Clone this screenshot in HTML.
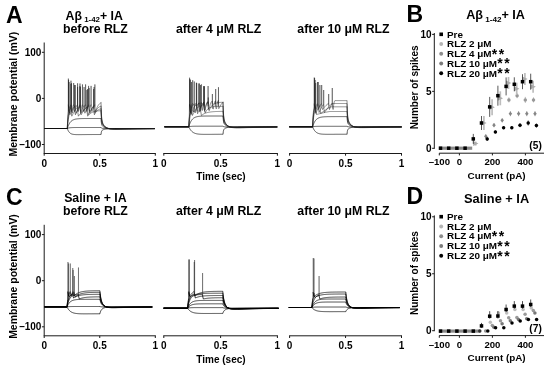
<!DOCTYPE html>
<html><head><meta charset="utf-8"><style>html,body{margin:0;padding:0;background:#fff;width:550px;height:370px;overflow:hidden}</style></head>
<body>
<svg width="550" height="370" viewBox="0 0 550 370" style="display:block;filter:blur(0.38px)">
<rect width="550" height="370" fill="#fff"/>
<g font-family='"Liberation Sans", sans-serif' fill="#000">
<text x="5.9" y="22.7" font-size="23" font-weight="bold" text-anchor="start" >A</text>
<line x1="44.2" y1="42.5" x2="44.2" y2="153.5" stroke="#1a1a1a" stroke-width="1.0"/>
<line x1="41.9" y1="52.3" x2="44.2" y2="52.3" stroke="#1a1a1a" stroke-width="1.0"/>
<line x1="41.9" y1="98.4" x2="44.2" y2="98.4" stroke="#1a1a1a" stroke-width="1.0"/>
<line x1="41.9" y1="144.5" x2="44.2" y2="144.5" stroke="#1a1a1a" stroke-width="1.0"/>
<text x="41.4" y="55.8" font-size="10" font-weight="bold" text-anchor="end" >100</text>
<text x="41.4" y="101.9" font-size="10" font-weight="bold" text-anchor="end" >0</text>
<text x="41.4" y="148" font-size="10" font-weight="bold" text-anchor="end" >–100</text>
<text transform="translate(16.6 94.2) rotate(-90)" font-size="10.45" font-weight="bold" text-anchor="middle">Membrane potential (mV)</text>
<line x1="43.7" y1="153.5" x2="155.8" y2="153.5" stroke="#1a1a1a" stroke-width="1.0"/>
<line x1="44.2" y1="153.5" x2="44.2" y2="155.7" stroke="#1a1a1a" stroke-width="1.0"/>
<text x="44.2" y="166.6" font-size="10" font-weight="bold" text-anchor="middle" >0</text>
<line x1="99.75" y1="153.5" x2="99.75" y2="155.7" stroke="#1a1a1a" stroke-width="1.0"/>
<text x="99.75" y="166.6" font-size="10" font-weight="bold" text-anchor="middle" >0.5</text>
<line x1="155.3" y1="153.5" x2="155.3" y2="155.7" stroke="#1a1a1a" stroke-width="1.0"/>
<text x="155.3" y="166.6" font-size="10" font-weight="bold" text-anchor="middle" >1</text>
<line x1="163.3" y1="153.5" x2="277.9" y2="153.5" stroke="#1a1a1a" stroke-width="1.0"/>
<line x1="163.8" y1="153.5" x2="163.8" y2="155.7" stroke="#1a1a1a" stroke-width="1.0"/>
<text x="163.8" y="166.6" font-size="10" font-weight="bold" text-anchor="middle" >0</text>
<line x1="220.6" y1="153.5" x2="220.6" y2="155.7" stroke="#1a1a1a" stroke-width="1.0"/>
<text x="220.6" y="166.6" font-size="10" font-weight="bold" text-anchor="middle" >0.5</text>
<line x1="277.4" y1="153.5" x2="277.4" y2="155.7" stroke="#1a1a1a" stroke-width="1.0"/>
<text x="277.4" y="166.6" font-size="10" font-weight="bold" text-anchor="middle" >1</text>
<line x1="289.1" y1="153.5" x2="402" y2="153.5" stroke="#1a1a1a" stroke-width="1.0"/>
<line x1="289.6" y1="153.5" x2="289.6" y2="155.7" stroke="#1a1a1a" stroke-width="1.0"/>
<text x="289.6" y="166.6" font-size="10" font-weight="bold" text-anchor="middle" >0</text>
<line x1="345.55" y1="153.5" x2="345.55" y2="155.7" stroke="#1a1a1a" stroke-width="1.0"/>
<text x="345.55" y="166.6" font-size="10" font-weight="bold" text-anchor="middle" >0.5</text>
<line x1="401.5" y1="153.5" x2="401.5" y2="155.7" stroke="#1a1a1a" stroke-width="1.0"/>
<text x="401.5" y="166.6" font-size="10" font-weight="bold" text-anchor="middle" >1</text>
<text x="221" y="180.4" font-size="10" font-weight="bold" text-anchor="middle" >Time (sec)</text>
<text x="65.6" y="20.2" font-size="12.3" font-weight="bold">Aβ<tspan font-size="7.9" dx="2.2" dy="2.1">1-42</tspan><tspan dy="-2.1">+ IA</tspan></text>
<text x="95.4" y="33" font-size="12.3" font-weight="bold" text-anchor="middle" >before RLZ</text>
<text x="218.6" y="33" font-size="12.3" font-weight="bold" text-anchor="middle" >after 4 μM RLZ</text>
<text x="343.5" y="33" font-size="12.3" font-weight="bold" text-anchor="middle" >after 10 μM RLZ</text>
<text x="5.9" y="205" font-size="23" font-weight="bold" text-anchor="start" >C</text>
<line x1="44.2" y1="224.8" x2="44.2" y2="335.8" stroke="#1a1a1a" stroke-width="1.0"/>
<line x1="41.9" y1="234.6" x2="44.2" y2="234.6" stroke="#1a1a1a" stroke-width="1.0"/>
<line x1="41.9" y1="280.7" x2="44.2" y2="280.7" stroke="#1a1a1a" stroke-width="1.0"/>
<line x1="41.9" y1="326.8" x2="44.2" y2="326.8" stroke="#1a1a1a" stroke-width="1.0"/>
<text x="41.4" y="238.1" font-size="10" font-weight="bold" text-anchor="end" >100</text>
<text x="41.4" y="284.2" font-size="10" font-weight="bold" text-anchor="end" >0</text>
<text x="41.4" y="330.3" font-size="10" font-weight="bold" text-anchor="end" >–100</text>
<text transform="translate(16.6 276.5) rotate(-90)" font-size="10.45" font-weight="bold" text-anchor="middle">Membrane potential (mV)</text>
<line x1="43.7" y1="335.8" x2="155.8" y2="335.8" stroke="#1a1a1a" stroke-width="1.0"/>
<line x1="44.2" y1="335.8" x2="44.2" y2="338" stroke="#1a1a1a" stroke-width="1.0"/>
<text x="44.2" y="348.9" font-size="10" font-weight="bold" text-anchor="middle" >0</text>
<line x1="99.75" y1="335.8" x2="99.75" y2="338" stroke="#1a1a1a" stroke-width="1.0"/>
<text x="99.75" y="348.9" font-size="10" font-weight="bold" text-anchor="middle" >0.5</text>
<line x1="155.3" y1="335.8" x2="155.3" y2="338" stroke="#1a1a1a" stroke-width="1.0"/>
<text x="155.3" y="348.9" font-size="10" font-weight="bold" text-anchor="middle" >1</text>
<line x1="163.3" y1="335.8" x2="277.9" y2="335.8" stroke="#1a1a1a" stroke-width="1.0"/>
<line x1="163.8" y1="335.8" x2="163.8" y2="338" stroke="#1a1a1a" stroke-width="1.0"/>
<text x="163.8" y="348.9" font-size="10" font-weight="bold" text-anchor="middle" >0</text>
<line x1="220.6" y1="335.8" x2="220.6" y2="338" stroke="#1a1a1a" stroke-width="1.0"/>
<text x="220.6" y="348.9" font-size="10" font-weight="bold" text-anchor="middle" >0.5</text>
<line x1="277.4" y1="335.8" x2="277.4" y2="338" stroke="#1a1a1a" stroke-width="1.0"/>
<text x="277.4" y="348.9" font-size="10" font-weight="bold" text-anchor="middle" >1</text>
<line x1="289.1" y1="335.8" x2="402" y2="335.8" stroke="#1a1a1a" stroke-width="1.0"/>
<line x1="289.6" y1="335.8" x2="289.6" y2="338" stroke="#1a1a1a" stroke-width="1.0"/>
<text x="289.6" y="348.9" font-size="10" font-weight="bold" text-anchor="middle" >0</text>
<line x1="345.55" y1="335.8" x2="345.55" y2="338" stroke="#1a1a1a" stroke-width="1.0"/>
<text x="345.55" y="348.9" font-size="10" font-weight="bold" text-anchor="middle" >0.5</text>
<line x1="401.5" y1="335.8" x2="401.5" y2="338" stroke="#1a1a1a" stroke-width="1.0"/>
<text x="401.5" y="348.9" font-size="10" font-weight="bold" text-anchor="middle" >1</text>
<text x="221" y="362.7" font-size="10" font-weight="bold" text-anchor="middle" >Time (sec)</text>
<text x="95.4" y="201.8" font-size="12.3" font-weight="bold" text-anchor="middle" >Saline + IA</text>
<text x="95.4" y="215.3" font-size="12.3" font-weight="bold" text-anchor="middle" >before RLZ</text>
<text x="218.6" y="215.3" font-size="12.3" font-weight="bold" text-anchor="middle" >after 4 μM RLZ</text>
<text x="343.5" y="215.3" font-size="12.3" font-weight="bold" text-anchor="middle" >after 10 μM RLZ</text>
<text x="406.6" y="22" font-size="23" font-weight="bold" text-anchor="start" >B</text>
<text x="466.2" y="19.4" font-size="12.6" font-weight="bold">Aβ<tspan font-size="8.1" dx="2.2" dy="2.1">1-42</tspan><tspan dy="-2.1">+ IA</tspan></text>
<line x1="434.3" y1="33" x2="434.3" y2="148.8" stroke="#1a1a1a" stroke-width="1.0"/>
<line x1="432.1" y1="34.4" x2="434.3" y2="34.4" stroke="#1a1a1a" stroke-width="1.0"/>
<text x="431.6" y="37.9" font-size="10" font-weight="bold" text-anchor="end" >10</text>
<line x1="432.1" y1="91.35" x2="434.3" y2="91.35" stroke="#1a1a1a" stroke-width="1.0"/>
<text x="431.6" y="94.85" font-size="10" font-weight="bold" text-anchor="end" >5</text>
<line x1="432.1" y1="148.3" x2="434.3" y2="148.3" stroke="#1a1a1a" stroke-width="1.0"/>
<text x="431.6" y="151.8" font-size="10" font-weight="bold" text-anchor="end" >0</text>
<text transform="translate(418.0 87.4) rotate(-90)" font-size="10.0" font-weight="bold" text-anchor="middle">Number of spikes</text>
<line x1="439.2" y1="153.2" x2="544" y2="153.2" stroke="#1a1a1a" stroke-width="1.0"/>
<line x1="439.3" y1="153.2" x2="439.3" y2="155.4" stroke="#1a1a1a" stroke-width="1.0"/>
<text x="439.3" y="165.3" font-size="9.6" font-weight="bold" text-anchor="middle" >–100</text>
<line x1="459.4" y1="153.2" x2="459.4" y2="155.4" stroke="#1a1a1a" stroke-width="1.0"/>
<text x="459.4" y="165.3" font-size="9.6" font-weight="bold" text-anchor="middle" >0</text>
<line x1="492.4" y1="153.2" x2="492.4" y2="155.4" stroke="#1a1a1a" stroke-width="1.0"/>
<text x="492.4" y="165.3" font-size="9.6" font-weight="bold" text-anchor="middle" >200</text>
<line x1="525.4" y1="153.2" x2="525.4" y2="155.4" stroke="#1a1a1a" stroke-width="1.0"/>
<text x="525.4" y="165.3" font-size="9.6" font-weight="bold" text-anchor="middle" >400</text>
<text x="496.6" y="178.8" font-size="9.9" font-weight="bold" text-anchor="middle" >Current (pA)</text>
<text x="541.8" y="149.4" font-size="10.2" font-weight="bold" text-anchor="end" >(5)</text>
<rect x="439.4" y="32.5" width="3.6" height="3.6" fill="#000"/>
<text x="447" y="37.5" font-size="9.9" font-weight="bold" text-anchor="start" >Pre</text>
<circle cx="441.2" cy="44.05" r="1.95" fill="#b4b4b4"/>
<text x="447" y="47.25" font-size="9.9" font-weight="bold" text-anchor="start" >RLZ 2 μM</text>
<circle cx="441.2" cy="53.8" r="1.95" fill="#8c8c8c"/>
<text x="447" y="57" font-size="9.9" font-weight="bold" text-anchor="start" >RLZ 4 μM<tspan font-size="14" dx="0.4" dy="1.6" letter-spacing="1.4">**</tspan></text>
<circle cx="441.2" cy="63.55" r="1.95" fill="#7a7a7a"/>
<text x="447" y="66.75" font-size="9.9" font-weight="bold" text-anchor="start" >RLZ 10 μM<tspan font-size="14" dx="0.4" dy="1.6" letter-spacing="1.4">**</tspan></text>
<circle cx="441.2" cy="73.3" r="1.95" fill="#000"/>
<text x="447" y="76.5" font-size="9.9" font-weight="bold" text-anchor="start" >RLZ 20 μM<tspan font-size="14" dx="0.4" dy="1.6" letter-spacing="1.4">**</tspan></text>
<text x="406.6" y="204.4" font-size="23" font-weight="bold" text-anchor="start" >D</text>
<text x="496.6" y="202.5" font-size="12.8" font-weight="bold" text-anchor="middle" >Saline + IA</text>
<line x1="434.3" y1="215.4" x2="434.3" y2="331.2" stroke="#1a1a1a" stroke-width="1.0"/>
<line x1="432.1" y1="216.8" x2="434.3" y2="216.8" stroke="#1a1a1a" stroke-width="1.0"/>
<text x="431.6" y="220.3" font-size="10" font-weight="bold" text-anchor="end" >10</text>
<line x1="432.1" y1="273.75" x2="434.3" y2="273.75" stroke="#1a1a1a" stroke-width="1.0"/>
<text x="431.6" y="277.25" font-size="10" font-weight="bold" text-anchor="end" >5</text>
<line x1="432.1" y1="330.7" x2="434.3" y2="330.7" stroke="#1a1a1a" stroke-width="1.0"/>
<text x="431.6" y="334.2" font-size="10" font-weight="bold" text-anchor="end" >0</text>
<text transform="translate(418.0 273.08) rotate(-90)" font-size="10.0" font-weight="bold" text-anchor="middle">Number of spikes</text>
<line x1="439.2" y1="335.6" x2="544" y2="335.6" stroke="#1a1a1a" stroke-width="1.0"/>
<line x1="439.3" y1="335.6" x2="439.3" y2="337.8" stroke="#1a1a1a" stroke-width="1.0"/>
<text x="439.3" y="347.7" font-size="9.6" font-weight="bold" text-anchor="middle" >–100</text>
<line x1="459.4" y1="335.6" x2="459.4" y2="337.8" stroke="#1a1a1a" stroke-width="1.0"/>
<text x="459.4" y="347.7" font-size="9.6" font-weight="bold" text-anchor="middle" >0</text>
<line x1="492.4" y1="335.6" x2="492.4" y2="337.8" stroke="#1a1a1a" stroke-width="1.0"/>
<text x="492.4" y="347.7" font-size="9.6" font-weight="bold" text-anchor="middle" >200</text>
<line x1="525.4" y1="335.6" x2="525.4" y2="337.8" stroke="#1a1a1a" stroke-width="1.0"/>
<text x="525.4" y="347.7" font-size="9.6" font-weight="bold" text-anchor="middle" >400</text>
<text x="496.6" y="361.2" font-size="9.9" font-weight="bold" text-anchor="middle" >Current (pA)</text>
<text x="541.8" y="331.8" font-size="10.2" font-weight="bold" text-anchor="end" >(7)</text>
<rect x="439.4" y="214.9" width="3.6" height="3.6" fill="#000"/>
<text x="447" y="219.9" font-size="9.9" font-weight="bold" text-anchor="start" >Pre</text>
<circle cx="441.2" cy="226.45" r="1.95" fill="#b4b4b4"/>
<text x="447" y="229.65" font-size="9.9" font-weight="bold" text-anchor="start" >RLZ 2 μM</text>
<circle cx="441.2" cy="236.2" r="1.95" fill="#8c8c8c"/>
<text x="447" y="239.4" font-size="9.9" font-weight="bold" text-anchor="start" >RLZ 4 μM<tspan font-size="14" dx="0.4" dy="1.6" letter-spacing="1.4">**</tspan></text>
<circle cx="441.2" cy="245.95" r="1.95" fill="#7a7a7a"/>
<text x="447" y="249.15" font-size="9.9" font-weight="bold" text-anchor="start" >RLZ 10 μM<tspan font-size="14" dx="0.4" dy="1.6" letter-spacing="1.4">**</tspan></text>
<circle cx="441.2" cy="255.7" r="1.95" fill="#000"/>
<text x="447" y="258.9" font-size="9.9" font-weight="bold" text-anchor="start" >RLZ 20 μM<tspan font-size="14" dx="0.4" dy="1.6" letter-spacing="1.4">**</tspan></text>
</g>
<g><path d="M44.5 128.5L67.3 128.5L67.55 129.19L67.8 129.81L68.05 130.36L68.3 130.85L68.55 131.28L68.8 131.67L69.05 132.01L69.3 132.32L69.55 132.59L69.8 132.83L70.05 133.05L70.3 133.24L70.55 133.41L70.8 133.56L71.05 133.69L71.3 133.81L71.55 133.91L71.8 134.01L72.05 134.09L72.3 134.16L72.55 134.22L72.8 134.28L73.05 134.33L73.3 134.37L73.55 134.41L73.8 134.44L74.05 134.47L74.3 134.5L74.55 134.52L74.8 134.54L75.05 134.55L75.3 134.57L75.55 134.58L75.8 134.59L76.05 134.6L76.3 134.61L76.55 134.61L76.8 134.62L77.05 134.62L77.3 134.62L77.55 134.62L77.8 134.63L78.05 134.63L78.3 134.63L78.55 134.63L78.8 134.63L79.05 134.63L79.3 134.63L79.55 134.62L79.8 134.62L80.05 134.62L80.3 134.62L80.55 134.62L80.8 134.62L81.05 134.61L81.3 134.61L81.55 134.61L81.8 134.61L82.05 134.6L82.3 134.6L82.55 134.6L82.8 134.6L83.05 134.6L83.3 134.59L83.55 134.59L83.8 134.59L84.05 134.59L84.3 134.58L84.55 134.58L84.8 134.58L85.05 134.58L85.3 134.58L85.55 134.57L85.8 134.57L86.05 134.57L86.3 134.57L86.55 134.57L86.8 134.56L87.05 134.56L87.3 134.56L87.55 134.56L87.8 134.56L88.05 134.56L88.3 134.55L88.55 134.55L88.8 134.55L89.05 134.55L89.3 134.55L89.55 134.55L89.8 134.55L90.05 134.55L90.3 134.54L90.55 134.54L90.8 134.54L91.05 134.54L91.3 134.54L91.55 134.54L91.8 134.54L92.05 134.54L92.3 134.53L92.55 134.53L92.8 134.53L93.05 134.53L93.3 134.53L93.55 134.53L93.8 134.53L94.05 134.53L94.3 134.53L94.55 134.53L94.8 134.53L95.05 134.53L95.3 134.52L95.55 134.52L95.8 134.52L96.05 134.52L96.3 134.52L96.55 134.52L96.8 134.52L97.05 134.52L97.3 134.52L97.55 134.52L97.8 134.52L98.05 134.52L98.3 134.52L98.55 134.52L98.8 134.52L99.05 134.52L99.3 134.52L99.55 134.52L99.8 134.51L100.05 134.51L100.3 134.51L100.55 134.51L100.8 134.51L101.05 134.51L101 134.51L101.3 132.39L101.6 131.3L101.9 130.7L102.2 130.33L102.5 130.09L102.8 129.91L103.1 129.77L103.4 129.65L103.7 129.54L104 129.44L104.3 129.36L104.6 129.28L104.9 129.21L105.2 129.15L105.5 129.09L105.8 129.04L106.1 128.99L106.4 128.94L106.7 128.91L107 128.87L107.3 128.84L107.6 128.81L107.9 128.78L108.2 128.75L108.5 128.73L108.8 128.71L109.1 128.69L109.4 128.67L109.7 128.66L110 128.64L110.3 128.63L110.6 128.62L110.9 128.61L111.2 128.6L111.5 128.59L111.8 128.58L112.1 128.57L112.4 128.57L112.7 128.56L113 128.56L113.3 128.55L113.6 128.55L113.9 128.54L114.2 128.54L114.5 128.54L114.8 128.53L115.1 128.53L115.4 128.53L115.7 128.52L116 128.52L116.3 128.52L117.3 128.51L118.3 128.51L119.3 128.51L120.3 128.51L121.3 128.5L122.3 128.5L123.3 128.5L124.3 128.5L125.3 128.5L126.3 128.5L127.3 128.5L128.3 128.5L129.3 128.5L130.3 128.5L131.3 128.5L132.3 128.5L133.3 128.5L134.3 128.5L135.3 128.5L136.3 128.5L137.3 128.5L138.3 128.5L139.3 128.5L140.3 128.5L141.3 128.5L142.3 128.5L143.3 128.5L144.3 128.5L145.3 128.5L146.3 128.5L147.3 128.5L148.3 128.5L149.3 128.5L150.3 128.5L151.3 128.5L152.3 128.5L153.3 128.5L154.3 128.5L154.8 128.5" fill="none" stroke="#0a0a0a" stroke-width="0.68" stroke-linejoin="round"/><path d="M44.5 128.5L67.3 128.5L67.55 128.38L67.8 128.28L68.05 128.19L68.3 128.11L68.55 128.04L68.8 127.97L69.05 127.92L69.3 127.87L69.55 127.82L69.8 127.79L70.05 127.75L70.3 127.72L70.55 127.7L70.8 127.67L71.05 127.65L71.3 127.64L71.55 127.62L71.8 127.61L72.05 127.59L72.3 127.58L72.55 127.57L72.8 127.56L73.05 127.56L73.3 127.55L73.55 127.54L73.8 127.54L74.05 127.53L74.3 127.53L74.55 127.53L74.8 127.52L75.05 127.52L75.3 127.52L75.55 127.52L75.8 127.51L76.05 127.51L76.3 127.51L76.55 127.51L76.8 127.51L77.05 127.51L77.3 127.51L77.55 127.51L77.8 127.51L78.05 127.5L78.3 127.5L78.55 127.5L78.8 127.5L79.05 127.5L79.3 127.5L79.55 127.5L79.8 127.5L80.05 127.5L80.3 127.5L80.55 127.5L80.8 127.5L81.05 127.5L81.3 127.5L81.55 127.5L81.8 127.5L82.05 127.5L82.3 127.5L82.55 127.5L82.8 127.5L83.05 127.5L83.3 127.5L83.55 127.5L83.8 127.5L84.05 127.5L84.3 127.5L84.55 127.5L84.8 127.5L85.05 127.5L85.3 127.5L85.55 127.5L85.8 127.5L86.05 127.5L86.3 127.5L86.55 127.5L86.8 127.5L87.05 127.5L87.3 127.5L87.55 127.5L87.8 127.5L88.05 127.5L88.3 127.5L88.55 127.5L88.8 127.5L89.05 127.5L89.3 127.5L89.55 127.5L89.8 127.5L90.05 127.5L90.3 127.5L90.55 127.5L90.8 127.5L91.05 127.5L91.3 127.5L91.55 127.5L91.8 127.5L92.05 127.5L92.3 127.5L92.55 127.5L92.8 127.5L93.05 127.5L93.3 127.5L93.55 127.5L93.8 127.5L94.05 127.5L94.3 127.5L94.55 127.5L94.8 127.5L95.05 127.5L95.3 127.5L95.55 127.5L95.8 127.5L96.05 127.5L96.3 127.5L96.55 127.5L96.8 127.5L97.05 127.5L97.3 127.5L97.55 127.5L97.8 127.5L98.05 127.5L98.3 127.5L98.55 127.5L98.8 127.5L99.05 127.5L99.3 127.5L99.55 127.5L99.8 127.5L100.05 127.5L100.3 127.5L100.55 127.5L100.8 127.5L101.05 127.5L101 127.5L101.3 127.88L101.6 128.09L101.9 128.21L102.2 128.29L102.5 128.35L102.8 128.39L103.1 128.43L103.4 128.46L103.7 128.49L104 128.51L104.3 128.54L104.6 128.56L104.9 128.57L105.2 128.59L105.5 128.6L105.8 128.61L106.1 128.63L106.4 128.64L106.7 128.64L107 128.65L107.3 128.66L107.6 128.66L107.9 128.67L108.2 128.67L108.5 128.68L108.8 128.68L109.1 128.68L109.4 128.68L109.7 128.69L110 128.69L110.3 128.69L110.6 128.69L110.9 128.69L111.2 128.69L111.5 128.69L111.8 128.69L112.1 128.69L112.4 128.69L112.7 128.69L113 128.69L113.3 128.69L113.6 128.69L113.9 128.69L114.2 128.68L114.5 128.68L114.8 128.68L115.1 128.68L115.4 128.68L115.7 128.68L116 128.68L116.3 128.68L117.3 128.67L118.3 128.67L119.3 128.66L120.3 128.66L121.3 128.65L122.3 128.65L123.3 128.64L124.3 128.64L125.3 128.63L126.3 128.63L127.3 128.62L128.3 128.62L129.3 128.62L130.3 128.61L131.3 128.61L132.3 128.61L133.3 128.6L134.3 128.6L135.3 128.6L136.3 128.59L137.3 128.59L138.3 128.59L139.3 128.58L140.3 128.58L141.3 128.58L142.3 128.58L143.3 128.57L144.3 128.57L145.3 128.57L146.3 128.57L147.3 128.56L148.3 128.56L149.3 128.56L150.3 128.56L151.3 128.56L152.3 128.55L153.3 128.55L154.3 128.55L154.8 128.55" fill="none" stroke="#0a0a0a" stroke-width="0.68" stroke-linejoin="round"/><path d="M44.5 128.5L67.3 128.5L67.55 127.7L67.8 126.96L68.05 126.29L68.3 125.67L68.55 125.09L68.8 124.57L69.05 124.08L69.3 123.63L69.55 123.22L69.8 122.85L70.05 122.5L70.3 122.18L70.55 121.88L70.8 121.61L71.05 121.37L71.3 121.14L71.55 120.93L71.8 120.73L72.05 120.55L72.3 120.39L72.55 120.24L72.8 120.1L73.05 119.97L73.3 119.85L73.55 119.75L73.8 119.65L74.05 119.55L74.3 119.47L74.55 119.39L74.8 119.32L75.05 119.26L75.3 119.19L75.55 119.14L75.8 119.09L76.05 119.04L76.3 119L76.55 118.96L76.8 118.92L77.05 118.89L77.3 118.86L77.55 118.83L77.8 118.8L78.05 118.78L78.3 118.76L78.55 118.74L78.8 118.72L79.05 118.7L79.3 118.68L79.55 118.67L79.8 118.66L80.05 118.64L80.3 118.63L80.55 118.62L80.8 118.61L81.05 118.6L81.3 118.59L81.55 118.59L81.8 118.58L82.05 118.57L82.3 118.57L82.55 118.56L82.8 118.56L83.05 118.55L83.3 118.55L83.55 118.54L83.8 118.54L84.05 118.54L84.3 118.53L84.55 118.53L84.8 118.53L85.05 118.53L85.3 118.52L85.55 118.52L85.8 118.52L86.05 118.52L86.3 118.52L86.55 118.52L86.8 118.52L87.05 118.51L87.3 118.51L87.55 118.51L87.8 118.51L88.05 118.51L88.3 118.51L88.55 118.51L88.8 118.51L89.05 118.51L89.3 118.51L89.55 118.51L89.8 118.51L90.05 118.51L90.3 118.5L90.55 118.5L90.8 118.5L91.05 118.5L91.3 118.5L91.55 118.5L91.8 118.5L92.05 118.5L92.3 118.5L92.55 118.5L92.8 118.5L93.05 118.5L93.3 118.5L93.55 118.5L93.8 118.5L94.05 118.5L94.3 118.5L94.55 118.5L94.8 118.5L95.05 118.5L95.3 118.5L95.55 118.5L95.8 118.5L96.05 118.5L96.3 118.5L96.55 118.5L96.8 118.5L97.05 118.5L97.3 118.5L97.55 118.5L97.8 118.5L98.05 118.5L98.3 118.5L98.55 118.5L98.8 118.5L99.05 118.5L99.3 118.5L99.55 118.5L99.8 118.5L100.05 118.5L100.3 118.5L100.55 118.5L100.8 118.5L101.05 118.5L101 118.5L101.3 122.07L101.6 123.93L101.9 124.97L102.2 125.61L102.5 126.04L102.8 126.37L103.1 126.63L103.4 126.85L103.7 127.04L104 127.22L104.3 127.37L104.6 127.51L104.9 127.64L105.2 127.75L105.5 127.85L105.8 127.95L106.1 128.03L106.4 128.11L106.7 128.18L107 128.24L107.3 128.3L107.6 128.35L107.9 128.39L108.2 128.44L108.5 128.47L108.8 128.51L109.1 128.54L109.4 128.57L109.7 128.59L110 128.61L110.3 128.63L110.6 128.65L110.9 128.66L111.2 128.68L111.5 128.69L111.8 128.7L112.1 128.71L112.4 128.72L112.7 128.73L113 128.73L113.3 128.74L113.6 128.75L113.9 128.75L114.2 128.75L114.5 128.76L114.8 128.76L115.1 128.76L115.4 128.76L115.7 128.76L116 128.76L116.3 128.76L117.3 128.76L118.3 128.76L119.3 128.76L120.3 128.75L121.3 128.75L122.3 128.74L123.3 128.73L124.3 128.73L125.3 128.72L126.3 128.71L127.3 128.71L128.3 128.7L129.3 128.69L130.3 128.69L131.3 128.68L132.3 128.68L133.3 128.67L134.3 128.66L135.3 128.66L136.3 128.65L137.3 128.65L138.3 128.64L139.3 128.64L140.3 128.63L141.3 128.63L142.3 128.63L143.3 128.62L144.3 128.62L145.3 128.61L146.3 128.61L147.3 128.61L148.3 128.6L149.3 128.6L150.3 128.6L151.3 128.59L152.3 128.59L153.3 128.59L154.3 128.58L154.8 128.58" fill="none" stroke="#0a0a0a" stroke-width="0.68" stroke-linejoin="round"/><path d="M44.5 128.5L67.3 128.5L67.55 125.78L67.8 123.41L68.05 121.34L68.3 119.55L68.55 117.99L68.8 116.63L69.05 115.44L69.3 114.41L69.55 113.52L69.8 112.74L70.05 112.06L70.3 111.47L70.55 110.95L70.8 110.5L70.9 107.5L71.22 112.28L71.8 116.2L72.06 115.69L72.32 115.19L72.58 114.69L72.84 114.2L73.1 113.72L73.35 113.25L73.61 112.79L73.87 112.33L74.13 111.89L74.39 111.46L74.65 111.03L74.91 110.62L75.17 110.22L75.43 109.84L75.69 109.46L75.95 109.11L76.2 108.77L76.46 108.45L76.72 108.15L76.98 107.89L77.24 107.66L77.5 107.5L77.5 107.5L77.81 112.28L78.4 116.2L78.65 115.86L78.91 115.52L79.16 115.19L79.42 114.85L79.67 114.53L79.93 114.2L80.18 113.88L80.44 113.56L80.69 113.25L80.95 112.94L81.2 112.64L81.45 112.33L81.71 112.04L81.96 111.74L82.22 111.46L82.47 111.17L82.73 110.89L82.98 110.62L83.24 110.35L83.49 110.09L83.75 109.84L84 109.59L84.25 109.34L84.51 109.11L84.76 108.88L85.02 108.66L85.27 108.45L85.53 108.25L85.78 108.06L86.04 107.89L86.29 107.73L86.55 107.59L86.8 107.5L86.8 107.5L87.11 112.28L87.7 116.2L87.95 115.85L88.2 115.53L88.45 115.23L88.7 114.94L88.95 114.67L89.2 114.42L89.45 114.18L89.7 113.96L89.95 113.75L90.2 113.55L90.45 113.37L90.7 113.19L90.95 113.03L91.2 112.88L91.45 112.73L91.7 112.6L91.95 112.47L92.2 112.35L92.45 112.24L92.7 112.13L92.95 112.03L93.2 111.94L93.45 111.85L93.7 111.77L93.95 111.69L94.2 111.62L94.45 111.55L94.7 111.49L94.95 111.43L95.2 111.37L95.45 111.32L95.7 111.27L95.95 111.22L96.2 111.18L96.45 111.14L96.7 111.1L96.95 111.06L97.2 111.03L97.45 111L97.7 110.97L97.95 110.94L98.2 110.91L98.45 110.89L98.7 110.86L98.95 110.84L99.2 110.82L99.45 110.8L99.7 110.78L99.95 110.77L100.2 110.75L100.45 110.74L100.7 110.72L100.95 110.71L101.2 110.7L101 110.7L101.3 117.04L101.6 120.35L101.9 122.2L102.2 123.33L102.5 124.09L102.8 124.66L103.1 125.12L103.4 125.52L103.7 125.86L104 126.16L104.3 126.44L104.6 126.68L104.9 126.91L105.2 127.11L105.5 127.29L105.8 127.45L106.1 127.6L106.4 127.74L106.7 127.86L107 127.97L107.3 128.07L107.6 128.17L107.9 128.25L108.2 128.32L108.5 128.39L108.8 128.45L109.1 128.5L109.4 128.55L109.7 128.6L110 128.64L110.3 128.67L110.6 128.7L110.9 128.73L111.2 128.76L111.5 128.78L111.8 128.8L112.1 128.82L112.4 128.83L112.7 128.85L113 128.86L113.3 128.87L113.6 128.88L113.9 128.89L114.2 128.89L114.5 128.9L114.8 128.9L115.1 128.91L115.4 128.91L115.7 128.91L116 128.92L116.3 128.92L117.3 128.92L118.3 128.92L119.3 128.91L120.3 128.9L121.3 128.89L122.3 128.88L123.3 128.87L124.3 128.86L125.3 128.85L126.3 128.84L127.3 128.83L128.3 128.82L129.3 128.81L130.3 128.8L131.3 128.79L132.3 128.78L133.3 128.77L134.3 128.76L135.3 128.75L136.3 128.75L137.3 128.74L138.3 128.73L139.3 128.72L140.3 128.72L141.3 128.71L142.3 128.7L143.3 128.7L144.3 128.69L145.3 128.68L146.3 128.68L147.3 128.67L148.3 128.67L149.3 128.66L150.3 128.65L151.3 128.65L152.3 128.64L153.3 128.64L154.3 128.64L154.8 128.63" fill="none" stroke="#1a1a1a" stroke-width="0.5" stroke-linejoin="round"/><path d="M44.5 128.5L67.3 128.5L67.55 124.36L67.8 121L68.05 118.28L68.3 116.06L68.55 114.26L68.8 112.8L69 106.5L69.31 111.06L69.9 114.8L70.16 114.21L70.41 113.62L70.67 113.05L70.92 112.49L71.18 111.94L71.43 111.4L71.69 110.88L71.94 110.37L72.2 109.87L72.46 109.39L72.71 108.93L72.97 108.49L73.22 108.07L73.48 107.67L73.73 107.31L73.99 106.98L74.24 106.69L74.5 106.5L74.5 106.5L74.81 111.06L75.4 114.8L75.65 114.24L75.91 113.68L76.16 113.14L76.41 112.6L76.66 112.08L76.92 111.57L77.17 111.07L77.42 110.58L77.67 110.1L77.93 109.64L78.18 109.2L78.43 108.77L78.68 108.35L78.94 107.96L79.19 107.59L79.44 107.25L79.69 106.94L79.95 106.68L80.2 106.5L80.2 106.5L80.52 111.06L81.1 114.8L81.35 114.37L81.6 113.95L81.86 113.53L82.11 113.12L82.36 112.71L82.61 112.31L82.86 111.92L83.12 111.53L83.37 111.15L83.62 110.77L83.87 110.41L84.12 110.05L84.38 109.7L84.63 109.35L84.88 109.02L85.13 108.7L85.38 108.39L85.64 108.09L85.89 107.8L86.14 107.52L86.39 107.27L86.64 107.03L86.9 106.81L87.15 106.63L87.4 106.5L87.4 106.5L87.72 111.06L88.3 114.8L88.56 114.26L88.82 113.74L89.08 113.22L89.34 112.71L89.6 112.21L89.86 111.72L90.12 111.24L90.38 110.77L90.64 110.32L90.9 109.87L91.16 109.44L91.42 109.02L91.68 108.62L91.94 108.24L92.2 107.87L92.46 107.52L92.72 107.2L92.98 106.92L93.24 106.67L93.5 106.5L93.5 106.5L93.81 111.06L94.4 114.8L94.65 114.26L94.9 113.76L95.15 113.3L95.4 112.87L95.65 112.48L95.9 112.12L96.15 111.79L96.4 111.49L96.65 111.21L96.9 110.96L97.15 110.72L97.4 110.5L97.65 110.3L97.9 110.12L98.15 109.95L98.4 109.79L98.65 109.65L98.9 109.52L99.15 109.4L99.4 109.28L99.65 109.18L99.9 109.09L100.15 109L100.4 108.92L100.65 108.85L100.9 108.78L101.15 108.72L101 108.72L101.3 115.78L101.6 119.47L101.9 121.53L102.2 122.79L102.5 123.64L102.8 124.28L103.1 124.8L103.4 125.24L103.7 125.62L104 125.97L104.3 126.27L104.6 126.55L104.9 126.8L105.2 127.02L105.5 127.23L105.8 127.41L106.1 127.58L106.4 127.73L106.7 127.87L107 127.99L107.3 128.11L107.6 128.21L107.9 128.3L108.2 128.38L108.5 128.46L108.8 128.52L109.1 128.58L109.4 128.64L109.7 128.69L110 128.73L110.3 128.77L110.6 128.8L110.9 128.83L111.2 128.86L111.5 128.89L111.8 128.91L112.1 128.93L112.4 128.94L112.7 128.96L113 128.97L113.3 128.98L113.6 128.99L113.9 129L114.2 129.01L114.5 129.01L114.8 129.02L115.1 129.02L115.4 129.03L115.7 129.03L116 129.03L116.3 129.03L117.3 129.03L118.3 129.02L119.3 129.02L120.3 129.01L121.3 128.99L122.3 128.98L123.3 128.97L124.3 128.95L125.3 128.94L126.3 128.93L127.3 128.91L128.3 128.9L129.3 128.89L130.3 128.88L131.3 128.86L132.3 128.85L133.3 128.84L134.3 128.83L135.3 128.82L136.3 128.81L137.3 128.8L138.3 128.79L139.3 128.78L140.3 128.77L141.3 128.76L142.3 128.75L143.3 128.74L144.3 128.74L145.3 128.73L146.3 128.72L147.3 128.71L148.3 128.71L149.3 128.7L150.3 128.69L151.3 128.69L152.3 128.68L153.3 128.67L154.3 128.67L154.8 128.66" fill="none" stroke="#1a1a1a" stroke-width="0.5" stroke-linejoin="round"/><path d="M44.5 128.5L67.3 128.5L67.55 123.41L67.8 119.45L68.05 116.36L68.3 113.96L68.5 105.5L68.81 109.73L69.4 113.2L69.67 111.8L69.94 110.47L70.21 109.22L70.49 108.06L70.76 107.01L71.03 106.11L71.3 105.5L71.3 105.5L71.61 109.73L72.2 113.2L72.47 112.3L72.75 111.43L73.02 110.59L73.29 109.78L73.56 109L73.84 108.26L74.11 107.57L74.38 106.92L74.65 106.34L74.93 105.84L75.2 105.5L75.2 105.5L75.52 109.73L76.1 113.2L76.35 112.54L76.61 111.89L76.86 111.26L77.11 110.64L77.37 110.05L77.62 109.46L77.87 108.9L78.13 108.36L78.38 107.84L78.63 107.35L78.89 106.88L79.14 106.45L79.39 106.06L79.65 105.73L79.9 105.5L79.9 105.5L80.22 109.73L80.8 113.2L81.07 112.38L81.33 111.58L81.6 110.8L81.87 110.05L82.13 109.32L82.4 108.63L82.67 107.97L82.93 107.35L83.2 106.77L83.47 106.25L83.73 105.8L84 105.5L84 105.5L84.31 109.73L84.9 113.2L85.16 112.58L85.41 111.97L85.67 111.38L85.93 110.8L86.18 110.23L86.44 109.68L86.69 109.14L86.95 108.63L87.21 108.13L87.46 107.65L87.72 107.2L87.97 106.77L88.23 106.37L88.49 106.02L88.74 105.71L89 105.5L89 105.5L89.31 109.73L89.9 113.2L90.16 112.58L90.41 111.97L90.67 111.38L90.93 110.8L91.18 110.23L91.44 109.68L91.69 109.14L91.95 108.63L92.21 108.13L92.46 107.65L92.72 107.2L92.97 106.77L93.23 106.37L93.49 106.02L93.74 105.71L94 105.5L94 105.5L94.31 109.73L94.9 113.2L95.15 112.54L95.4 111.94L95.65 111.39L95.9 110.88L96.15 110.41L96.4 109.97L96.65 109.58L96.9 109.21L97.15 108.87L97.4 108.56L97.65 108.28L97.9 108.02L98.15 107.78L98.4 107.55L98.65 107.35L98.9 107.16L99.15 106.99L99.4 106.83L99.65 106.68L99.9 106.55L100.15 106.42L100.4 106.31L100.65 106.21L100.9 106.11L101.15 106.02L101 106.02L101.3 114.06L101.6 118.27L101.9 120.62L102.2 122.06L102.5 123.04L102.8 123.78L103.1 124.37L103.4 124.88L103.7 125.32L104 125.71L104.3 126.07L104.6 126.38L104.9 126.67L105.2 126.93L105.5 127.17L105.8 127.38L106.1 127.57L106.4 127.74L106.7 127.9L107 128.04L107.3 128.17L107.6 128.28L107.9 128.39L108.2 128.48L108.5 128.57L108.8 128.64L109.1 128.71L109.4 128.77L109.7 128.83L110 128.88L110.3 128.92L110.6 128.96L110.9 128.99L111.2 129.02L111.5 129.05L111.8 129.07L112.1 129.1L112.4 129.11L112.7 129.13L113 129.14L113.3 129.16L113.6 129.17L113.9 129.17L114.2 129.18L114.5 129.19L114.8 129.19L115.1 129.2L115.4 129.2L115.7 129.2L116 129.2L116.3 129.2L117.3 129.2L118.3 129.19L119.3 129.18L120.3 129.16L121.3 129.14L122.3 129.13L123.3 129.11L124.3 129.09L125.3 129.07L126.3 129.06L127.3 129.04L128.3 129.02L129.3 129L130.3 128.99L131.3 128.97L132.3 128.96L133.3 128.94L134.3 128.93L135.3 128.91L136.3 128.9L137.3 128.89L138.3 128.87L139.3 128.86L140.3 128.85L141.3 128.84L142.3 128.83L143.3 128.82L144.3 128.81L145.3 128.8L146.3 128.79L147.3 128.78L148.3 128.77L149.3 128.76L150.3 128.75L151.3 128.74L152.3 128.74L153.3 128.73L154.3 128.72L154.8 128.71" fill="none" stroke="#1a1a1a" stroke-width="0.5" stroke-linejoin="round"/><path d="M44.5 128.5L67.3 128.5L67.55 122.06L67.8 117.35L68.05 113.9L68.3 111.38L68.3 104.5L68.61 108.35L69.2 111.5L69.48 110.02L69.77 108.63L70.05 107.34L70.33 106.18L70.62 105.18L70.9 104.5L70.9 104.5L71.22 108.35L71.8 111.5L72.1 110.02L72.4 108.63L72.7 107.34L73 106.18L73.3 105.18L73.6 104.5L73.6 104.5L73.91 108.35L74.5 111.5L74.77 110.68L75.05 109.89L75.32 109.13L75.59 108.39L75.86 107.68L76.14 107.01L76.41 106.38L76.68 105.79L76.95 105.26L77.23 104.81L77.5 104.5L77.5 104.5L77.81 108.35L78.4 111.5L78.7 109.74L79 108.1L79.3 106.63L79.6 105.36L79.9 104.5L79.9 104.5L80.22 108.35L80.8 111.5L81.07 110.02L81.33 108.63L81.6 107.34L81.87 106.18L82.13 105.18L82.4 104.5L82.4 104.5L82.72 108.35L83.3 111.5L83.58 110.38L83.85 109.32L84.12 108.3L84.4 107.34L84.68 106.46L84.95 105.65L85.22 104.97L85.5 104.5L85.5 104.5L85.81 108.35L86.4 111.5L86.66 110.38L86.93 109.32L87.19 108.3L87.45 107.34L87.71 106.46L87.97 105.65L88.24 104.97L88.5 104.5L88.5 104.5L88.81 108.35L89.4 111.5L89.67 110.02L89.93 108.63L90.2 107.34L90.47 106.18L90.73 105.18L91 104.5L91 104.5L91.31 108.35L91.9 111.5L92.16 110.68L92.43 109.89L92.69 109.13L92.95 108.39L93.22 107.68L93.48 107.01L93.75 106.38L94.01 105.79L94.27 105.26L94.54 104.81L94.8 104.5L94.8 104.5L95.11 108.35L95.7 111.5L95.95 110.64L96.2 109.86L96.45 109.13L96.7 108.47L96.95 107.85L97.2 107.29L97.45 106.77L97.7 106.29L97.95 105.85L98.2 105.45L98.45 105.08L98.7 104.74L98.95 104.42L99.2 104.13L99.45 103.87L99.7 103.62L99.95 103.39L100.2 103.19L100.45 103L100.7 102.82L100.95 102.66L101.2 102.51L101 102.51L101.3 111.82L101.6 116.69L101.9 119.41L102.2 121.09L102.5 122.23L102.8 123.08L103.1 123.78L103.4 124.36L103.7 124.88L104 125.34L104.3 125.75L104.6 126.11L104.9 126.45L105.2 126.75L105.5 127.02L105.8 127.27L106.1 127.49L106.4 127.69L106.7 127.87L107 128.04L107.3 128.19L107.6 128.32L107.9 128.44L108.2 128.55L108.5 128.65L108.8 128.73L109.1 128.81L109.4 128.88L109.7 128.95L110 129L110.3 129.05L110.6 129.1L110.9 129.14L111.2 129.17L111.5 129.2L111.8 129.23L112.1 129.25L112.4 129.27L112.7 129.29L113 129.31L113.3 129.32L113.6 129.33L113.9 129.34L114.2 129.35L114.5 129.36L114.8 129.36L115.1 129.36L115.4 129.37L115.7 129.37L116 129.37L116.3 129.37L117.3 129.36L118.3 129.35L119.3 129.33L120.3 129.31L121.3 129.29L122.3 129.27L123.3 129.25L124.3 129.23L125.3 129.21L126.3 129.18L127.3 129.16L128.3 129.14L129.3 129.12L130.3 129.1L131.3 129.08L132.3 129.06L133.3 129.04L134.3 129.03L135.3 129.01L136.3 128.99L137.3 128.98L138.3 128.96L139.3 128.95L140.3 128.93L141.3 128.92L142.3 128.9L143.3 128.89L144.3 128.88L145.3 128.87L146.3 128.85L147.3 128.84L148.3 128.83L149.3 128.82L150.3 128.81L151.3 128.8L152.3 128.79L153.3 128.78L154.3 128.77L154.8 128.76" fill="none" stroke="#1a1a1a" stroke-width="0.5" stroke-linejoin="round"/><path d="M70.9 107.5L70.98 84L71.08 109.5M77.5 107.5L77.58 87L77.68 109.5M86.8 107.5L86.88 90L86.98 109.5M69 106.5L69.08 82L69.18 108.5M74.5 106.5L74.58 85L74.68 108.5M80.2 106.5L80.28 87L80.38 108.5M87.4 106.5L87.48 89L87.58 108.5M93.5 106.5L93.58 89L93.68 108.5M68.5 105.5L68.58 80L68.68 107.5M71.3 105.5L71.38 83L71.48 107.5M75.2 105.5L75.28 85L75.38 107.5M79.9 105.5L79.98 86L80.08 107.5M84 105.5L84.08 87L84.18 107.5M89 105.5L89.08 88L89.18 107.5M94 105.5L94.08 87L94.18 107.5M68.3 104.5L68.38 78.6L68.48 106.5M70.9 104.5L70.98 80.7L71.08 106.5M73.6 104.5L73.68 83L73.78 106.5M77.5 104.5L77.58 83.3L77.68 106.5M79.9 104.5L79.98 83.5L80.08 106.5M82.4 104.5L82.48 84.4L82.58 106.5M85.5 104.5L85.58 84.4L85.68 106.5M88.5 104.5L88.58 85.9L88.68 106.5M91 104.5L91.08 85.9L91.18 106.5M94.8 104.5L94.88 84.4L94.98 106.5" fill="none" stroke="#1e1e1e" stroke-width="0.45" stroke-linejoin="round"/><line x1="44.5" y1="128.5" x2="67.3" y2="128.5" stroke="#000" stroke-width="0.5"/><path d="M164.4 126.8L188.8 126.8L189.05 127.35L189.3 127.86L189.55 128.34L189.8 128.78L190.05 129.19L190.3 129.58L190.55 129.93L190.8 130.26L191.05 130.57L191.3 130.85L191.55 131.12L191.8 131.37L192.05 131.59L192.3 131.81L192.55 132L192.8 132.19L193.05 132.36L193.3 132.51L193.55 132.66L193.8 132.79L194.05 132.92L194.3 133.04L194.55 133.14L194.8 133.24L195.05 133.34L195.3 133.42L195.55 133.5L195.8 133.58L196.05 133.64L196.3 133.71L196.55 133.76L196.8 133.82L197.05 133.87L197.3 133.91L197.55 133.96L197.8 133.99L198.05 134.03L198.3 134.06L198.55 134.09L198.8 134.12L199.05 134.15L199.3 134.17L199.55 134.19L199.8 134.21L200.05 134.23L200.3 134.25L200.55 134.26L200.8 134.27L201.05 134.29L201.3 134.3L201.55 134.31L201.8 134.32L202.05 134.32L202.3 134.33L202.55 134.34L202.8 134.34L203.05 134.35L203.3 134.35L203.55 134.36L203.8 134.36L204.05 134.36L204.3 134.37L204.55 134.37L204.8 134.37L205.05 134.37L205.3 134.37L205.55 134.37L205.8 134.37L206.05 134.37L206.3 134.37L206.55 134.37L206.8 134.37L207.05 134.37L207.3 134.37L207.55 134.37L207.8 134.37L208.05 134.37L208.3 134.37L208.55 134.37L208.8 134.36L209.05 134.36L209.3 134.36L209.55 134.36L209.8 134.36L210.05 134.36L210.3 134.35L210.55 134.35L210.8 134.35L211.05 134.35L211.3 134.35L211.55 134.35L211.8 134.34L212.05 134.34L212.3 134.34L212.55 134.34L212.8 134.34L213.05 134.33L213.3 134.33L213.55 134.33L213.8 134.33L214.05 134.33L214.3 134.32L214.55 134.32L214.8 134.32L215.05 134.32L215.3 134.32L215.55 134.31L215.8 134.31L216.05 134.31L216.3 134.31L216.55 134.31L216.8 134.31L217.05 134.3L217.3 134.3L217.55 134.3L217.8 134.3L218.05 134.3L218.3 134.3L218.55 134.29L218.8 134.29L219.05 134.29L219.3 134.29L219.55 134.29L219.8 134.29L220.05 134.28L220.3 134.28L220.55 134.28L220.8 134.28L221.05 134.28L221.3 134.28L221.55 134.28L221.8 134.28L222.05 134.27L222.3 134.27L222.55 134.27L222.8 134.27L223.05 134.27L223 134.27L223.3 131.64L223.6 130.28L223.9 129.53L224.2 129.08L224.5 128.77L224.8 128.55L225.1 128.37L225.4 128.22L225.7 128.09L226 127.97L226.3 127.87L226.6 127.77L226.9 127.68L227.2 127.6L227.5 127.53L227.8 127.47L228.1 127.41L228.4 127.35L228.7 127.3L229 127.26L229.3 127.22L229.6 127.18L229.9 127.15L230.2 127.11L230.5 127.09L230.8 127.06L231.1 127.04L231.4 127.02L231.7 127L232 126.98L232.3 126.96L232.6 126.95L232.9 126.94L233.2 126.92L233.5 126.91L233.8 126.9L234.1 126.89L234.4 126.88L234.7 126.88L235 126.87L235.3 126.86L235.6 126.86L235.9 126.85L236.2 126.85L236.5 126.84L236.8 126.84L237.1 126.84L237.4 126.83L237.7 126.83L238 126.83L239 126.82L240 126.81L241 126.81L242 126.81L243 126.81L244 126.8L245 126.8L246 126.8L247 126.8L248 126.8L249 126.8L250 126.8L251 126.8L252 126.8L253 126.8L254 126.8L255 126.8L256 126.8L257 126.8L258 126.8L259 126.8L260 126.8L261 126.8L262 126.8L263 126.8L264 126.8L265 126.8L266 126.8L267 126.8L268 126.8L269 126.8L270 126.8L271 126.8L272 126.8L273 126.8L274 126.8L275 126.8L276 126.8L277 126.8L277.3 126.8" fill="none" stroke="#0a0a0a" stroke-width="0.68" stroke-linejoin="round"/><path d="M164.4 126.8L188.8 126.8L189.05 126.73L189.3 126.67L189.55 126.61L189.8 126.56L190.05 126.52L190.3 126.48L190.55 126.45L190.8 126.42L191.05 126.39L191.3 126.37L191.55 126.35L191.8 126.33L192.05 126.32L192.3 126.3L192.55 126.29L192.8 126.28L193.05 126.27L193.3 126.26L193.55 126.26L193.8 126.25L194.05 126.24L194.3 126.24L194.55 126.23L194.8 126.23L195.05 126.23L195.3 126.22L195.55 126.22L195.8 126.22L196.05 126.22L196.3 126.21L196.55 126.21L196.8 126.21L197.05 126.21L197.3 126.21L197.55 126.21L197.8 126.21L198.05 126.21L198.3 126.21L198.55 126.2L198.8 126.2L199.05 126.2L199.3 126.2L199.55 126.2L199.8 126.2L200.05 126.2L200.3 126.2L200.55 126.2L200.8 126.2L201.05 126.2L201.3 126.2L201.55 126.2L201.8 126.2L202.05 126.2L202.3 126.2L202.55 126.2L202.8 126.2L203.05 126.2L203.3 126.2L203.55 126.2L203.8 126.2L204.05 126.2L204.3 126.2L204.55 126.2L204.8 126.2L205.05 126.2L205.3 126.2L205.55 126.2L205.8 126.2L206.05 126.2L206.3 126.2L206.55 126.2L206.8 126.2L207.05 126.2L207.3 126.2L207.55 126.2L207.8 126.2L208.05 126.2L208.3 126.2L208.55 126.2L208.8 126.2L209.05 126.2L209.3 126.2L209.55 126.2L209.8 126.2L210.05 126.2L210.3 126.2L210.55 126.2L210.8 126.2L211.05 126.2L211.3 126.2L211.55 126.2L211.8 126.2L212.05 126.2L212.3 126.2L212.55 126.2L212.8 126.2L213.05 126.2L213.3 126.2L213.55 126.2L213.8 126.2L214.05 126.2L214.3 126.2L214.55 126.2L214.8 126.2L215.05 126.2L215.3 126.2L215.55 126.2L215.8 126.2L216.05 126.2L216.3 126.2L216.55 126.2L216.8 126.2L217.05 126.2L217.3 126.2L217.55 126.2L217.8 126.2L218.05 126.2L218.3 126.2L218.55 126.2L218.8 126.2L219.05 126.2L219.3 126.2L219.55 126.2L219.8 126.2L220.05 126.2L220.3 126.2L220.55 126.2L220.8 126.2L221.05 126.2L221.3 126.2L221.55 126.2L221.8 126.2L222.05 126.2L222.3 126.2L222.55 126.2L222.8 126.2L223.05 126.2L223 126.2L223.3 126.45L223.6 126.59L223.9 126.68L224.2 126.74L224.5 126.79L224.8 126.83L225.1 126.86L225.4 126.89L225.7 126.91L226 126.93L226.3 126.95L226.6 126.97L226.9 126.98L227.2 127L227.5 127.01L227.8 127.02L228.1 127.03L228.4 127.03L228.7 127.04L229 127.05L229.3 127.05L229.6 127.05L229.9 127.06L230.2 127.06L230.5 127.06L230.8 127.06L231.1 127.07L231.4 127.07L231.7 127.07L232 127.07L232.3 127.07L232.6 127.07L232.9 127.07L233.2 127.07L233.5 127.06L233.8 127.06L234.1 127.06L234.4 127.06L234.7 127.06L235 127.06L235.3 127.06L235.6 127.05L235.9 127.05L236.2 127.05L236.5 127.05L236.8 127.05L237.1 127.04L237.4 127.04L237.7 127.04L238 127.04L239 127.03L240 127.02L241 127.02L242 127.01L243 127L244 127L245 126.99L246 126.99L247 126.98L248 126.97L249 126.97L250 126.96L251 126.96L252 126.95L253 126.95L254 126.94L255 126.94L256 126.93L257 126.93L258 126.92L259 126.92L260 126.92L261 126.91L262 126.91L263 126.91L264 126.9L265 126.9L266 126.9L267 126.89L268 126.89L269 126.89L270 126.88L271 126.88L272 126.88L273 126.88L274 126.87L275 126.87L276 126.87L277 126.87L277.3 126.86" fill="none" stroke="#0a0a0a" stroke-width="0.68" stroke-linejoin="round"/><path d="M164.4 126.8L188.8 126.8L189.05 125.94L189.3 125.14L189.55 124.41L189.8 123.74L190.05 123.12L190.3 122.55L190.55 122.03L190.8 121.54L191.05 121.1L191.3 120.69L191.55 120.32L191.8 119.97L192.05 119.66L192.3 119.36L192.55 119.09L192.8 118.85L193.05 118.62L193.3 118.41L193.55 118.22L193.8 118.04L194.05 117.88L194.3 117.73L194.55 117.59L194.8 117.46L195.05 117.34L195.3 117.24L195.55 117.14L195.8 117.05L196.05 116.96L196.3 116.89L196.55 116.82L196.8 116.75L197.05 116.69L197.3 116.64L197.55 116.58L197.8 116.54L198.05 116.49L198.3 116.46L198.55 116.42L198.8 116.39L199.05 116.35L199.3 116.33L199.55 116.3L199.8 116.28L200.05 116.25L200.3 116.23L200.55 116.21L200.8 116.2L201.05 116.18L201.3 116.17L201.55 116.15L201.8 116.14L202.05 116.13L202.3 116.12L202.55 116.11L202.8 116.1L203.05 116.09L203.3 116.09L203.55 116.08L203.8 116.07L204.05 116.07L204.3 116.06L204.55 116.06L204.8 116.05L205.05 116.05L205.3 116.04L205.55 116.04L205.8 116.04L206.05 116.03L206.3 116.03L206.55 116.03L206.8 116.03L207.05 116.02L207.3 116.02L207.55 116.02L207.8 116.02L208.05 116.02L208.3 116.02L208.55 116.01L208.8 116.01L209.05 116.01L209.3 116.01L209.55 116.01L209.8 116.01L210.05 116.01L210.3 116.01L210.55 116.01L210.8 116.01L211.05 116.01L211.3 116.01L211.55 116.01L211.8 116.01L212.05 116L212.3 116L212.55 116L212.8 116L213.05 116L213.3 116L213.55 116L213.8 116L214.05 116L214.3 116L214.55 116L214.8 116L215.05 116L215.3 116L215.55 116L215.8 116L216.05 116L216.3 116L216.55 116L216.8 116L217.05 116L217.3 116L217.55 116L217.8 116L218.05 116L218.3 116L218.55 116L218.8 116L219.05 116L219.3 116L219.55 116L219.8 116L220.05 116L220.3 116L220.55 116L220.8 116L221.05 116L221.3 116L221.55 116L221.8 116L222.05 116L222.3 116L222.55 116L222.8 116L223.05 116L223 116L223.3 119.87L223.6 121.9L223.9 123.03L224.2 123.73L224.5 124.21L224.8 124.56L225.1 124.85L225.4 125.1L225.7 125.31L226 125.51L226.3 125.68L226.6 125.83L226.9 125.97L227.2 126.1L227.5 126.21L227.8 126.31L228.1 126.41L228.4 126.49L228.7 126.56L229 126.63L229.3 126.69L229.6 126.75L229.9 126.8L230.2 126.85L230.5 126.89L230.8 126.92L231.1 126.95L231.4 126.98L231.7 127.01L232 127.03L232.3 127.05L232.6 127.07L232.9 127.09L233.2 127.1L233.5 127.12L233.8 127.13L234.1 127.14L234.4 127.15L234.7 127.15L235 127.16L235.3 127.16L235.6 127.17L235.9 127.17L236.2 127.18L236.5 127.18L236.8 127.18L237.1 127.18L237.4 127.18L237.7 127.18L238 127.18L239 127.18L240 127.17L241 127.17L242 127.16L243 127.15L244 127.14L245 127.13L246 127.12L247 127.11L248 127.1L249 127.09L250 127.08L251 127.07L252 127.07L253 127.06L254 127.05L255 127.04L256 127.03L257 127.03L258 127.02L259 127.01L260 127L261 127L262 126.99L263 126.98L264 126.98L265 126.97L266 126.97L267 126.96L268 126.96L269 126.95L270 126.95L271 126.94L272 126.94L273 126.93L274 126.93L275 126.92L276 126.92L277 126.92L277.3 126.91" fill="none" stroke="#0a0a0a" stroke-width="0.68" stroke-linejoin="round"/><path d="M164.4 126.8L188.8 126.8L189.05 124.17L189.3 121.88L189.55 119.88L189.8 118.15L190.05 116.64L190.3 115.32L190.55 114.18L190.8 113.18L191.05 112.32L191.3 111.56L191.4 106.5L191.75 111.45L192.4 115.5L192.66 114.93L192.92 114.38L193.17 113.84L193.43 113.33L193.69 112.83L193.95 112.35L194.21 111.89L194.46 111.45L194.72 111.03L194.98 110.63L195.24 110.25L195.5 109.88L195.75 109.53L196.01 109.21L196.27 108.9L196.53 108.61L196.79 108.34L197.05 108.08L197.3 107.85L197.56 107.63L197.82 107.44L198.08 107.26L198.34 107.1L198.59 106.96L198.85 106.84L199.11 106.73L199.37 106.65L199.63 106.58L199.88 106.54L200.14 106.51L200.4 106.5L200.4 106.5L200.75 111.45L201.4 115.5L201.65 115.3L201.9 115.1L202.15 114.91L202.4 114.74L202.65 114.57L202.9 114.41L203.15 114.26L203.4 114.12L203.65 113.98L203.9 113.85L204.15 113.72L204.4 113.61L204.65 113.49L204.9 113.39L205.15 113.28L205.4 113.19L205.65 113.1L205.9 113.01L206.15 112.92L206.4 112.85L206.65 112.77L206.9 112.7L207.15 112.63L207.4 112.57L207.65 112.5L207.9 112.44L208.15 112.39L208.4 112.34L208.65 112.29L208.9 112.24L209.15 112.19L209.4 112.15L209.65 112.11L209.9 112.07L210.15 112.03L210.4 111.99L210.65 111.96L210.9 111.93L211.15 111.9L211.4 111.87L211.65 111.84L211.9 111.81L212.15 111.79L212.4 111.77L212.65 111.74L212.9 111.72L213.15 111.7L213.4 111.68L213.65 111.66L213.9 111.64L214.15 111.63L214.4 111.61L214.65 111.6L214.9 111.58L215.15 111.57L215.4 111.56L215.65 111.54L215.9 111.53L216.15 111.52L216.4 111.51L216.65 111.5L216.9 111.49L217.15 111.48L217.4 111.47L217.65 111.46L217.9 111.45L218.15 111.45L218.4 111.44L218.65 111.43L218.9 111.43L219.15 111.42L219.4 111.41L219.65 111.41L219.9 111.4L220.15 111.4L220.4 111.39L220.65 111.39L220.9 111.39L221.15 111.38L221.4 111.38L221.65 111.37L221.9 111.37L222.15 111.37L222.4 111.36L222.65 111.36L222.9 111.36L223.15 111.35L223 111.35L223.3 116.89L223.6 119.79L223.9 121.41L224.2 122.41L224.5 123.09L224.8 123.6L225.1 124.02L225.4 124.37L225.7 124.67L226 124.95L226.3 125.19L226.6 125.41L226.9 125.61L227.2 125.79L227.5 125.95L227.8 126.1L228.1 126.23L228.4 126.35L228.7 126.46L229 126.56L229.3 126.65L229.6 126.73L229.9 126.8L230.2 126.86L230.5 126.92L230.8 126.97L231.1 127.02L231.4 127.06L231.7 127.1L232 127.13L232.3 127.16L232.6 127.19L232.9 127.21L233.2 127.23L233.5 127.25L233.8 127.27L234.1 127.28L234.4 127.29L234.7 127.3L235 127.31L235.3 127.32L235.6 127.33L235.9 127.33L236.2 127.34L236.5 127.34L236.8 127.34L237.1 127.34L237.4 127.35L237.7 127.35L238 127.35L239 127.34L240 127.33L241 127.33L242 127.31L243 127.3L244 127.29L245 127.27L246 127.26L247 127.25L248 127.23L249 127.22L250 127.21L251 127.19L252 127.18L253 127.17L254 127.16L255 127.14L256 127.13L257 127.12L258 127.11L259 127.1L260 127.09L261 127.08L262 127.07L263 127.06L264 127.05L265 127.05L266 127.04L267 127.03L268 127.02L269 127.02L270 127.01L271 127L272 127L273 126.99L274 126.98L275 126.98L276 126.97L277 126.97L277.3 126.96" fill="none" stroke="#1a1a1a" stroke-width="0.5" stroke-linejoin="round"/><path d="M164.4 126.8L188.8 126.8L189.05 122.79L189.3 119.54L189.55 116.9L189.8 114.76L190.05 113.02L190.2 105.5L190.55 110.45L191.2 114.5L191.46 113.61L191.71 112.76L191.97 111.95L192.23 111.19L192.49 110.47L192.74 109.8L193 109.17L193.26 108.58L193.51 108.03L193.77 107.53L194.03 107.08L194.29 106.66L194.54 106.29L194.8 105.97L195.06 105.68L195.31 105.44L195.57 105.25L195.83 105.1L196.09 104.99L196.34 104.92L196.6 104.9L196.6 105.5L196.95 110.45L197.6 113.7L197.85 112.99L198.11 112.31L198.36 111.66L198.62 111.03L198.87 110.43L199.12 109.86L199.38 109.32L199.63 108.81L199.88 108.32L200.14 107.86L200.39 107.43L200.65 107.03L200.9 106.65L201.15 106.3L201.41 105.98L201.66 105.69L201.92 105.43L202.17 105.19L202.42 104.98L202.68 104.8L202.93 104.65L203.18 104.52L203.44 104.43L203.69 104.36L203.95 104.31L204.2 104.3L204.2 105.5L204.55 110.45L205.2 112.9L205.45 112.37L205.7 111.89L205.95 111.44L206.2 111.03L206.45 110.65L206.7 110.3L206.95 109.98L207.2 109.69L207.45 109.42L207.7 109.17L207.95 108.94L208.2 108.73L208.45 108.53L208.7 108.36L208.95 108.19L209.2 108.04L209.45 107.9L209.7 107.77L209.95 107.65L210.2 107.55L210.45 107.45L210.7 107.36L210.95 107.27L211.2 107.19L211.45 107.12L211.7 107.06L211.95 107L212.2 106.94L212.45 106.89L212.7 106.84L212.95 106.8L213.2 106.76L213.45 106.72L213.7 106.69L213.95 106.66L214.2 106.63L214.45 106.6L214.7 106.58L214.95 106.56L215.2 106.54L215.45 106.52L215.7 106.5L215.95 106.48L216.2 106.47L216.45 106.46L216.7 106.44L216.95 106.43L217.2 106.42L217.45 106.41L217.7 106.4L217.95 106.39L218.2 106.39L218.45 106.38L218.7 106.37L218.95 106.37L219.2 106.36L219.45 106.36L219.7 106.35L219.95 106.35L220.2 106.34L220.45 106.34L220.7 106.34L220.95 106.33L221.2 106.33L221.45 106.33L221.7 106.33L221.95 106.32L222.2 106.32L222.45 106.32L222.7 106.32L222.95 106.32L223.2 106.32L223 106.32L223.3 113.66L223.6 117.5L223.9 119.65L224.2 120.97L224.5 121.87L224.8 122.55L225.1 123.09L225.4 123.56L225.7 123.97L226 124.33L226.3 124.65L226.6 124.94L226.9 125.21L227.2 125.45L227.5 125.66L227.8 125.86L228.1 126.03L228.4 126.19L228.7 126.33L229 126.46L229.3 126.58L229.6 126.69L229.9 126.78L230.2 126.87L230.5 126.94L230.8 127.01L231.1 127.07L231.4 127.13L231.7 127.18L232 127.22L232.3 127.26L232.6 127.3L232.9 127.33L233.2 127.36L233.5 127.38L233.8 127.4L234.1 127.42L234.4 127.44L234.7 127.45L235 127.46L235.3 127.47L235.6 127.48L235.9 127.49L236.2 127.49L236.5 127.5L236.8 127.5L237.1 127.51L237.4 127.51L237.7 127.51L238 127.51L239 127.5L240 127.49L241 127.48L242 127.47L243 127.45L244 127.43L245 127.42L246 127.4L247 127.38L248 127.36L249 127.34L250 127.33L251 127.31L252 127.29L253 127.28L254 127.26L255 127.25L256 127.23L257 127.22L258 127.2L259 127.19L260 127.18L261 127.17L262 127.15L263 127.14L264 127.13L265 127.12L266 127.11L267 127.1L268 127.09L269 127.08L270 127.07L271 127.06L272 127.05L273 127.05L274 127.04L275 127.03L276 127.02L277 127.01L277.3 127.01" fill="none" stroke="#1a1a1a" stroke-width="0.5" stroke-linejoin="round"/><path d="M164.4 126.8L188.8 126.8L189.05 121.87L189.3 118.03L189.55 115.03L189.8 112.7L189.8 104.5L190.15 109.45L190.8 113.5L191.06 112.08L191.32 110.77L191.58 109.58L191.85 108.5L192.11 107.54L192.37 106.68L192.63 105.94L192.89 105.32L193.15 104.81L193.42 104.41L193.68 104.13L193.94 103.96L194.2 103.9L194.2 104.5L194.55 109.45L195.2 112.8L195.46 111.49L195.71 110.28L195.97 109.16L196.23 108.15L196.49 107.23L196.74 106.4L197 105.67L197.26 105.04L197.51 104.51L197.77 104.08L198.03 103.74L198.29 103.49L198.54 103.35L198.8 103.3L198.8 104.5L199.15 109.45L199.8 112.1L200.07 110.89L200.33 109.76L200.6 108.72L200.87 107.76L201.13 106.88L201.4 106.08L201.67 105.37L201.93 104.75L202.2 104.2L202.47 103.74L202.73 103.37L203 103.08L203.27 102.87L203.53 102.74L203.8 102.7L203.8 104.5L204.15 109.45L204.8 111.4L205.06 110.02L205.32 108.76L205.58 107.6L205.85 106.56L206.11 105.62L206.37 104.8L206.63 104.08L206.89 103.48L207.15 102.98L207.42 102.6L207.68 102.32L207.94 102.16L208.2 102.1L208.2 104.5L208.55 109.45L209.2 110.7L209.45 110.02L209.7 109.4L209.95 108.82L210.2 108.29L210.45 107.8L210.7 107.36L210.95 106.94L211.2 106.56L211.45 106.22L211.7 105.89L211.95 105.6L212.2 105.33L212.45 105.08L212.7 104.85L212.95 104.64L213.2 104.44L213.45 104.26L213.7 104.1L213.95 103.94L214.2 103.81L214.45 103.68L214.7 103.56L214.95 103.45L215.2 103.35L215.45 103.26L215.7 103.17L215.95 103.1L216.2 103.02L216.45 102.96L216.7 102.9L216.95 102.84L217.2 102.79L217.45 102.74L217.7 102.7L217.95 102.66L218.2 102.62L218.45 102.59L218.7 102.56L218.95 102.53L219.2 102.5L219.45 102.48L219.7 102.46L219.95 102.44L220.2 102.42L220.45 102.4L220.7 102.38L220.95 102.37L221.2 102.36L221.45 102.34L221.7 102.33L221.95 102.32L222.2 102.31L222.45 102.3L222.7 102.29L222.95 102.29L223.2 102.28L223 102.28L223.3 111.07L223.6 115.67L223.9 118.25L224.2 119.83L224.5 120.92L224.8 121.73L225.1 122.39L225.4 122.94L225.7 123.43L226 123.87L226.3 124.26L226.6 124.61L226.9 124.92L227.2 125.21L227.5 125.47L227.8 125.7L228.1 125.91L228.4 126.1L228.7 126.27L229 126.43L229.3 126.57L229.6 126.69L229.9 126.81L230.2 126.91L230.5 127L230.8 127.09L231.1 127.16L231.4 127.23L231.7 127.28L232 127.34L232.3 127.38L232.6 127.43L232.9 127.46L233.2 127.5L233.5 127.52L233.8 127.55L234.1 127.57L234.4 127.59L234.7 127.61L235 127.62L235.3 127.63L235.6 127.64L235.9 127.65L236.2 127.66L236.5 127.66L236.8 127.67L237.1 127.67L237.4 127.67L237.7 127.67L238 127.67L239 127.67L240 127.66L241 127.64L242 127.62L243 127.6L244 127.58L245 127.56L246 127.54L247 127.51L248 127.49L249 127.47L250 127.45L251 127.43L252 127.41L253 127.39L254 127.37L255 127.35L256 127.33L257 127.31L258 127.3L259 127.28L260 127.27L261 127.25L262 127.24L263 127.22L264 127.21L265 127.19L266 127.18L267 127.17L268 127.16L269 127.15L270 127.13L271 127.12L272 127.11L273 127.1L274 127.09L275 127.08L276 127.07L277 127.06L277.3 127.06" fill="none" stroke="#1a1a1a" stroke-width="0.5" stroke-linejoin="round"/><path d="M164.4 126.8L188.8 126.8L189.05 120.68L189.3 116.2L189.5 104L189.85 108.67L190.5 112.5L190.76 110.41L191.03 108.61L191.29 107.08L191.55 105.82L191.81 104.85L192.07 104.16L192.34 103.74L192.6 103.6L192.6 104L192.95 108.67L193.6 112L193.87 110.33L194.14 108.83L194.41 107.51L194.68 106.37L194.95 105.4L195.22 104.61L195.49 103.99L195.76 103.55L196.03 103.29L196.3 103.2L196.3 104L196.65 108.67L197.3 111.5L197.57 109.19L197.84 107.24L198.11 105.64L198.39 104.4L198.66 103.51L198.93 102.98L199.2 102.8L199.2 104L199.55 108.67L200.2 111L200.47 107.24L200.75 104.55L201.03 102.94L201.3 102.4L201.3 104L201.65 108.67L202.3 110.5L202.57 107.9L202.83 105.78L203.1 104.12L203.37 102.94L203.63 102.24L203.9 102L203.9 104L204.25 108.67L204.9 110L205.16 108.66L205.42 107.43L205.68 106.33L205.93 105.33L206.19 104.46L206.45 103.7L206.71 103.06L206.97 102.53L207.22 102.12L207.48 101.83L207.74 101.66L208 101.6L208 104L208.35 108.67L209 109.5L209.25 108.27L209.51 107.14L209.76 106.11L210.02 105.18L210.27 104.34L210.52 103.61L210.78 102.97L211.03 102.43L211.28 101.99L211.54 101.64L211.79 101.4L212.05 101.25L212.3 101.2L212.3 104L212.65 108.67L213.3 109L213.59 107.08L213.88 105.41L214.16 104L214.45 102.85L214.74 101.95L215.03 101.31L215.31 100.93L215.6 100.8L215.6 104L215.95 108.67L216.6 108.5L216.86 106.35L217.11 104.53L217.37 103.04L217.63 101.89L217.89 101.06L218.14 100.57L218.4 100.4L218.4 104L218.75 108.67L219.4 108L219.65 107.34L219.9 106.74L220.15 106.19L220.4 105.68L220.65 105.21L220.9 104.77L221.15 104.38L221.4 104.01L221.65 103.67L221.9 103.36L222.15 103.08L222.4 102.82L222.65 102.58L222.9 102.35L223.15 102.15L223 102.15L223.3 111.01L223.6 115.66L223.9 118.28L224.2 119.89L224.5 120.99L224.8 121.82L225.1 122.5L225.4 123.07L225.7 123.57L226 124.02L226.3 124.42L226.6 124.77L226.9 125.1L227.2 125.39L227.5 125.65L227.8 125.89L228.1 126.11L228.4 126.3L228.7 126.48L229 126.63L229.3 126.77L229.6 126.9L229.9 127.02L230.2 127.12L230.5 127.21L230.8 127.29L231.1 127.37L231.4 127.43L231.7 127.49L232 127.55L232.3 127.59L232.6 127.63L232.9 127.67L233.2 127.7L233.5 127.73L233.8 127.75L234.1 127.77L234.4 127.79L234.7 127.81L235 127.82L235.3 127.83L235.6 127.84L235.9 127.84L236.2 127.85L236.5 127.85L236.8 127.86L237.1 127.86L237.4 127.86L237.7 127.86L238 127.85L239 127.84L240 127.83L241 127.8L242 127.78L243 127.76L244 127.73L245 127.7L246 127.67L247 127.65L248 127.62L249 127.6L250 127.57L251 127.55L252 127.52L253 127.5L254 127.48L255 127.45L256 127.43L257 127.41L258 127.39L259 127.37L260 127.35L261 127.34L262 127.32L263 127.3L264 127.28L265 127.27L266 127.25L267 127.24L268 127.22L269 127.21L270 127.2L271 127.18L272 127.17L273 127.16L274 127.15L275 127.14L276 127.12L277 127.11L277.3 127.1" fill="none" stroke="#1a1a1a" stroke-width="0.5" stroke-linejoin="round"/><path d="M191.4 106.5L191.48 82L191.58 108.5M200.4 106.5L200.48 85L200.58 108.5M190.2 105.5L190.28 80L190.38 107.5M196.6 105.5L196.68 83L196.78 107.5M204.2 105.5L204.28 86.3L204.38 107.5M189.8 104.5L189.88 79L189.98 106.5M194.2 104.5L194.28 81.5L194.38 106.5M198.8 104.5L198.88 83.5L198.98 106.5M203.8 104.5L203.88 86L203.98 106.5M208.2 104.5L208.28 97.5L208.38 106.5M189.5 104L189.58 77.7L189.68 106M192.6 104L192.68 80.2L192.78 106M196.3 104L196.38 82.7L196.48 106M199.2 104L199.28 83.5L199.38 106M201.3 104L201.38 84.3L201.48 106M203.9 104L203.98 86.3L204.08 106M208 104L208.08 86L208.18 106M212.3 104L212.38 94L212.48 106M215.6 104L215.68 89L215.78 106M218.4 104L218.48 87.2L218.58 106" fill="none" stroke="#1e1e1e" stroke-width="0.45" stroke-linejoin="round"/><line x1="164.4" y1="126.8" x2="188.8" y2="126.8" stroke="#000" stroke-width="0.5"/><path d="M289.2 126.8L312.6 126.8L312.85 127.43L313.1 128L313.35 128.53L313.6 129.02L313.85 129.47L314.1 129.88L314.35 130.25L314.6 130.6L314.85 130.92L315.1 131.21L315.35 131.48L315.6 131.72L315.85 131.95L316.1 132.16L316.35 132.35L316.6 132.52L316.85 132.68L317.1 132.83L317.35 132.96L317.6 133.08L317.85 133.2L318.1 133.3L318.35 133.39L318.6 133.48L318.85 133.56L319.1 133.63L319.35 133.7L319.6 133.76L319.85 133.81L320.1 133.86L320.35 133.91L320.6 133.95L320.85 133.99L321.1 134.02L321.35 134.06L321.6 134.09L321.85 134.11L322.1 134.13L322.35 134.16L322.6 134.18L322.85 134.19L323.1 134.21L323.35 134.22L323.6 134.24L323.85 134.25L324.1 134.26L324.35 134.27L324.6 134.27L324.85 134.28L325.1 134.29L325.35 134.29L325.6 134.3L325.85 134.3L326.1 134.31L326.35 134.31L326.6 134.31L326.85 134.31L327.1 134.32L327.35 134.32L327.6 134.32L327.85 134.32L328.1 134.32L328.35 134.32L328.6 134.32L328.85 134.32L329.1 134.32L329.35 134.32L329.6 134.32L329.85 134.32L330.1 134.32L330.35 134.32L330.6 134.31L330.85 134.31L331.1 134.31L331.35 134.31L331.6 134.31L331.85 134.31L332.1 134.31L332.35 134.3L332.6 134.3L332.85 134.3L333.1 134.3L333.35 134.3L333.6 134.3L333.85 134.3L334.1 134.29L334.35 134.29L334.6 134.29L334.85 134.29L335.1 134.29L335.35 134.29L335.6 134.28L335.85 134.28L336.1 134.28L336.35 134.28L336.6 134.28L336.85 134.28L337.1 134.28L337.35 134.27L337.6 134.27L337.85 134.27L338.1 134.27L338.35 134.27L338.6 134.27L338.85 134.27L339.1 134.26L339.35 134.26L339.6 134.26L339.85 134.26L340.1 134.26L340.35 134.26L340.6 134.26L340.85 134.26L341.1 134.26L341.35 134.25L341.6 134.25L341.85 134.25L342.1 134.25L342.35 134.25L342.6 134.25L342.85 134.25L343.1 134.25L343.35 134.25L343.6 134.25L343.85 134.24L344.1 134.24L344.35 134.24L344.6 134.24L344.85 134.24L345.1 134.24L345.35 134.24L345.6 134.24L345.85 134.24L346.1 134.24L346.35 134.24L346.6 134.24L346.85 134.23L347.1 134.23L347 134.23L347.3 131.61L347.6 130.26L347.9 129.51L348.2 129.07L348.5 128.77L348.8 128.54L349.1 128.37L349.4 128.22L349.7 128.08L350 127.97L350.3 127.86L350.6 127.77L350.9 127.68L351.2 127.6L351.5 127.53L351.8 127.46L352.1 127.4L352.4 127.35L352.7 127.3L353 127.26L353.3 127.22L353.6 127.18L353.9 127.14L354.2 127.11L354.5 127.09L354.8 127.06L355.1 127.04L355.4 127.02L355.7 127L356 126.98L356.3 126.96L356.6 126.95L356.9 126.93L357.2 126.92L357.5 126.91L357.8 126.9L358.1 126.89L358.4 126.88L358.7 126.88L359 126.87L359.3 126.86L359.6 126.86L359.9 126.85L360.2 126.85L360.5 126.84L360.8 126.84L361.1 126.84L361.4 126.83L361.7 126.83L362 126.83L363 126.82L364 126.81L365 126.81L366 126.81L367 126.81L368 126.8L369 126.8L370 126.8L371 126.8L372 126.8L373 126.8L374 126.8L375 126.8L376 126.8L377 126.8L378 126.8L379 126.8L380 126.8L381 126.8L382 126.8L383 126.8L384 126.8L385 126.8L386 126.8L387 126.8L388 126.8L389 126.8L390 126.8L391 126.8L392 126.8L393 126.8L394 126.8L395 126.8L396 126.8L397 126.8L398 126.8L399 126.8L400 126.8L401 126.8L401.7 126.8" fill="none" stroke="#0a0a0a" stroke-width="0.68" stroke-linejoin="round"/><path d="M289.2 126.8L312.6 126.8L312.85 126.74L313.1 126.69L313.35 126.64L313.6 126.6L313.85 126.57L314.1 126.54L314.35 126.51L314.6 126.48L314.85 126.46L315.1 126.44L315.35 126.43L315.6 126.41L315.85 126.4L316.1 126.39L316.35 126.38L316.6 126.37L316.85 126.36L317.1 126.35L317.35 126.35L317.6 126.34L317.85 126.34L318.1 126.33L318.35 126.33L318.6 126.32L318.85 126.32L319.1 126.32L319.35 126.32L319.6 126.32L319.85 126.31L320.1 126.31L320.35 126.31L320.6 126.31L320.85 126.31L321.1 126.31L321.35 126.31L321.6 126.31L321.85 126.3L322.1 126.3L322.35 126.3L322.6 126.3L322.85 126.3L323.1 126.3L323.35 126.3L323.6 126.3L323.85 126.3L324.1 126.3L324.35 126.3L324.6 126.3L324.85 126.3L325.1 126.3L325.35 126.3L325.6 126.3L325.85 126.3L326.1 126.3L326.35 126.3L326.6 126.3L326.85 126.3L327.1 126.3L327.35 126.3L327.6 126.3L327.85 126.3L328.1 126.3L328.35 126.3L328.6 126.3L328.85 126.3L329.1 126.3L329.35 126.3L329.6 126.3L329.85 126.3L330.1 126.3L330.35 126.3L330.6 126.3L330.85 126.3L331.1 126.3L331.35 126.3L331.6 126.3L331.85 126.3L332.1 126.3L332.35 126.3L332.6 126.3L332.85 126.3L333.1 126.3L333.35 126.3L333.6 126.3L333.85 126.3L334.1 126.3L334.35 126.3L334.6 126.3L334.85 126.3L335.1 126.3L335.35 126.3L335.6 126.3L335.85 126.3L336.1 126.3L336.35 126.3L336.6 126.3L336.85 126.3L337.1 126.3L337.35 126.3L337.6 126.3L337.85 126.3L338.1 126.3L338.35 126.3L338.6 126.3L338.85 126.3L339.1 126.3L339.35 126.3L339.6 126.3L339.85 126.3L340.1 126.3L340.35 126.3L340.6 126.3L340.85 126.3L341.1 126.3L341.35 126.3L341.6 126.3L341.85 126.3L342.1 126.3L342.35 126.3L342.6 126.3L342.85 126.3L343.1 126.3L343.35 126.3L343.6 126.3L343.85 126.3L344.1 126.3L344.35 126.3L344.6 126.3L344.85 126.3L345.1 126.3L345.35 126.3L345.6 126.3L345.85 126.3L346.1 126.3L346.35 126.3L346.6 126.3L346.85 126.3L347.1 126.3L347 126.3L347.3 126.5L347.6 126.62L347.9 126.69L348.2 126.74L348.5 126.78L348.8 126.81L349.1 126.84L349.4 126.86L349.7 126.88L350 126.89L350.3 126.91L350.6 126.92L350.9 126.93L351.2 126.94L351.5 126.95L351.8 126.96L352.1 126.97L352.4 126.97L352.7 126.98L353 126.98L353.3 126.99L353.6 126.99L353.9 126.99L354.2 126.99L354.5 127L354.8 127L355.1 127L355.4 127L355.7 127L356 127L356.3 127L356.6 127L356.9 127L357.2 127L357.5 127L357.8 127L358.1 127L358.4 126.99L358.7 126.99L359 126.99L359.3 126.99L359.6 126.99L359.9 126.99L360.2 126.99L360.5 126.99L360.8 126.98L361.1 126.98L361.4 126.98L361.7 126.98L362 126.98L363 126.97L364 126.97L365 126.96L366 126.96L367 126.95L368 126.95L369 126.94L370 126.94L371 126.93L372 126.93L373 126.93L374 126.92L375 126.92L376 126.91L377 126.91L378 126.91L379 126.9L380 126.9L381 126.9L382 126.89L383 126.89L384 126.89L385 126.88L386 126.88L387 126.88L388 126.88L389 126.87L390 126.87L391 126.87L392 126.87L393 126.86L394 126.86L395 126.86L396 126.86L397 126.86L398 126.85L399 126.85L400 126.85L401 126.85L401.7 126.85" fill="none" stroke="#0a0a0a" stroke-width="0.68" stroke-linejoin="round"/><path d="M289.2 126.8L312.6 126.8L312.85 125.98L313.1 125.23L313.35 124.54L313.6 123.91L313.85 123.32L314.1 122.79L314.35 122.29L314.6 121.84L314.85 121.42L315.1 121.03L315.35 120.68L315.6 120.35L315.85 120.05L316.1 119.78L316.35 119.52L316.6 119.29L316.85 119.07L317.1 118.88L317.35 118.69L317.6 118.53L317.85 118.37L318.1 118.23L318.35 118.1L318.6 117.98L318.85 117.87L319.1 117.77L319.35 117.68L319.6 117.59L319.85 117.51L320.1 117.44L320.35 117.37L320.6 117.31L320.85 117.25L321.1 117.2L321.35 117.15L321.6 117.11L321.85 117.07L322.1 117.03L322.35 117L322.6 116.96L322.85 116.93L323.1 116.91L323.35 116.88L323.6 116.86L323.85 116.84L324.1 116.82L324.35 116.8L324.6 116.79L324.85 116.77L325.1 116.76L325.35 116.75L325.6 116.73L325.85 116.72L326.1 116.71L326.35 116.7L326.6 116.7L326.85 116.69L327.1 116.68L327.35 116.67L327.6 116.67L327.85 116.66L328.1 116.66L328.35 116.65L328.6 116.65L328.85 116.65L329.1 116.64L329.35 116.64L329.6 116.64L329.85 116.63L330.1 116.63L330.35 116.63L330.6 116.63L330.85 116.62L331.1 116.62L331.35 116.62L331.6 116.62L331.85 116.62L332.1 116.62L332.35 116.61L332.6 116.61L332.85 116.61L333.1 116.61L333.35 116.61L333.6 116.61L333.85 116.61L334.1 116.61L334.35 116.61L334.6 116.61L334.85 116.61L335.1 116.61L335.35 116.61L335.6 116.6L335.85 116.6L336.1 116.6L336.35 116.6L336.6 116.6L336.85 116.6L337.1 116.6L337.35 116.6L337.6 116.6L337.85 116.6L338.1 116.6L338.35 116.6L338.6 116.6L338.85 116.6L339.1 116.6L339.35 116.6L339.6 116.6L339.85 116.6L340.1 116.6L340.35 116.6L340.6 116.6L340.85 116.6L341.1 116.6L341.35 116.6L341.6 116.6L341.85 116.6L342.1 116.6L342.35 116.6L342.6 116.6L342.85 116.6L343.1 116.6L343.35 116.6L343.6 116.6L343.85 116.6L344.1 116.6L344.35 116.6L344.6 116.6L344.85 116.6L345.1 116.6L345.35 116.6L345.6 116.6L345.85 116.6L346.1 116.6L346.35 116.6L346.6 116.6L346.85 116.6L347.1 116.6L347 116.6L347.3 120.24L347.6 122.14L347.9 123.2L348.2 123.85L348.5 124.29L348.8 124.62L349.1 124.89L349.4 125.11L349.7 125.31L350 125.48L350.3 125.64L350.6 125.78L350.9 125.91L351.2 126.03L351.5 126.13L351.8 126.23L352.1 126.32L352.4 126.39L352.7 126.46L353 126.53L353.3 126.59L353.6 126.64L353.9 126.69L354.2 126.73L354.5 126.77L354.8 126.8L355.1 126.83L355.4 126.86L355.7 126.88L356 126.91L356.3 126.93L356.6 126.95L356.9 126.96L357.2 126.98L357.5 126.99L357.8 127L358.1 127.01L358.4 127.02L358.7 127.03L359 127.03L359.3 127.04L359.6 127.04L359.9 127.05L360.2 127.05L360.5 127.06L360.8 127.06L361.1 127.06L361.4 127.06L361.7 127.06L362 127.06L363 127.06L364 127.06L365 127.06L366 127.05L367 127.05L368 127.04L369 127.04L370 127.03L371 127.02L372 127.02L373 127.01L374 127L375 127L376 126.99L377 126.98L378 126.98L379 126.97L380 126.97L381 126.96L382 126.96L383 126.95L384 126.95L385 126.94L386 126.94L387 126.93L388 126.93L389 126.92L390 126.92L391 126.92L392 126.91L393 126.91L394 126.9L395 126.9L396 126.9L397 126.89L398 126.89L399 126.89L400 126.89L401 126.88L401.7 126.88" fill="none" stroke="#0a0a0a" stroke-width="0.68" stroke-linejoin="round"/><path d="M289.2 126.8L312.6 126.8L312.85 123.86L313.1 121.35L313.35 119.2L313.6 117.37L313.85 115.79L314.1 114.45L314.35 113.3L314.6 112.32L314.85 111.47L315.1 110.76L315.35 110.14L315.6 109.61L315.6 106.5L315.92 110.9L316.5 114.5L316.75 114.43L317 114.37L317.25 114.3L317.5 114.24L317.75 114.17L318 114.1L318.25 114.04L318.5 113.97L318.75 113.91L319 113.85L319.25 113.78L319.5 113.72L319.75 113.66L320 113.59L320.25 113.53L320.5 113.47L320.75 113.41L321 113.34L321.25 113.28L321.5 113.22L321.75 113.16L322 113.1L322.25 113.04L322.5 112.98L322.75 112.92L323 112.86L323.25 112.81L323.5 112.75L323.75 112.69L324 112.63L324.25 112.58L324.5 112.52L324.75 112.47L325 112.41L325.25 112.36L325.5 112.3L325.75 112.25L326 112.2L326.25 112.14L326.5 112.09L326.75 112.04L327 111.99L327.25 111.94L327.5 111.9L327.75 111.85L328 111.8L328.25 111.76L328.5 111.71L328.75 111.67L329 111.63L329.25 111.59L329.5 111.56L329.75 111.53L330 111.5L330.25 111.5L330.5 111.5L330.75 111.5L331 111.5L331.25 111.5L331.5 111.5L331.75 111.5L332 111.5L332.25 111.5L332.5 111.5L332.75 111.5L333 111.5L333.25 111.5L333.5 111.5L333.75 111.5L334 111.5L334.25 111.5L334.5 111.5L334.75 111.5L335 111.5L335.25 111.5L335.5 111.5L335.75 111.5L336 111.5L336.25 111.5L336.5 111.5L336.75 111.5L337 111.5L337.25 111.5L337.5 111.5L337.75 111.5L338 111.5L338.25 111.5L338.5 111.5L338.75 111.5L339 111.5L339.25 111.5L339.5 111.5L339.75 111.5L340 111.5L340.25 111.5L340.5 111.5L340.75 111.5L341 111.5L341.25 111.5L341.5 111.5L341.75 111.5L342 111.5L342.25 111.5L342.5 111.5L342.75 111.5L343 111.5L343.25 111.5L343.5 111.5L343.75 111.5L344 111.5L344.25 111.5L344.5 111.5L344.75 111.5L345 111.5L345.25 111.5L345.5 111.5L345.75 111.5L346 111.5L346.25 111.5L346.5 111.5L346.75 111.5L347 111.5L347 111.5L347.3 116.97L347.6 119.82L347.9 121.41L348.2 122.39L348.5 123.05L348.8 123.55L349.1 123.95L349.4 124.29L349.7 124.59L350 124.86L350.3 125.09L350.6 125.31L350.9 125.5L351.2 125.68L351.5 125.84L351.8 125.98L352.1 126.11L352.4 126.23L352.7 126.33L353 126.43L353.3 126.51L353.6 126.59L353.9 126.66L354.2 126.73L354.5 126.78L354.8 126.84L355.1 126.88L355.4 126.92L355.7 126.96L356 127L356.3 127.03L356.6 127.05L356.9 127.08L357.2 127.1L357.5 127.12L357.8 127.13L358.1 127.15L358.4 127.16L358.7 127.17L359 127.18L359.3 127.19L359.6 127.2L359.9 127.2L360.2 127.21L360.5 127.21L360.8 127.22L361.1 127.22L361.4 127.22L361.7 127.22L362 127.23L363 127.23L364 127.22L365 127.22L366 127.21L367 127.2L368 127.19L369 127.18L370 127.17L371 127.16L372 127.15L373 127.13L374 127.12L375 127.11L376 127.1L377 127.09L378 127.08L379 127.08L380 127.07L381 127.06L382 127.05L383 127.04L384 127.03L385 127.03L386 127.02L387 127.01L388 127L389 127L390 126.99L391 126.98L392 126.98L393 126.97L394 126.97L395 126.96L396 126.96L397 126.95L398 126.95L399 126.94L400 126.94L401 126.93L401.7 126.93" fill="none" stroke="#1a1a1a" stroke-width="0.5" stroke-linejoin="round"/><path d="M289.2 126.8L312.6 126.8L312.85 122.79L313.1 119.54L313.35 116.9L313.6 114.76L313.85 113.02L314.1 111.6L314.35 110.45L314.6 109.52L314.85 108.77L315 105.5L315.31 109.9L315.9 113.5L316.16 112.81L316.42 112.14L316.68 111.49L316.94 110.85L317.2 110.22L317.46 109.62L317.72 109.03L317.98 108.47L318.24 107.93L318.5 107.42L318.76 106.93L319.02 106.49L319.28 106.08L319.54 105.74L319.8 105.5L319.8 105.5L320.12 109.9L320.7 113.5L320.95 113.31L321.2 113.11L321.45 112.92L321.7 112.73L321.95 112.54L322.2 112.35L322.45 112.16L322.7 111.97L322.95 111.78L323.2 111.6L323.45 111.42L323.7 111.23L323.95 111.05L324.2 110.87L324.45 110.69L324.7 110.51L324.95 110.34L325.2 110.16L325.45 109.99L325.7 109.82L325.95 109.65L326.2 109.48L326.45 109.31L326.7 109.15L326.95 108.99L327.2 108.82L327.45 108.67L327.7 108.51L327.95 108.36L328.2 108.2L328.45 108.05L328.7 107.91L328.95 107.77L329.2 107.63L329.45 107.49L329.7 107.36L329.95 107.23L330.2 107.11L330.45 107L330.7 106.9L330.95 106.81L331.2 106.8L331.45 106.8L331.7 106.8L331.95 106.8L332.2 106.8L332.45 106.8L332.7 106.8L332.95 106.8L333.2 106.8L333.45 106.8L333.7 106.8L333.95 106.8L334.2 106.8L334.45 106.8L334.7 106.8L334.95 106.8L335.2 106.8L335.45 106.8L335.7 106.8L335.95 106.8L336.2 106.8L336.45 106.8L336.7 106.8L336.95 106.8L337.2 106.8L337.45 106.8L337.7 106.8L337.95 106.8L338.2 106.8L338.45 106.8L338.7 106.8L338.95 106.8L339.2 106.8L339.45 106.8L339.7 106.8L339.95 106.8L340.2 106.8L340.45 106.8L340.7 106.8L340.95 106.8L341.2 106.8L341.45 106.8L341.7 106.8L341.95 106.8L342.2 106.8L342.45 106.8L342.7 106.8L342.95 106.8L343.2 106.8L343.45 106.8L343.7 106.8L343.95 106.8L344.2 106.8L344.45 106.8L344.7 106.8L344.95 106.8L345.2 106.8L345.45 106.8L345.7 106.8L345.95 106.8L346.2 106.8L346.45 106.8L346.7 106.8L346.95 106.8L347.2 106.8L347 106.8L347.3 113.94L347.6 117.67L347.9 119.75L348.2 121.02L348.5 121.89L348.8 122.53L349.1 123.06L349.4 123.5L349.7 123.89L350 124.23L350.3 124.54L350.6 124.82L350.9 125.07L351.2 125.3L351.5 125.51L351.8 125.69L352.1 125.86L352.4 126.02L352.7 126.16L353 126.28L353.3 126.39L353.6 126.5L353.9 126.59L354.2 126.67L354.5 126.75L354.8 126.81L355.1 126.88L355.4 126.93L355.7 126.98L356 127.02L356.3 127.06L356.6 127.1L356.9 127.13L357.2 127.16L357.5 127.18L357.8 127.2L358.1 127.22L358.4 127.24L358.7 127.26L359 127.27L359.3 127.28L359.6 127.29L359.9 127.3L360.2 127.31L360.5 127.31L360.8 127.32L361.1 127.32L361.4 127.32L361.7 127.33L362 127.33L363 127.33L364 127.33L365 127.32L366 127.31L367 127.3L368 127.28L369 127.27L370 127.26L371 127.24L372 127.23L373 127.22L374 127.2L375 127.19L376 127.18L377 127.17L378 127.16L379 127.14L380 127.13L381 127.12L382 127.11L383 127.1L384 127.09L385 127.08L386 127.07L387 127.06L388 127.05L389 127.05L390 127.04L391 127.03L392 127.02L393 127.02L394 127.01L395 127L396 127L397 126.99L398 126.98L399 126.98L400 126.97L401 126.97L401.7 126.96" fill="none" stroke="#1a1a1a" stroke-width="0.5" stroke-linejoin="round"/><path d="M289.2 126.8L312.6 126.8L312.85 121.87L313.1 118.03L313.35 115.03L313.6 112.7L313.85 110.89L314.1 109.48L314.35 108.38L314.5 104.5L314.81 108.9L315.4 112.5L315.65 111.57L315.91 110.66L316.16 109.79L316.42 108.95L316.67 108.14L316.93 107.37L317.18 106.65L317.44 105.98L317.69 105.37L317.95 104.85L318.2 104.5L318.2 104.5L318.51 108.9L319.1 112.5L319.36 111.89L319.63 111.3L319.89 110.72L320.16 110.14L320.42 109.59L320.69 109.04L320.95 108.51L321.22 108L321.48 107.5L321.75 107.02L322.01 106.57L322.28 106.13L322.54 105.72L322.81 105.34L323.07 105L323.34 104.7L323.6 104.5L323.6 104.5L323.92 108.9L324.5 112.5L324.75 112.14L325 111.78L325.25 111.43L325.5 111.08L325.75 110.73L326 110.39L326.25 110.04L326.5 109.7L326.75 109.37L327 109.03L327.25 108.7L327.5 108.38L327.75 108.05L328 107.73L328.25 107.42L328.5 107.11L328.75 106.8L329 106.5L329.25 106.2L329.5 105.91L329.75 105.62L330 105.34L330.25 105.07L330.5 104.8L330.75 104.55L331 104.3L331.25 104.07L331.5 103.85L331.75 103.65L332 103.5L332.25 103.5L332.5 103.5L332.75 103.5L333 103.5L333.25 103.5L333.5 103.5L333.75 103.5L334 103.5L334.25 103.5L334.5 103.5L334.75 103.5L335 103.5L335.25 103.5L335.5 103.5L335.75 103.5L336 103.5L336.25 103.5L336.5 103.5L336.75 103.5L337 103.5L337.25 103.5L337.5 103.5L337.75 103.5L338 103.5L338.25 103.5L338.5 103.5L338.75 103.5L339 103.5L339.25 103.5L339.5 103.5L339.75 103.5L340 103.5L340.25 103.5L340.5 103.5L340.75 103.5L341 103.5L341.25 103.5L341.5 103.5L341.75 103.5L342 103.5L342.25 103.5L342.5 103.5L342.75 103.5L343 103.5L343.25 103.5L343.5 103.5L343.75 103.5L344 103.5L344.25 103.5L344.5 103.5L344.75 103.5L345 103.5L345.25 103.5L345.5 103.5L345.75 103.5L346 103.5L346.25 103.5L346.5 103.5L346.75 103.5L347 103.5L347 103.5L347.3 111.83L347.6 116.19L347.9 118.62L348.2 120.11L348.5 121.13L348.8 121.89L349.1 122.5L349.4 123.02L349.7 123.48L350 123.89L350.3 124.25L350.6 124.58L350.9 124.87L351.2 125.14L351.5 125.39L351.8 125.6L352.1 125.8L352.4 125.98L352.7 126.14L353 126.29L353.3 126.42L353.6 126.54L353.9 126.65L354.2 126.75L354.5 126.83L354.8 126.91L355.1 126.98L355.4 127.05L355.7 127.1L356 127.16L356.3 127.2L356.6 127.24L356.9 127.28L357.2 127.31L357.5 127.34L357.8 127.36L358.1 127.39L358.4 127.4L358.7 127.42L359 127.44L359.3 127.45L359.6 127.46L359.9 127.47L360.2 127.48L360.5 127.48L360.8 127.49L361.1 127.49L361.4 127.49L361.7 127.5L362 127.5L363 127.5L364 127.49L365 127.48L366 127.46L367 127.45L368 127.43L369 127.41L370 127.4L371 127.38L372 127.36L373 127.34L374 127.33L375 127.31L376 127.29L377 127.28L378 127.26L379 127.25L380 127.23L381 127.22L382 127.2L383 127.19L384 127.18L385 127.17L386 127.15L387 127.14L388 127.13L389 127.12L390 127.11L391 127.1L392 127.09L393 127.08L394 127.07L395 127.06L396 127.05L397 127.05L398 127.04L399 127.03L400 127.02L401 127.01L401.7 127.01" fill="none" stroke="#1a1a1a" stroke-width="0.5" stroke-linejoin="round"/><path d="M289.2 126.8L312.6 126.8L312.85 120.55L313.1 115.97L313.35 112.62L313.6 110.18L313.85 108.38L314.1 107.07L314.2 103.5L314.51 106.8L315.1 109.5L315.36 108.65L315.61 107.83L315.87 107.04L316.12 106.29L316.38 105.59L316.63 104.94L316.89 104.35L317.14 103.84L317.4 103.5L317.4 103.5L317.71 106.8L318.3 109.5L318.55 108.91L318.81 108.33L319.06 107.77L319.32 107.22L319.57 106.69L319.82 106.18L320.08 105.7L320.33 105.23L320.58 104.8L320.84 104.39L321.09 104.03L321.35 103.71L321.6 103.5L321.6 103.5L321.92 106.8L322.5 109.5L322.75 109.18L323.01 108.86L323.26 108.54L323.52 108.23L323.77 107.93L324.02 107.63L324.28 107.33L324.53 107.04L324.79 106.76L325.04 106.48L325.3 106.2L325.55 105.94L325.8 105.68L326.06 105.42L326.31 105.18L326.57 104.94L326.82 104.71L327.08 104.49L327.33 104.28L327.58 104.08L327.84 103.9L328.09 103.74L328.35 103.6L328.6 103.5L328.6 103.5L328.92 106.8L329.5 109.5L329.77 108.73L330.04 107.99L330.31 107.27L330.58 106.59L330.85 105.94L331.12 105.32L331.39 104.75L331.66 104.24L331.93 103.8L332.2 103.5L332.2 103.5L332.51 106.8L333.1 109.5L333.35 107.31L333.6 105.43L333.85 103.86L334.1 102.6L334.35 101.64L334.6 100.99L334.85 100.66L335.1 100.6L335.35 100.6L335.6 100.6L335.85 100.6L336.1 100.6L336.35 100.6L336.6 100.6L336.85 100.6L337.1 100.6L337.35 100.6L337.6 100.6L337.85 100.6L338.1 100.6L338.35 100.6L338.6 100.6L338.85 100.6L339.1 100.6L339.35 100.6L339.6 100.6L339.85 100.6L340.1 100.6L340.35 100.6L340.6 100.6L340.85 100.6L341.1 100.6L341.35 100.6L341.6 100.6L341.85 100.6L342.1 100.6L342.35 100.6L342.6 100.6L342.85 100.6L343.1 100.6L343.35 100.6L343.6 100.6L343.85 100.6L344.1 100.6L344.35 100.6L344.6 100.6L344.85 100.6L345.1 100.6L345.35 100.6L345.6 100.6L345.85 100.6L346.1 100.6L346.35 100.6L346.6 100.6L346.85 100.6L347.1 100.6L347 100.6L347.3 109.98L347.6 114.89L347.9 117.63L348.2 119.32L348.5 120.47L348.8 121.33L349.1 122.03L349.4 122.62L349.7 123.14L350 123.6L350.3 124.02L350.6 124.39L350.9 124.72L351.2 125.03L351.5 125.3L351.8 125.55L352.1 125.77L352.4 125.98L352.7 126.16L353 126.33L353.3 126.47L353.6 126.61L353.9 126.73L354.2 126.84L354.5 126.94L354.8 127.03L355.1 127.11L355.4 127.18L355.7 127.24L356 127.3L356.3 127.35L356.6 127.39L356.9 127.43L357.2 127.47L357.5 127.5L357.8 127.53L358.1 127.55L358.4 127.57L358.7 127.59L359 127.61L359.3 127.62L359.6 127.63L359.9 127.64L360.2 127.65L360.5 127.65L360.8 127.66L361.1 127.66L361.4 127.67L361.7 127.67L362 127.67L363 127.66L364 127.65L365 127.64L366 127.62L367 127.6L368 127.58L369 127.56L370 127.54L371 127.51L372 127.49L373 127.47L374 127.45L375 127.43L376 127.41L377 127.39L378 127.37L379 127.35L380 127.33L381 127.31L382 127.3L383 127.28L384 127.27L385 127.25L386 127.24L387 127.22L388 127.21L389 127.19L390 127.18L391 127.17L392 127.16L393 127.15L394 127.13L395 127.12L396 127.11L397 127.1L398 127.09L399 127.08L400 127.07L401 127.06L401.7 127.06" fill="none" stroke="#1a1a1a" stroke-width="0.5" stroke-linejoin="round"/><path d="M315.6 106.5L315.68 83L315.78 108.5M315 105.5L315.08 80L315.18 107.5M319.8 105.5L319.88 85L319.98 107.5M314.5 104.5L314.58 78L314.68 106.5M318.2 104.5L318.28 82L318.38 106.5M323.6 104.5L323.68 90L323.78 106.5M314.2 103.5L314.28 77.5L314.38 105.5M317.4 103.5L317.48 82L317.58 105.5M321.6 103.5L321.68 85L321.78 105.5M328.6 103.5L328.68 94L328.78 105.5M332.2 103.5L332.28 88L332.38 105.5" fill="none" stroke="#1e1e1e" stroke-width="0.45" stroke-linejoin="round"/><line x1="289.2" y1="126.8" x2="312.6" y2="126.8" stroke="#000" stroke-width="0.5"/><path d="M44.5 306.9L67 306.9L67.25 307.4L67.5 307.86L67.75 308.3L68 308.7L68.25 309.07L68.5 309.42L68.75 309.74L69 310.04L69.25 310.32L69.5 310.58L69.75 310.82L70 311.04L70.25 311.25L70.5 311.44L70.75 311.62L71 311.79L71.25 311.95L71.5 312.09L71.75 312.22L72 312.35L72.25 312.46L72.5 312.57L72.75 312.67L73 312.76L73.25 312.84L73.5 312.92L73.75 312.99L74 313.06L74.25 313.13L74.5 313.18L74.75 313.24L75 313.29L75.25 313.33L75.5 313.37L75.75 313.41L76 313.45L76.25 313.48L76.5 313.51L76.75 313.54L77 313.57L77.25 313.59L77.5 313.61L77.75 313.64L78 313.65L78.25 313.67L78.5 313.69L78.75 313.7L79 313.71L79.25 313.73L79.5 313.74L79.75 313.75L80 313.76L80.25 313.76L80.5 313.77L80.75 313.78L81 313.79L81.25 313.79L81.5 313.8L81.75 313.8L82 313.8L82.25 313.81L82.5 313.81L82.75 313.81L83 313.81L83.25 313.82L83.5 313.82L83.75 313.82L84 313.82L84.25 313.82L84.5 313.82L84.75 313.82L85 313.82L85.25 313.82L85.5 313.82L85.75 313.82L86 313.82L86.25 313.82L86.5 313.82L86.75 313.82L87 313.82L87.25 313.82L87.5 313.82L87.75 313.82L88 313.82L88.25 313.81L88.5 313.81L88.75 313.81L89 313.81L89.25 313.81L89.5 313.81L89.75 313.81L90 313.81L90.25 313.8L90.5 313.8L90.75 313.8L91 313.8L91.25 313.8L91.5 313.8L91.75 313.8L92 313.79L92.25 313.79L92.5 313.79L92.75 313.79L93 313.79L93.25 313.79L93.5 313.79L93.75 313.79L94 313.78L94.25 313.78L94.5 313.78L94.75 313.78L95 313.78L95.25 313.78L95.5 313.78L95.75 313.77L96 313.77L96.25 313.77L96.5 313.77L96.75 313.77L97 313.77L97.25 313.77L97.5 313.77L97.75 313.77L98 313.76L98.25 313.76L98.5 313.76L98.75 313.76L99 313.76L99.25 313.76L99.5 313.76L99.75 313.76L100 313.76L99.9 313.76L100.2 312.55L100.5 311.63L100.8 310.91L101.1 310.34L101.4 309.88L101.7 309.5L102 309.18L102.3 308.91L102.6 308.68L102.9 308.48L103.2 308.31L103.5 308.16L103.8 308.03L104.1 307.91L104.4 307.8L104.7 307.71L105 307.63L105.3 307.55L105.6 307.48L105.9 307.42L106.2 307.37L106.5 307.32L106.8 307.28L107.1 307.24L107.4 307.21L107.7 307.18L108 307.15L108.3 307.12L108.6 307.1L108.9 307.08L109.2 307.06L109.5 307.04L109.8 307.03L110.1 307.02L110.4 307L110.7 306.99L111 306.98L111.3 306.98L111.6 306.97L111.9 306.96L112.2 306.96L112.5 306.95L112.8 306.94L113.1 306.94L113.4 306.94L113.7 306.93L114 306.93L114.3 306.93L114.6 306.92L114.9 306.92L115.2 306.92L116.2 306.91L117.2 306.91L118.2 306.91L119.2 306.9L120.2 306.9L121.2 306.9L122.2 306.9L123.2 306.9L124.2 306.9L125.2 306.9L126.2 306.9L127.2 306.9L128.2 306.9L129.2 306.9L130.2 306.9L131.2 306.9L132.2 306.9L133.2 306.9L134.2 306.9L135.2 306.9L136.2 306.9L137.2 306.9L138.2 306.9L139.2 306.9L140.2 306.9L141.2 306.9L142.2 306.9L143.2 306.9L144.2 306.9L145.2 306.9L146.2 306.9L147.2 306.9L148.2 306.9L149.2 306.9L150.2 306.9L151.2 306.9L152.2 306.9L152.3 306.9" fill="none" stroke="#000" stroke-width="0.75" stroke-linejoin="round"/><path d="M44.5 306.9L67 306.9L67.25 306.85L67.5 306.81L67.75 306.77L68 306.74L68.25 306.71L68.5 306.69L68.75 306.67L69 306.65L69.25 306.63L69.5 306.61L69.75 306.6L70 306.59L70.25 306.58L70.5 306.57L70.75 306.56L71 306.55L71.25 306.55L71.5 306.54L71.75 306.54L72 306.53L72.25 306.53L72.5 306.53L72.75 306.52L73 306.52L73.25 306.52L73.5 306.52L73.75 306.51L74 306.51L74.25 306.51L74.5 306.51L74.75 306.51L75 306.51L75.25 306.51L75.5 306.51L75.75 306.51L76 306.5L76.25 306.5L76.5 306.5L76.75 306.5L77 306.5L77.25 306.5L77.5 306.5L77.75 306.5L78 306.5L78.25 306.5L78.5 306.5L78.75 306.5L79 306.5L79.25 306.5L79.5 306.5L79.75 306.5L80 306.5L80.25 306.5L80.5 306.5L80.75 306.5L81 306.5L81.25 306.5L81.5 306.5L81.75 306.5L82 306.5L82.25 306.5L82.5 306.5L82.75 306.5L83 306.5L83.25 306.5L83.5 306.5L83.75 306.5L84 306.5L84.25 306.5L84.5 306.5L84.75 306.5L85 306.5L85.25 306.5L85.5 306.5L85.75 306.5L86 306.5L86.25 306.5L86.5 306.5L86.75 306.5L87 306.5L87.25 306.5L87.5 306.5L87.75 306.5L88 306.5L88.25 306.5L88.5 306.5L88.75 306.5L89 306.5L89.25 306.5L89.5 306.5L89.75 306.5L90 306.5L90.25 306.5L90.5 306.5L90.75 306.5L91 306.5L91.25 306.5L91.5 306.5L91.75 306.5L92 306.5L92.25 306.5L92.5 306.5L92.75 306.5L93 306.5L93.25 306.5L93.5 306.5L93.75 306.5L94 306.5L94.25 306.5L94.5 306.5L94.75 306.5L95 306.5L95.25 306.5L95.5 306.5L95.75 306.5L96 306.5L96.25 306.5L96.5 306.5L96.75 306.5L97 306.5L97.25 306.5L97.5 306.5L97.75 306.5L98 306.5L98.25 306.5L98.5 306.5L98.75 306.5L99 306.5L99.25 306.5L99.5 306.5L99.75 306.5L100 306.5L99.9 306.5L100.2 306.59L100.5 306.66L100.8 306.72L101.1 306.76L101.4 306.8L101.7 306.83L102 306.86L102.3 306.88L102.6 306.9L102.9 306.92L103.2 306.93L103.5 306.95L103.8 306.96L104.1 306.97L104.4 306.98L104.7 306.98L105 306.99L105.3 307L105.6 307L105.9 307.01L106.2 307.01L106.5 307.01L106.8 307.01L107.1 307.02L107.4 307.02L107.7 307.02L108 307.02L108.3 307.02L108.6 307.02L108.9 307.02L109.2 307.02L109.5 307.02L109.8 307.02L110.1 307.02L110.4 307.02L110.7 307.02L111 307.02L111.3 307.02L111.6 307.02L111.9 307.02L112.2 307.02L112.5 307.02L112.8 307.02L113.1 307.01L113.4 307.01L113.7 307.01L114 307.01L114.3 307.01L114.6 307.01L114.9 307.01L115.2 307.01L116.2 307L117.2 307L118.2 307L119.2 306.99L120.2 306.99L121.2 306.99L122.2 306.98L123.2 306.98L124.2 306.98L125.2 306.97L126.2 306.97L127.2 306.97L128.2 306.96L129.2 306.96L130.2 306.96L131.2 306.96L132.2 306.95L133.2 306.95L134.2 306.95L135.2 306.95L136.2 306.95L137.2 306.94L138.2 306.94L139.2 306.94L140.2 306.94L141.2 306.94L142.2 306.94L143.2 306.94L144.2 306.93L145.2 306.93L146.2 306.93L147.2 306.93L148.2 306.93L149.2 306.93L150.2 306.93L151.2 306.93L152.2 306.92L152.3 306.92" fill="none" stroke="#000" stroke-width="0.75" stroke-linejoin="round"/><path d="M44.5 306.9L67 306.9L67.25 306.29L67.5 305.73L67.75 305.22L68 304.75L68.25 304.31L68.5 303.91L68.75 303.54L69 303.2L69.25 302.89L69.5 302.6L69.75 302.34L70 302.1L70.25 301.87L70.5 301.67L70.75 301.48L71 301.3L71.25 301.14L71.5 301L71.75 300.86L72 300.74L72.25 300.62L72.5 300.52L72.75 300.42L73 300.33L73.25 300.25L73.5 300.17L73.75 300.1L74 300.04L74.25 299.98L74.5 299.92L74.75 299.87L75 299.83L75.25 299.79L75.5 299.75L75.75 299.71L76 299.68L76.25 299.65L76.5 299.62L76.75 299.59L77 299.57L77.25 299.55L77.5 299.53L77.75 299.51L78 299.49L78.25 299.48L78.5 299.46L78.75 299.45L79 299.44L79.25 299.43L79.5 299.42L79.75 299.41L80 299.4L80.25 299.39L80.5 299.38L80.75 299.38L81 299.37L81.25 299.37L81.5 299.36L81.75 299.36L82 299.35L82.25 299.35L82.5 299.34L82.75 299.34L83 299.34L83.25 299.33L83.5 299.33L83.75 299.33L84 299.33L84.25 299.32L84.5 299.32L84.75 299.32L85 299.32L85.25 299.32L85.5 299.32L85.75 299.31L86 299.31L86.25 299.31L86.5 299.31L86.75 299.31L87 299.31L87.25 299.31L87.5 299.31L87.75 299.31L88 299.31L88.25 299.31L88.5 299.31L88.75 299.31L89 299.3L89.25 299.3L89.5 299.3L89.75 299.3L90 299.3L90.25 299.3L90.5 299.3L90.75 299.3L91 299.3L91.25 299.3L91.5 299.3L91.75 299.3L92 299.3L92.25 299.3L92.5 299.3L92.75 299.3L93 299.3L93.25 299.3L93.5 299.3L93.75 299.3L94 299.3L94.25 299.3L94.5 299.3L94.75 299.3L95 299.3L95.25 299.3L95.5 299.3L95.75 299.3L96 299.3L96.25 299.3L96.5 299.3L96.75 299.3L97 299.3L97.25 299.3L97.5 299.3L97.75 299.3L98 299.3L98.25 299.3L98.5 299.3L98.75 299.3L99 299.3L99.25 299.3L99.5 299.3L99.75 299.3L100 299.3L99.9 299.3L100.2 300.68L100.5 301.74L100.8 302.58L101.1 303.25L101.4 303.79L101.7 304.23L102 304.61L102.3 304.92L102.6 305.19L102.9 305.43L103.2 305.63L103.5 305.81L103.8 305.96L104.1 306.1L104.4 306.22L104.7 306.33L105 306.43L105.3 306.52L105.6 306.59L105.9 306.66L106.2 306.72L106.5 306.77L106.8 306.82L107.1 306.86L107.4 306.9L107.7 306.93L108 306.96L108.3 306.99L108.6 307.01L108.9 307.03L109.2 307.05L109.5 307.07L109.8 307.08L110.1 307.09L110.4 307.1L110.7 307.11L111 307.12L111.3 307.13L111.6 307.13L111.9 307.14L112.2 307.14L112.5 307.14L112.8 307.15L113.1 307.15L113.4 307.15L113.7 307.15L114 307.15L114.3 307.15L114.6 307.15L114.9 307.15L115.2 307.15L116.2 307.14L117.2 307.14L118.2 307.13L119.2 307.13L120.2 307.12L121.2 307.11L122.2 307.1L123.2 307.1L124.2 307.09L125.2 307.08L126.2 307.07L127.2 307.07L128.2 307.06L129.2 307.05L130.2 307.05L131.2 307.04L132.2 307.04L133.2 307.03L134.2 307.03L135.2 307.02L136.2 307.02L137.2 307.01L138.2 307.01L139.2 307L140.2 307L141.2 307L142.2 306.99L143.2 306.99L144.2 306.98L145.2 306.98L146.2 306.98L147.2 306.98L148.2 306.97L149.2 306.97L150.2 306.97L151.2 306.96L152.2 306.96L152.3 306.96" fill="none" stroke="#000" stroke-width="0.75" stroke-linejoin="round"/><path d="M44.5 306.9L67 306.9L67.25 305.72L67.5 304.65L67.75 303.69L68 302.81L68.25 302.02L68.5 301.31L68.75 300.66L69 300.07L69.25 299.54L69.5 299.06L69.75 298.63L70 298.23L70.25 297.88L70.5 297.56L70.75 297.27L71 297L71.25 296.77L71.5 296.55L71.75 296.35L72 296.18L72.25 296.02L72.5 295.87L72.75 295.74L73 295.62L73.25 295.52L73.5 295.42L73.75 295.33L74 295.25L74.25 295.18L74.5 295.12L74.75 295.06L75 295.01L75.25 294.96L75.5 294.91L75.75 294.87L76 294.84L76.25 294.81L76.5 294.78L76.75 294.75L77 294.73L77.25 294.71L77.5 294.69L77.75 294.67L78 294.65L78.25 294.64L78.4 294.5L78.72 296.98L79.3 299L79.55 298.89L79.8 298.79L80.05 298.69L80.3 298.6L80.55 298.51L80.8 298.43L81.05 298.35L81.3 298.27L81.55 298.2L81.8 298.13L82.05 298.07L82.3 298.01L82.55 297.95L82.8 297.89L83.05 297.84L83.3 297.79L83.55 297.74L83.8 297.69L84.05 297.65L84.3 297.61L84.55 297.57L84.8 297.53L85.05 297.5L85.3 297.46L85.55 297.43L85.8 297.4L86.05 297.37L86.3 297.34L86.55 297.32L86.8 297.29L87.05 297.27L87.3 297.24L87.55 297.22L87.8 297.2L88.05 297.18L88.3 297.16L88.55 297.15L88.8 297.13L89.05 297.11L89.3 297.1L89.55 297.08L89.8 297.07L90.05 297.06L90.3 297.04L90.55 297.03L90.8 297.02L91.05 297.01L91.3 297L91.55 296.99L91.8 296.98L92.05 296.97L92.3 296.96L92.55 296.96L92.8 296.95L93.05 296.94L93.3 296.93L93.55 296.93L93.8 296.92L94.05 296.92L94.3 296.91L94.55 296.9L94.8 296.9L95.05 296.89L95.3 296.89L95.55 296.89L95.8 296.88L96.05 296.88L96.3 296.87L96.55 296.87L96.8 296.87L97.05 296.86L97.3 296.86L97.55 296.86L97.8 296.85L98.05 296.85L98.3 296.85L98.55 296.85L98.8 296.84L99.05 296.84L99.3 296.84L99.55 296.84L99.8 296.84L100.05 296.83L99.9 296.83L100.2 298.68L100.5 300.1L100.8 301.21L101.1 302.1L101.4 302.83L101.7 303.42L102 303.92L102.3 304.35L102.6 304.71L102.9 305.02L103.2 305.3L103.5 305.54L103.8 305.75L104.1 305.93L104.4 306.09L104.7 306.24L105 306.37L105.3 306.48L105.6 306.58L105.9 306.67L106.2 306.75L106.5 306.83L106.8 306.89L107.1 306.94L107.4 306.99L107.7 307.04L108 307.08L108.3 307.11L108.6 307.14L108.9 307.17L109.2 307.19L109.5 307.21L109.8 307.23L110.1 307.24L110.4 307.26L110.7 307.27L111 307.28L111.3 307.28L111.6 307.29L111.9 307.3L112.2 307.3L112.5 307.3L112.8 307.31L113.1 307.31L113.4 307.31L113.7 307.31L114 307.31L114.3 307.31L114.6 307.31L114.9 307.31L115.2 307.3L116.2 307.3L117.2 307.29L118.2 307.27L119.2 307.26L120.2 307.25L121.2 307.24L122.2 307.23L123.2 307.21L124.2 307.2L125.2 307.19L126.2 307.18L127.2 307.17L128.2 307.16L129.2 307.15L130.2 307.14L131.2 307.13L132.2 307.12L133.2 307.11L134.2 307.1L135.2 307.09L136.2 307.09L137.2 307.08L138.2 307.07L139.2 307.07L140.2 307.06L141.2 307.05L142.2 307.05L143.2 307.04L144.2 307.04L145.2 307.03L146.2 307.03L147.2 307.02L148.2 307.02L149.2 307.01L150.2 307.01L151.2 307L152.2 307L152.3 306.99" fill="none" stroke="#000" stroke-width="0.75" stroke-linejoin="round"/><path d="M44.5 306.9L67 306.9L67.25 305.33L67.5 303.94L67.75 302.71L68 301.63L68.25 300.67L68.5 299.83L68.75 299.09L69 298.43L69.25 297.85L69.5 297.34L69.75 296.89L70 296.49L70.25 296.14L70.5 295.83L70.75 295.55L71 295.31L71.25 295.1L71.5 294.91L71.75 294.75L72 294.6L72.25 294.47L72.5 294.36L72.7 293.5L73.02 295.98L73.6 298L73.85 297.82L74.1 297.65L74.35 297.48L74.6 297.33L74.85 297.18L75.1 297.04L75.35 296.91L75.6 296.78L75.85 296.66L76.1 296.54L76.35 296.43L76.6 296.33L76.85 296.23L77.1 296.14L77.35 296.05L77.6 295.96L77.85 295.88L78.1 295.8L78.35 295.73L78.6 295.66L78.85 295.59L79.1 295.53L79.35 295.47L79.6 295.41L79.85 295.36L80.1 295.31L80.35 295.26L80.6 295.21L80.85 295.17L81.1 295.13L81.35 295.09L81.6 295.05L81.85 295.01L82.1 294.98L82.35 294.94L82.6 294.91L82.85 294.88L83.1 294.85L83.35 294.83L83.6 294.8L83.85 294.78L84.1 294.75L84.35 294.73L84.6 294.71L84.85 294.69L85.1 294.67L85.35 294.65L85.6 294.64L85.85 294.62L86.1 294.6L86.35 294.59L86.6 294.57L86.85 294.56L87.1 294.55L87.35 294.54L87.6 294.52L87.85 294.51L88.1 294.5L88.35 294.49L88.6 294.48L88.85 294.48L89.1 294.47L89.35 294.46L89.6 294.45L89.85 294.44L90.1 294.44L90.35 294.43L90.6 294.42L90.85 294.42L91.1 294.41L91.35 294.41L91.6 294.4L91.85 294.4L92.1 294.39L92.35 294.39L92.6 294.38L92.85 294.38L93.1 294.37L93.35 294.37L93.6 294.37L93.85 294.36L94.1 294.36L94.35 294.36L94.6 294.36L94.85 294.35L95.1 294.35L95.35 294.35L95.6 294.35L95.85 294.34L96.1 294.34L96.35 294.34L96.6 294.34L96.85 294.34L97.1 294.33L97.35 294.33L97.6 294.33L97.85 294.33L98.1 294.33L98.35 294.33L98.6 294.32L98.85 294.32L99.1 294.32L99.35 294.32L99.6 294.32L99.85 294.32L100.1 294.32L99.9 294.32L100.2 296.62L100.5 298.4L100.8 299.79L101.1 300.9L101.4 301.81L101.7 302.56L102 303.18L102.3 303.71L102.6 304.16L102.9 304.56L103.2 304.9L103.5 305.2L103.8 305.46L104.1 305.69L104.4 305.89L104.7 306.07L105 306.24L105.3 306.38L105.6 306.51L105.9 306.62L106.2 306.72L106.5 306.81L106.8 306.89L107.1 306.96L107.4 307.02L107.7 307.07L108 307.12L108.3 307.16L108.6 307.2L108.9 307.23L109.2 307.26L109.5 307.29L109.8 307.31L110.1 307.33L110.4 307.34L110.7 307.36L111 307.37L111.3 307.38L111.6 307.39L111.9 307.39L112.2 307.4L112.5 307.4L112.8 307.41L113.1 307.41L113.4 307.41L113.7 307.41L114 307.41L114.3 307.41L114.6 307.41L114.9 307.41L115.2 307.4L116.2 307.39L117.2 307.38L118.2 307.37L119.2 307.35L120.2 307.34L121.2 307.32L122.2 307.31L123.2 307.29L124.2 307.28L125.2 307.26L126.2 307.25L127.2 307.24L128.2 307.22L129.2 307.21L130.2 307.2L131.2 307.19L132.2 307.17L133.2 307.16L134.2 307.15L135.2 307.14L136.2 307.13L137.2 307.12L138.2 307.12L139.2 307.11L140.2 307.1L141.2 307.09L142.2 307.08L143.2 307.08L144.2 307.07L145.2 307.06L146.2 307.06L147.2 307.05L148.2 307.04L149.2 307.04L150.2 307.03L151.2 307.03L152.2 307.02L152.3 307.02" fill="none" stroke="#000" stroke-width="0.75" stroke-linejoin="round"/><path d="M44.5 306.9L67 306.9L67.25 304.69L67.5 302.82L67.75 301.23L68 299.89L68.25 298.76L68.4 292.5L68.72 294.98L69.3 297L69.56 296.69L69.83 296.39L70.09 296.1L70.35 295.81L70.62 295.53L70.88 295.25L71.14 294.98L71.41 294.71L71.67 294.45L71.93 294.2L72.19 293.96L72.46 293.73L72.72 293.51L72.98 293.29L73.25 293.09L73.51 292.91L73.77 292.74L74.04 292.6L74.3 292.5L74.3 292.5L74.61 294.98L75.2 297L75.45 296.77L75.7 296.55L75.95 296.35L76.2 296.15L76.45 295.96L76.7 295.78L76.95 295.61L77.2 295.45L77.45 295.3L77.7 295.15L77.95 295.01L78.2 294.88L78.45 294.75L78.7 294.63L78.95 294.52L79.2 294.41L79.45 294.31L79.7 294.21L79.95 294.12L80.2 294.03L80.45 293.94L80.7 293.86L80.95 293.79L81.2 293.72L81.45 293.65L81.7 293.58L81.95 293.52L82.2 293.46L82.45 293.4L82.7 293.35L82.95 293.3L83.2 293.25L83.45 293.2L83.7 293.16L83.95 293.12L84.2 293.08L84.45 293.04L84.7 293L84.95 292.97L85.2 292.94L85.45 292.91L85.7 292.88L85.95 292.85L86.2 292.82L86.45 292.8L86.7 292.77L86.95 292.75L87.2 292.73L87.45 292.71L87.7 292.69L87.95 292.67L88.2 292.65L88.45 292.63L88.7 292.62L88.95 292.6L89.2 292.59L89.45 292.57L89.7 292.56L89.95 292.55L90.2 292.53L90.45 292.52L90.7 292.51L90.95 292.5L91.2 292.49L91.45 292.48L91.7 292.47L91.95 292.46L92.2 292.46L92.45 292.45L92.7 292.44L92.95 292.44L93.2 292.43L93.45 292.42L93.7 292.42L93.95 292.41L94.2 292.41L94.45 292.4L94.7 292.4L94.95 292.39L95.2 292.39L95.45 292.38L95.7 292.38L95.95 292.37L96.2 292.37L96.45 292.37L96.7 292.36L96.95 292.36L97.2 292.36L97.45 292.35L97.7 292.35L97.95 292.35L98.2 292.35L98.45 292.34L98.7 292.34L98.95 292.34L99.2 292.34L99.45 292.34L99.7 292.33L99.95 292.33L99.9 292.33L100.2 295.01L100.5 297.08L100.8 298.7L101.1 300L101.4 301.06L101.7 301.93L102 302.66L102.3 303.28L102.6 303.81L102.9 304.27L103.2 304.66L103.5 305.01L103.8 305.32L104.1 305.59L104.4 305.83L104.7 306.04L105 306.23L105.3 306.39L105.6 306.54L105.9 306.67L106.2 306.79L106.5 306.89L106.8 306.98L107.1 307.06L107.4 307.13L107.7 307.2L108 307.25L108.3 307.3L108.6 307.34L108.9 307.38L109.2 307.41L109.5 307.44L109.8 307.47L110.1 307.49L110.4 307.51L110.7 307.52L111 307.53L111.3 307.54L111.6 307.55L111.9 307.56L112.2 307.56L112.5 307.57L112.8 307.57L113.1 307.57L113.4 307.57L113.7 307.57L114 307.57L114.3 307.57L114.6 307.57L114.9 307.56L115.2 307.56L116.2 307.55L117.2 307.53L118.2 307.51L119.2 307.49L120.2 307.47L121.2 307.45L122.2 307.43L123.2 307.41L124.2 307.39L125.2 307.37L126.2 307.35L127.2 307.34L128.2 307.32L129.2 307.3L130.2 307.29L131.2 307.27L132.2 307.26L133.2 307.24L134.2 307.23L135.2 307.22L136.2 307.2L137.2 307.19L138.2 307.18L139.2 307.17L140.2 307.16L141.2 307.15L142.2 307.14L143.2 307.13L144.2 307.12L145.2 307.11L146.2 307.1L147.2 307.1L148.2 307.09L149.2 307.08L150.2 307.07L151.2 307.07L152.2 307.06L152.3 307.05" fill="none" stroke="#000" stroke-width="0.75" stroke-linejoin="round"/><path d="M44.5 306.9L67 306.9L67.25 304L67.5 301.65L67.75 299.74L67.9 291.5L68.22 293.98L68.8 296L69.08 294.87L69.36 293.82L69.64 292.87L69.92 292.06L70.2 291.5L70.2 291.5L70.52 293.98L71.1 296L71.37 295.18L71.64 294.41L71.91 293.67L72.19 293L72.46 292.38L72.73 291.86L73 291.5L73 291.5L73.31 293.98L73.9 296L74.15 295.74L74.4 295.5L74.65 295.26L74.9 295.04L75.15 294.83L75.4 294.63L75.65 294.43L75.9 294.25L76.15 294.08L76.4 293.91L76.65 293.76L76.9 293.61L77.15 293.47L77.4 293.33L77.65 293.2L77.9 293.08L78.15 292.97L78.4 292.85L78.65 292.75L78.9 292.65L79.15 292.55L79.4 292.46L79.65 292.38L79.9 292.3L80.15 292.22L80.4 292.14L80.65 292.07L80.9 292.01L81.15 291.94L81.4 291.88L81.65 291.82L81.9 291.77L82.15 291.72L82.4 291.67L82.65 291.62L82.9 291.58L83.15 291.53L83.4 291.49L83.65 291.45L83.9 291.42L84.15 291.38L84.4 291.35L84.65 291.32L84.9 291.29L85.15 291.26L85.4 291.23L85.65 291.21L85.9 291.18L86.15 291.16L86.4 291.14L86.65 291.11L86.9 291.09L87.15 291.07L87.4 291.06L87.65 291.04L87.9 291.02L88.15 291.01L88.4 290.99L88.65 290.98L88.9 290.96L89.15 290.95L89.4 290.94L89.65 290.93L89.9 290.92L90.15 290.91L90.4 290.9L90.65 290.89L90.9 290.88L91.15 290.87L91.4 290.86L91.65 290.85L91.9 290.84L92.15 290.84L92.4 290.83L92.65 290.82L92.9 290.82L93.15 290.81L93.4 290.81L93.65 290.8L93.9 290.8L94.15 290.79L94.4 290.79L94.65 290.78L94.9 290.78L95.15 290.78L95.4 290.77L95.65 290.77L95.9 290.77L96.15 290.76L96.4 290.76L96.65 290.76L96.9 290.75L97.15 290.75L97.4 290.75L97.65 290.75L97.9 290.74L98.15 290.74L98.4 290.74L98.65 290.74L98.9 290.74L99.15 290.73L99.4 290.73L99.65 290.73L99.9 290.73L99.9 290.73L100.2 293.72L100.5 296.03L100.8 297.84L101.1 299.29L101.4 300.47L101.7 301.45L102 302.27L102.3 302.96L102.6 303.55L102.9 304.06L103.2 304.51L103.5 304.9L103.8 305.24L104.1 305.54L104.4 305.81L104.7 306.05L105 306.26L105.3 306.44L105.6 306.61L105.9 306.75L106.2 306.88L106.5 307L106.8 307.1L107.1 307.19L107.4 307.27L107.7 307.34L108 307.4L108.3 307.45L108.6 307.5L108.9 307.54L109.2 307.57L109.5 307.6L109.8 307.63L110.1 307.65L110.4 307.67L110.7 307.69L111 307.7L111.3 307.71L111.6 307.72L111.9 307.73L112.2 307.73L112.5 307.74L112.8 307.74L113.1 307.74L113.4 307.74L113.7 307.74L114 307.73L114.3 307.73L114.6 307.73L114.9 307.72L115.2 307.72L116.2 307.7L117.2 307.68L118.2 307.65L119.2 307.63L120.2 307.6L121.2 307.58L122.2 307.55L123.2 307.53L124.2 307.5L125.2 307.48L126.2 307.46L127.2 307.44L128.2 307.42L129.2 307.4L130.2 307.38L131.2 307.36L132.2 307.34L133.2 307.32L134.2 307.31L135.2 307.29L136.2 307.27L137.2 307.26L138.2 307.25L139.2 307.23L140.2 307.22L141.2 307.21L142.2 307.19L143.2 307.18L144.2 307.17L145.2 307.16L146.2 307.15L147.2 307.14L148.2 307.13L149.2 307.12L150.2 307.11L151.2 307.11L152.2 307.1L152.3 307.09" fill="none" stroke="#000" stroke-width="0.75" stroke-linejoin="round"/><path d="M78.4 294.5L78.48 267.5L78.58 296.5M72.7 293.5L72.78 268L72.88 295.5M68.4 292.5L68.48 263.5L68.58 294.5M74.3 292.5L74.38 276L74.48 294.5M67.9 291.5L67.98 262L68.08 293.5M70.2 291.5L70.28 263.5L70.38 293.5M73 291.5L73.08 270L73.18 293.5" fill="none" stroke="#333" stroke-width="0.45" stroke-linejoin="round"/><line x1="44.5" y1="306.9" x2="67.0" y2="306.9" stroke="#000" stroke-width="0.5"/><path d="M163.6 308.2L187.6 308.2L187.85 308.58L188.1 308.93L188.35 309.26L188.6 309.56L188.85 309.85L189.1 310.11L189.35 310.36L189.6 310.58L189.85 310.8L190.1 310.99L190.35 311.18L190.6 311.35L190.85 311.5L191.1 311.65L191.35 311.79L191.6 311.91L191.85 312.03L192.1 312.14L192.35 312.24L192.6 312.34L192.85 312.43L193.1 312.51L193.35 312.58L193.6 312.65L193.85 312.72L194.1 312.78L194.35 312.83L194.6 312.88L194.85 312.93L195.1 312.98L195.35 313.02L195.6 313.06L195.85 313.09L196.1 313.12L196.35 313.15L196.6 313.18L196.85 313.21L197.1 313.23L197.35 313.25L197.6 313.27L197.85 313.29L198.1 313.31L198.35 313.33L198.6 313.34L198.85 313.35L199.1 313.37L199.35 313.38L199.6 313.39L199.85 313.4L200.1 313.41L200.35 313.41L200.6 313.42L200.85 313.43L201.1 313.43L201.35 313.44L201.6 313.44L201.85 313.45L202.1 313.45L202.35 313.46L202.6 313.46L202.85 313.46L203.1 313.47L203.35 313.47L203.6 313.47L203.85 313.47L204.1 313.47L204.35 313.47L204.6 313.48L204.85 313.48L205.1 313.48L205.35 313.48L205.6 313.48L205.85 313.48L206.1 313.48L206.35 313.48L206.6 313.48L206.85 313.48L207.1 313.48L207.35 313.48L207.6 313.48L207.85 313.48L208.1 313.48L208.35 313.48L208.6 313.48L208.85 313.47L209.1 313.47L209.35 313.47L209.6 313.47L209.85 313.47L210.1 313.47L210.35 313.47L210.6 313.47L210.85 313.47L211.1 313.47L211.35 313.47L211.6 313.47L211.85 313.47L212.1 313.46L212.35 313.46L212.6 313.46L212.85 313.46L213.1 313.46L213.35 313.46L213.6 313.46L213.85 313.46L214.1 313.46L214.35 313.46L214.6 313.46L214.85 313.45L215.1 313.45L215.35 313.45L215.6 313.45L215.85 313.45L216.1 313.45L216.35 313.45L216.6 313.45L216.85 313.45L217.1 313.45L217.35 313.45L217.6 313.45L217.85 313.45L218.1 313.44L218.35 313.44L218.6 313.44L218.85 313.44L219.1 313.44L219.35 313.44L219.6 313.44L219.85 313.44L220.1 313.44L220.35 313.44L220.6 313.44L220.85 313.44L221.1 313.44L221.35 313.44L221.6 313.43L221.85 313.43L222.1 313.43L222.35 313.43L222.6 313.43L222.85 313.43L222.8 313.43L223.1 312.57L223.4 311.9L223.7 311.37L224 310.94L224.3 310.58L224.6 310.29L224.9 310.04L225.2 309.83L225.5 309.65L225.8 309.49L226.1 309.35L226.4 309.23L226.7 309.12L227 309.03L227.3 308.94L227.6 308.86L227.9 308.8L228.2 308.73L228.5 308.68L228.8 308.63L229.1 308.59L229.4 308.55L229.7 308.51L230 308.48L230.3 308.45L230.6 308.43L230.9 308.4L231.2 308.38L231.5 308.36L231.8 308.35L232.1 308.33L232.4 308.32L232.7 308.31L233 308.3L233.3 308.29L233.6 308.28L233.9 308.27L234.2 308.26L234.5 308.26L234.8 308.25L235.1 308.25L235.4 308.24L235.7 308.24L236 308.23L236.3 308.23L236.6 308.23L236.9 308.22L237.2 308.22L237.5 308.22L237.8 308.22L238.8 308.21L239.8 308.21L240.8 308.21L241.8 308.2L242.8 308.2L243.8 308.2L244.8 308.2L245.8 308.2L246.8 308.2L247.8 308.2L248.8 308.2L249.8 308.2L250.8 308.2L251.8 308.2L252.8 308.2L253.8 308.2L254.8 308.2L255.8 308.2L256.8 308.2L257.8 308.2L258.8 308.2L259.8 308.2L260.8 308.2L261.8 308.2L262.8 308.2L263.8 308.2L264.8 308.2L265.8 308.2L266.8 308.2L267.8 308.2L268.8 308.2L269.8 308.2L270.8 308.2L271.8 308.2L272.8 308.2L273.8 308.2L274.8 308.2L275.8 308.2L276.8 308.2L277.8 308.2L278.6 308.2" fill="none" stroke="#000" stroke-width="0.75" stroke-linejoin="round"/><path d="M163.6 308.2L187.6 308.2L187.85 308.13L188.1 308.07L188.35 308.01L188.6 307.96L188.85 307.92L189.1 307.88L189.35 307.85L189.6 307.82L189.85 307.79L190.1 307.77L190.35 307.75L190.6 307.73L190.85 307.72L191.1 307.7L191.35 307.69L191.6 307.68L191.85 307.67L192.1 307.66L192.35 307.66L192.6 307.65L192.85 307.64L193.1 307.64L193.35 307.63L193.6 307.63L193.85 307.63L194.1 307.62L194.35 307.62L194.6 307.62L194.85 307.62L195.1 307.61L195.35 307.61L195.6 307.61L195.85 307.61L196.1 307.61L196.35 307.61L196.6 307.61L196.85 307.61L197.1 307.61L197.35 307.6L197.6 307.6L197.85 307.6L198.1 307.6L198.35 307.6L198.6 307.6L198.85 307.6L199.1 307.6L199.35 307.6L199.6 307.6L199.85 307.6L200.1 307.6L200.35 307.6L200.6 307.6L200.85 307.6L201.1 307.6L201.35 307.6L201.6 307.6L201.85 307.6L202.1 307.6L202.35 307.6L202.6 307.6L202.85 307.6L203.1 307.6L203.35 307.6L203.6 307.6L203.85 307.6L204.1 307.6L204.35 307.6L204.6 307.6L204.85 307.6L205.1 307.6L205.35 307.6L205.6 307.6L205.85 307.6L206.1 307.6L206.35 307.6L206.6 307.6L206.85 307.6L207.1 307.6L207.35 307.6L207.6 307.6L207.85 307.6L208.1 307.6L208.35 307.6L208.6 307.6L208.85 307.6L209.1 307.6L209.35 307.6L209.6 307.6L209.85 307.6L210.1 307.6L210.35 307.6L210.6 307.6L210.85 307.6L211.1 307.6L211.35 307.6L211.6 307.6L211.85 307.6L212.1 307.6L212.35 307.6L212.6 307.6L212.85 307.6L213.1 307.6L213.35 307.6L213.6 307.6L213.85 307.6L214.1 307.6L214.35 307.6L214.6 307.6L214.85 307.6L215.1 307.6L215.35 307.6L215.6 307.6L215.85 307.6L216.1 307.6L216.35 307.6L216.6 307.6L216.85 307.6L217.1 307.6L217.35 307.6L217.6 307.6L217.85 307.6L218.1 307.6L218.35 307.6L218.6 307.6L218.85 307.6L219.1 307.6L219.35 307.6L219.6 307.6L219.85 307.6L220.1 307.6L220.35 307.6L220.6 307.6L220.85 307.6L221.1 307.6L221.35 307.6L221.6 307.6L221.85 307.6L222.1 307.6L222.35 307.6L222.6 307.6L222.85 307.6L222.8 307.6L223.1 307.73L223.4 307.83L223.7 307.91L224 307.98L224.3 308.04L224.6 308.08L224.9 308.13L225.2 308.16L225.5 308.19L225.8 308.22L226.1 308.24L226.4 308.26L226.7 308.28L227 308.29L227.3 308.31L227.6 308.32L227.9 308.33L228.2 308.33L228.5 308.34L228.8 308.35L229.1 308.35L229.4 308.36L229.7 308.36L230 308.36L230.3 308.37L230.6 308.37L230.9 308.37L231.2 308.37L231.5 308.37L231.8 308.37L232.1 308.37L232.4 308.37L232.7 308.37L233 308.37L233.3 308.37L233.6 308.37L233.9 308.37L234.2 308.37L234.5 308.37L234.8 308.36L235.1 308.36L235.4 308.36L235.7 308.36L236 308.36L236.3 308.36L236.6 308.36L236.9 308.35L237.2 308.35L237.5 308.35L237.8 308.35L238.8 308.34L239.8 308.34L240.8 308.33L241.8 308.33L242.8 308.32L243.8 308.32L244.8 308.31L245.8 308.31L246.8 308.3L247.8 308.3L248.8 308.29L249.8 308.29L250.8 308.28L251.8 308.28L252.8 308.28L253.8 308.27L254.8 308.27L255.8 308.27L256.8 308.26L257.8 308.26L258.8 308.26L259.8 308.26L260.8 308.25L261.8 308.25L262.8 308.25L263.8 308.25L264.8 308.24L265.8 308.24L266.8 308.24L267.8 308.24L268.8 308.24L269.8 308.24L270.8 308.23L271.8 308.23L272.8 308.23L273.8 308.23L274.8 308.23L275.8 308.23L276.8 308.23L277.8 308.22L278.6 308.22" fill="none" stroke="#000" stroke-width="0.75" stroke-linejoin="round"/><path d="M163.6 308.2L187.6 308.2L187.85 307.85L188.1 307.52L188.35 307.23L188.6 306.95L188.85 306.7L189.1 306.47L189.35 306.26L189.6 306.06L189.85 305.88L190.1 305.71L190.35 305.56L190.6 305.42L190.85 305.29L191.1 305.17L191.35 305.06L191.6 304.96L191.85 304.87L192.1 304.78L192.35 304.7L192.6 304.63L192.85 304.56L193.1 304.5L193.35 304.45L193.6 304.4L193.85 304.35L194.1 304.3L194.35 304.26L194.6 304.23L194.85 304.19L195.1 304.16L195.35 304.13L195.6 304.11L195.85 304.08L196.1 304.06L196.35 304.04L196.6 304.02L196.85 304L197.1 303.99L197.35 303.97L197.6 303.96L197.85 303.94L198.1 303.93L198.35 303.92L198.6 303.91L198.85 303.9L199.1 303.9L199.35 303.89L199.6 303.88L199.85 303.87L200.1 303.87L200.35 303.86L200.6 303.86L200.85 303.85L201.1 303.85L201.35 303.84L201.6 303.84L201.85 303.84L202.1 303.84L202.35 303.83L202.6 303.83L202.85 303.83L203.1 303.83L203.35 303.82L203.6 303.82L203.85 303.82L204.1 303.82L204.35 303.82L204.6 303.82L204.85 303.81L205.1 303.81L205.35 303.81L205.6 303.81L205.85 303.81L206.1 303.81L206.35 303.81L206.6 303.81L206.85 303.81L207.1 303.81L207.35 303.81L207.6 303.81L207.85 303.81L208.1 303.8L208.35 303.8L208.6 303.8L208.85 303.8L209.1 303.8L209.35 303.8L209.6 303.8L209.85 303.8L210.1 303.8L210.35 303.8L210.6 303.8L210.85 303.8L211.1 303.8L211.35 303.8L211.6 303.8L211.85 303.8L212.1 303.8L212.35 303.8L212.6 303.8L212.85 303.8L213.1 303.8L213.35 303.8L213.6 303.8L213.85 303.8L214.1 303.8L214.35 303.8L214.6 303.8L214.85 303.8L215.1 303.8L215.35 303.8L215.6 303.8L215.85 303.8L216.1 303.8L216.35 303.8L216.6 303.8L216.85 303.8L217.1 303.8L217.35 303.8L217.6 303.8L217.85 303.8L218.1 303.8L218.35 303.8L218.6 303.8L218.85 303.8L219.1 303.8L219.35 303.8L219.6 303.8L219.85 303.8L220.1 303.8L220.35 303.8L220.6 303.8L220.85 303.8L221.1 303.8L221.35 303.8L221.6 303.8L221.85 303.8L222.1 303.8L222.35 303.8L222.6 303.8L222.85 303.8L222.8 303.8L223.1 304.57L223.4 305.18L223.7 305.66L224 306.06L224.3 306.38L224.6 306.65L224.9 306.88L225.2 307.07L225.5 307.24L225.8 307.39L226.1 307.52L226.4 307.63L226.7 307.73L227 307.82L227.3 307.89L227.6 307.96L227.9 308.02L228.2 308.08L228.5 308.12L228.8 308.17L229.1 308.2L229.4 308.24L229.7 308.27L230 308.29L230.3 308.31L230.6 308.33L230.9 308.35L231.2 308.37L231.5 308.38L231.8 308.39L232.1 308.4L232.4 308.41L232.7 308.42L233 308.42L233.3 308.43L233.6 308.43L233.9 308.44L234.2 308.44L234.5 308.44L234.8 308.44L235.1 308.44L235.4 308.44L235.7 308.44L236 308.44L236.3 308.44L236.6 308.44L236.9 308.44L237.2 308.44L237.5 308.44L237.8 308.44L238.8 308.43L239.8 308.42L240.8 308.42L241.8 308.41L242.8 308.4L243.8 308.39L244.8 308.38L245.8 308.37L246.8 308.37L247.8 308.36L248.8 308.35L249.8 308.35L250.8 308.34L251.8 308.33L252.8 308.33L253.8 308.32L254.8 308.32L255.8 308.31L256.8 308.31L257.8 308.3L258.8 308.3L259.8 308.29L260.8 308.29L261.8 308.28L262.8 308.28L263.8 308.28L264.8 308.27L265.8 308.27L266.8 308.27L267.8 308.26L268.8 308.26L269.8 308.26L270.8 308.26L271.8 308.25L272.8 308.25L273.8 308.25L274.8 308.25L275.8 308.24L276.8 308.24L277.8 308.24L278.6 308.24" fill="none" stroke="#000" stroke-width="0.75" stroke-linejoin="round"/><path d="M163.6 308.2L187.6 308.2L187.85 307.58L188.1 307L188.35 306.47L188.6 305.99L188.85 305.54L189.1 305.13L189.35 304.75L189.6 304.4L189.85 304.08L190.1 303.79L190.35 303.52L190.6 303.27L190.85 303.04L191.1 302.83L191.35 302.63L191.6 302.46L191.85 302.29L192.1 302.14L192.35 302L192.6 301.87L192.85 301.76L193.1 301.65L193.35 301.55L193.6 301.46L193.85 301.37L194.1 301.29L194.35 301.22L194.6 301.16L194.85 301.1L195.1 301.04L195.35 300.99L195.6 300.94L195.85 300.9L196.1 300.86L196.35 300.82L196.6 300.79L196.85 300.76L197.1 300.73L197.35 300.7L197.6 300.68L197.85 300.66L198.1 300.64L198.35 300.62L198.6 300.6L198.85 300.58L199.1 300.57L199.35 300.56L199.6 300.54L199.85 300.53L200.1 300.52L200.35 300.51L200.6 300.5L200.85 300.49L201.1 300.49L201.35 300.48L201.6 300.47L201.85 300.47L202.1 300.46L202.35 300.46L202.6 300.45L202.85 300.45L203.1 300.44L203.35 300.44L203.6 300.44L203.85 300.43L204.1 300.43L204.35 300.43L204.6 300.43L204.85 300.42L205.1 300.42L205.35 300.42L205.6 300.42L205.85 300.42L206.1 300.42L206.35 300.42L206.6 300.41L206.85 300.41L207.1 300.41L207.35 300.41L207.6 300.41L207.85 300.41L208.1 300.41L208.35 300.41L208.6 300.41L208.85 300.41L209.1 300.41L209.35 300.41L209.6 300.41L209.85 300.4L210.1 300.4L210.35 300.4L210.6 300.4L210.85 300.4L211.1 300.4L211.35 300.4L211.6 300.4L211.85 300.4L212.1 300.4L212.35 300.4L212.6 300.4L212.85 300.4L213.1 300.4L213.35 300.4L213.6 300.4L213.85 300.4L214.1 300.4L214.35 300.4L214.6 300.4L214.85 300.4L215.1 300.4L215.35 300.4L215.6 300.4L215.85 300.4L216.1 300.4L216.35 300.4L216.6 300.4L216.85 300.4L217.1 300.4L217.35 300.4L217.6 300.4L217.85 300.4L218.1 300.4L218.35 300.4L218.6 300.4L218.85 300.4L219.1 300.4L219.35 300.4L219.6 300.4L219.85 300.4L220.1 300.4L220.35 300.4L220.6 300.4L220.85 300.4L221.1 300.4L221.35 300.4L221.6 300.4L221.85 300.4L222.1 300.4L222.35 300.4L222.6 300.4L222.85 300.4L222.8 300.4L223.1 301.76L223.4 302.83L223.7 303.68L224 304.37L224.3 304.94L224.6 305.42L224.9 305.82L225.2 306.16L225.5 306.46L225.8 306.72L226.1 306.94L226.4 307.14L226.7 307.31L227 307.47L227.3 307.6L227.6 307.72L227.9 307.83L228.2 307.93L228.5 308.01L228.8 308.08L229.1 308.15L229.4 308.21L229.7 308.26L230 308.31L230.3 308.35L230.6 308.38L230.9 308.41L231.2 308.44L231.5 308.46L231.8 308.49L232.1 308.5L232.4 308.52L232.7 308.53L233 308.54L233.3 308.55L233.6 308.56L233.9 308.57L234.2 308.57L234.5 308.58L234.8 308.58L235.1 308.58L235.4 308.58L235.7 308.58L236 308.58L236.3 308.58L236.6 308.58L236.9 308.58L237.2 308.58L237.5 308.58L237.8 308.58L238.8 308.57L239.8 308.56L240.8 308.54L241.8 308.53L242.8 308.52L243.8 308.5L244.8 308.49L245.8 308.48L246.8 308.47L247.8 308.46L248.8 308.44L249.8 308.43L250.8 308.42L251.8 308.41L252.8 308.4L253.8 308.4L254.8 308.39L255.8 308.38L256.8 308.37L257.8 308.36L258.8 308.36L259.8 308.35L260.8 308.34L261.8 308.34L262.8 308.33L263.8 308.32L264.8 308.32L265.8 308.31L266.8 308.31L267.8 308.3L268.8 308.3L269.8 308.29L270.8 308.29L271.8 308.29L272.8 308.28L273.8 308.28L274.8 308.28L275.8 308.27L276.8 308.27L277.8 308.27L278.6 308.26" fill="none" stroke="#000" stroke-width="0.75" stroke-linejoin="round"/><path d="M163.6 308.2L187.6 308.2L187.85 306.9L188.1 305.72L188.35 304.65L188.6 303.68L188.85 302.81L189.1 302.02L189.35 301.3L189.6 300.66L189.85 300.07L190.1 299.54L190.35 299.06L190.6 298.63L190.85 298.23L191.1 297.88L191.35 297.56L191.6 297.27L191.85 297L192.1 296.76L192.35 296.55L192.6 296.35L192.85 296.18L193.1 296.02L193.35 295.87L193.6 295.74L193.85 295.62L194.1 295.52L194.35 295.42L194.6 295.33L194.85 295.25L195.1 295.18L195.35 295.12L195.6 295.06L195.85 295.01L196.1 294.96L196.35 294.91L196.6 294.87L196.85 294.84L197.1 294.81L197.35 294.78L197.6 294.75L197.85 294.73L198.1 294.71L198.35 294.69L198.6 294.67L198.85 294.65L199.1 294.64L199.35 294.62L199.6 294.61L199.85 294.6L200.1 294.59L200.35 294.58L200.6 294.58L200.85 294.57L201.1 294.56L201.35 294.56L201.6 294.55L201.85 294.55L202.1 294.54L202.35 294.54L202.5 294.5L202.81 296.98L203.4 299L203.65 298.94L203.9 298.88L204.15 298.82L204.4 298.76L204.65 298.71L204.9 298.66L205.15 298.62L205.4 298.57L205.65 298.53L205.9 298.49L206.15 298.45L206.4 298.41L206.65 298.38L206.9 298.35L207.15 298.31L207.4 298.28L207.65 298.26L207.9 298.23L208.15 298.2L208.4 298.18L208.65 298.15L208.9 298.13L209.15 298.11L209.4 298.09L209.65 298.07L209.9 298.05L210.15 298.04L210.4 298.02L210.65 298L210.9 297.99L211.15 297.98L211.4 297.96L211.65 297.95L211.9 297.94L212.15 297.93L212.4 297.91L212.65 297.9L212.9 297.89L213.15 297.88L213.4 297.88L213.65 297.87L213.9 297.86L214.15 297.85L214.4 297.84L214.65 297.84L214.9 297.83L215.15 297.82L215.4 297.82L215.65 297.81L215.9 297.81L216.15 297.8L216.4 297.8L216.65 297.79L216.9 297.79L217.15 297.78L217.4 297.78L217.65 297.78L217.9 297.77L218.15 297.77L218.4 297.76L218.65 297.76L218.9 297.76L219.15 297.76L219.4 297.75L219.65 297.75L219.9 297.75L220.15 297.75L220.4 297.74L220.65 297.74L220.9 297.74L221.15 297.74L221.4 297.74L221.65 297.73L221.9 297.73L222.15 297.73L222.4 297.73L222.65 297.73L222.9 297.73L222.8 297.73L223.1 299.57L223.4 301.01L223.7 302.16L224 303.1L224.3 303.87L224.6 304.51L224.9 305.06L225.2 305.52L225.5 305.93L225.8 306.28L226.1 306.58L226.4 306.85L226.7 307.09L227 307.29L227.3 307.48L227.6 307.64L227.9 307.79L228.2 307.91L228.5 308.03L228.8 308.13L229.1 308.22L229.4 308.3L229.7 308.36L230 308.43L230.3 308.48L230.6 308.53L230.9 308.57L231.2 308.6L231.5 308.64L231.8 308.66L232.1 308.69L232.4 308.71L232.7 308.72L233 308.74L233.3 308.75L233.6 308.76L233.9 308.77L234.2 308.77L234.5 308.78L234.8 308.78L235.1 308.78L235.4 308.79L235.7 308.79L236 308.78L236.3 308.78L236.6 308.78L236.9 308.78L237.2 308.78L237.5 308.77L237.8 308.77L238.8 308.75L239.8 308.74L240.8 308.72L241.8 308.7L242.8 308.68L243.8 308.66L244.8 308.64L245.8 308.62L246.8 308.6L247.8 308.58L248.8 308.57L249.8 308.55L250.8 308.54L251.8 308.52L252.8 308.51L253.8 308.49L254.8 308.48L255.8 308.47L256.8 308.46L257.8 308.44L258.8 308.43L259.8 308.42L260.8 308.41L261.8 308.4L262.8 308.39L263.8 308.39L264.8 308.38L265.8 308.37L266.8 308.36L267.8 308.36L268.8 308.35L269.8 308.34L270.8 308.34L271.8 308.33L272.8 308.32L273.8 308.32L274.8 308.31L275.8 308.31L276.8 308.3L277.8 308.3L278.6 308.29" fill="none" stroke="#000" stroke-width="0.75" stroke-linejoin="round"/><path d="M163.6 308.2L187.6 308.2L187.85 306.47L188.1 304.95L188.35 303.6L188.6 302.42L188.85 301.37L189.1 300.44L189.35 299.63L189.6 298.91L189.85 298.27L190.1 297.71L190.35 297.22L190.6 296.78L190.85 296.39L191.1 296.05L191.35 295.75L191.6 295.49L191.85 295.26L192.1 295.05L192.35 294.87L192.6 294.71L192.85 294.56L193.1 294.44L193.35 294.33L193.6 294.23L193.85 294.15L194.1 294.07L194.35 294L194.5 293.5L194.81 295.98L195.4 298L195.65 297.88L195.9 297.76L196.15 297.65L196.4 297.55L196.65 297.45L196.9 297.35L197.15 297.26L197.4 297.18L197.65 297.09L197.9 297.02L198.15 296.94L198.4 296.87L198.65 296.81L198.9 296.74L199.15 296.68L199.4 296.62L199.65 296.57L199.9 296.52L200.15 296.47L200.4 296.42L200.65 296.37L200.9 296.33L201.15 296.29L201.4 296.25L201.65 296.22L201.9 296.18L202.15 296.15L202.4 296.12L202.65 296.09L202.9 296.06L203.15 296.03L203.4 296L203.65 295.98L203.9 295.96L204.15 295.93L204.4 295.91L204.65 295.89L204.9 295.87L205.15 295.86L205.4 295.84L205.65 295.82L205.9 295.81L206.15 295.79L206.4 295.78L206.65 295.76L206.9 295.75L207.15 295.74L207.4 295.73L207.65 295.72L207.9 295.71L208.15 295.7L208.4 295.69L208.65 295.68L208.9 295.67L209.15 295.66L209.4 295.65L209.65 295.64L209.9 295.64L210.15 295.63L210.4 295.62L210.65 295.62L210.9 295.61L211.15 295.61L211.4 295.6L211.65 295.6L211.9 295.59L212.15 295.59L212.4 295.58L212.65 295.58L212.9 295.58L213.15 295.57L213.4 295.57L213.65 295.56L213.9 295.56L214.15 295.56L214.4 295.56L214.65 295.55L214.9 295.55L215.15 295.55L215.4 295.55L215.65 295.54L215.9 295.54L216.15 295.54L216.4 295.54L216.65 295.54L216.9 295.53L217.15 295.53L217.4 295.53L217.65 295.53L217.9 295.53L218.15 295.53L218.4 295.53L218.65 295.52L218.9 295.52L219.15 295.52L219.4 295.52L219.65 295.52L219.9 295.52L220.15 295.52L220.4 295.52L220.65 295.52L220.9 295.52L221.15 295.51L221.4 295.51L221.65 295.51L221.9 295.51L222.15 295.51L222.4 295.51L222.65 295.51L222.9 295.51L222.8 295.51L223.1 297.75L223.4 299.51L223.7 300.92L224 302.06L224.3 303.01L224.6 303.79L224.9 304.46L225.2 305.03L225.5 305.52L225.8 305.95L226.1 306.32L226.4 306.65L226.7 306.94L227 307.19L227.3 307.42L227.6 307.62L227.9 307.79L228.2 307.95L228.5 308.09L228.8 308.21L229.1 308.32L229.4 308.41L229.7 308.5L230 308.57L230.3 308.63L230.6 308.69L230.9 308.74L231.2 308.78L231.5 308.82L231.8 308.85L232.1 308.88L232.4 308.9L232.7 308.92L233 308.94L233.3 308.95L233.6 308.96L233.9 308.97L234.2 308.98L234.5 308.98L234.8 308.99L235.1 308.99L235.4 308.99L235.7 308.99L236 308.99L236.3 308.99L236.6 308.98L236.9 308.98L237.2 308.97L237.5 308.97L237.8 308.96L238.8 308.94L239.8 308.92L240.8 308.89L241.8 308.86L242.8 308.84L243.8 308.81L244.8 308.78L245.8 308.76L246.8 308.74L247.8 308.71L248.8 308.69L249.8 308.67L250.8 308.65L251.8 308.63L252.8 308.61L253.8 308.59L254.8 308.57L255.8 308.56L256.8 308.54L257.8 308.53L258.8 308.51L259.8 308.5L260.8 308.48L261.8 308.47L262.8 308.46L263.8 308.45L264.8 308.44L265.8 308.43L266.8 308.42L267.8 308.41L268.8 308.4L269.8 308.39L270.8 308.38L271.8 308.37L272.8 308.36L273.8 308.36L274.8 308.35L275.8 308.34L276.8 308.34L277.8 308.33L278.6 308.33" fill="none" stroke="#000" stroke-width="0.75" stroke-linejoin="round"/><path d="M163.6 308.2L187.6 308.2L187.85 305.79L188.1 303.75L188.35 302.02L188.6 300.56L188.85 299.32L189.1 298.28L189.2 292.5L189.51 294.98L190.1 297L190.35 296.81L190.6 296.64L190.85 296.47L191.1 296.31L191.35 296.16L191.6 296.02L191.85 295.88L192.1 295.75L192.35 295.62L192.6 295.5L192.85 295.39L193.1 295.29L193.35 295.18L193.6 295.09L193.85 294.99L194.1 294.91L194.35 294.82L194.6 294.74L194.85 294.67L195.1 294.6L195.35 294.53L195.6 294.46L195.85 294.4L196.1 294.34L196.35 294.29L196.6 294.24L196.85 294.19L197.1 294.14L197.35 294.09L197.6 294.05L197.85 294.01L198.1 293.97L198.35 293.93L198.6 293.89L198.85 293.86L199.1 293.83L199.35 293.8L199.6 293.77L199.85 293.74L200.1 293.71L200.35 293.69L200.6 293.67L200.85 293.64L201.1 293.62L201.35 293.6L201.6 293.58L201.85 293.56L202.1 293.54L202.35 293.53L202.6 293.51L202.85 293.5L203.1 293.48L203.35 293.47L203.6 293.46L203.85 293.44L204.1 293.43L204.35 293.42L204.6 293.41L204.85 293.4L205.1 293.39L205.35 293.38L205.6 293.37L205.85 293.36L206.1 293.35L206.35 293.35L206.6 293.34L206.85 293.33L207.1 293.33L207.35 293.32L207.6 293.31L207.85 293.31L208.1 293.3L208.35 293.3L208.6 293.29L208.85 293.29L209.1 293.29L209.35 293.28L209.6 293.28L209.85 293.27L210.1 293.27L210.35 293.27L210.6 293.26L210.85 293.26L211.1 293.26L211.35 293.25L211.6 293.25L211.85 293.25L212.1 293.25L212.35 293.24L212.6 293.24L212.85 293.24L213.1 293.24L213.35 293.24L213.6 293.23L213.85 293.23L214.1 293.23L214.35 293.23L214.6 293.23L214.85 293.23L215.1 293.23L215.35 293.22L215.6 293.22L215.85 293.22L216.1 293.22L216.35 293.22L216.6 293.22L216.85 293.22L217.1 293.22L217.35 293.22L217.6 293.22L217.85 293.21L218.1 293.21L218.35 293.21L218.6 293.21L218.85 293.21L219.1 293.21L219.35 293.21L219.6 293.21L219.85 293.21L220.1 293.21L220.35 293.21L220.6 293.21L220.85 293.21L221.1 293.21L221.35 293.21L221.6 293.21L221.85 293.21L222.1 293.21L222.35 293.21L222.6 293.21L222.85 293.21L222.8 293.21L223.1 295.87L223.4 297.96L223.7 299.63L224 300.98L224.3 302.1L224.6 303.04L224.9 303.83L225.2 304.51L225.5 305.09L225.8 305.6L226.1 306.05L226.4 306.43L226.7 306.78L227 307.08L227.3 307.35L227.6 307.58L227.9 307.79L228.2 307.98L228.5 308.14L228.8 308.28L229.1 308.41L229.4 308.52L229.7 308.62L230 308.71L230.3 308.78L230.6 308.85L230.9 308.91L231.2 308.96L231.5 309L231.8 309.04L232.1 309.07L232.4 309.1L232.7 309.12L233 309.14L233.3 309.16L233.6 309.17L233.9 309.18L234.2 309.19L234.5 309.19L234.8 309.19L235.1 309.19L235.4 309.19L235.7 309.19L236 309.19L236.3 309.19L236.6 309.18L236.9 309.18L237.2 309.17L237.5 309.16L237.8 309.16L238.8 309.13L239.8 309.1L240.8 309.06L241.8 309.03L242.8 309L243.8 308.96L244.8 308.93L245.8 308.9L246.8 308.87L247.8 308.84L248.8 308.81L249.8 308.79L250.8 308.76L251.8 308.73L252.8 308.71L253.8 308.69L254.8 308.67L255.8 308.65L256.8 308.63L257.8 308.61L258.8 308.59L259.8 308.57L260.8 308.56L261.8 308.54L262.8 308.52L263.8 308.51L264.8 308.5L265.8 308.48L266.8 308.47L267.8 308.46L268.8 308.45L269.8 308.44L270.8 308.43L271.8 308.42L272.8 308.41L273.8 308.4L274.8 308.39L275.8 308.38L276.8 308.37L277.8 308.36L278.6 308.36" fill="none" stroke="#000" stroke-width="0.75" stroke-linejoin="round"/><path d="M163.6 308.2L187.6 308.2L187.85 305.06L188.1 302.51L188.35 300.44L188.6 298.76L188.85 297.39L188.8 291.5L189.12 293.98L189.7 296L189.96 295.66L190.23 295.32L190.49 295L190.76 294.68L191.02 294.36L191.29 294.06L191.55 293.76L191.82 293.47L192.08 293.19L192.35 292.92L192.61 292.66L192.88 292.42L193.14 292.19L193.41 291.97L193.67 291.78L193.94 291.61L194.2 291.5L194.2 291.5L194.51 293.98L195.1 296L195.35 295.77L195.6 295.55L195.85 295.35L196.1 295.15L196.35 294.96L196.6 294.78L196.85 294.61L197.1 294.45L197.35 294.3L197.6 294.15L197.85 294.01L198.1 293.88L198.35 293.75L198.6 293.63L198.85 293.52L199.1 293.41L199.35 293.31L199.6 293.21L199.85 293.12L200.1 293.03L200.35 292.94L200.6 292.86L200.85 292.79L201.1 292.72L201.35 292.65L201.6 292.58L201.85 292.52L202.1 292.46L202.35 292.4L202.6 292.35L202.85 292.3L203.1 292.25L203.35 292.2L203.6 292.16L203.85 292.12L204.1 292.08L204.35 292.04L204.6 292L204.85 291.97L205.1 291.94L205.35 291.91L205.6 291.88L205.85 291.85L206.1 291.82L206.35 291.8L206.6 291.77L206.85 291.75L207.1 291.73L207.35 291.71L207.6 291.69L207.85 291.67L208.1 291.65L208.35 291.63L208.6 291.62L208.85 291.6L209.1 291.59L209.35 291.57L209.6 291.56L209.85 291.55L210.1 291.53L210.35 291.52L210.6 291.51L210.85 291.5L211.1 291.49L211.35 291.48L211.6 291.47L211.85 291.46L212.1 291.46L212.35 291.45L212.6 291.44L212.85 291.44L213.1 291.43L213.35 291.42L213.6 291.42L213.85 291.41L214.1 291.41L214.35 291.4L214.6 291.4L214.85 291.39L215.1 291.39L215.35 291.38L215.6 291.38L215.85 291.37L216.1 291.37L216.35 291.37L216.6 291.36L216.85 291.36L217.1 291.36L217.35 291.35L217.6 291.35L217.85 291.35L218.1 291.35L218.35 291.34L218.6 291.34L218.85 291.34L219.1 291.34L219.35 291.34L219.6 291.33L219.85 291.33L220.1 291.33L220.35 291.33L220.6 291.33L220.85 291.33L221.1 291.33L221.35 291.32L221.6 291.32L221.85 291.32L222.1 291.32L222.35 291.32L222.6 291.32L222.85 291.32L222.8 291.32L223.1 294.33L223.4 296.69L223.7 298.58L224 300.12L224.3 301.39L224.6 302.45L224.9 303.35L225.2 304.12L225.5 304.78L225.8 305.36L226.1 305.86L226.4 306.3L226.7 306.69L227 307.03L227.3 307.33L227.6 307.6L227.9 307.84L228.2 308.04L228.5 308.23L228.8 308.39L229.1 308.53L229.4 308.66L229.7 308.77L230 308.87L230.3 308.95L230.6 309.03L230.9 309.09L231.2 309.15L231.5 309.2L231.8 309.24L232.1 309.28L232.4 309.3L232.7 309.33L233 309.35L233.3 309.37L233.6 309.38L233.9 309.39L234.2 309.4L234.5 309.4L234.8 309.4L235.1 309.4L235.4 309.4L235.7 309.4L236 309.4L236.3 309.39L236.6 309.38L236.9 309.38L237.2 309.37L237.5 309.36L237.8 309.35L238.8 309.32L239.8 309.28L240.8 309.24L241.8 309.2L242.8 309.16L243.8 309.12L244.8 309.08L245.8 309.04L246.8 309L247.8 308.97L248.8 308.93L249.8 308.9L250.8 308.87L251.8 308.84L252.8 308.81L253.8 308.79L254.8 308.76L255.8 308.74L256.8 308.71L257.8 308.69L258.8 308.67L259.8 308.65L260.8 308.63L261.8 308.61L262.8 308.59L263.8 308.57L264.8 308.56L265.8 308.54L266.8 308.52L267.8 308.51L268.8 308.5L269.8 308.48L270.8 308.47L271.8 308.46L272.8 308.45L273.8 308.44L274.8 308.43L275.8 308.42L276.8 308.41L277.8 308.4L278.6 308.39" fill="none" stroke="#000" stroke-width="0.75" stroke-linejoin="round"/><path d="M202.5 294.5L202.58 273L202.68 296.5M194.5 293.5L194.58 260L194.68 295.5M189.2 292.5L189.28 259.5L189.38 294.5M188.8 291.5L188.88 259.5L188.98 293.5M194.2 291.5L194.28 262L194.38 293.5" fill="none" stroke="#333" stroke-width="0.45" stroke-linejoin="round"/><line x1="163.6" y1="308.2" x2="187.6" y2="308.2" stroke="#000" stroke-width="0.5"/><path d="M288.8 307.5L311.8 307.5L312.05 307.8L312.3 308.08L312.55 308.33L312.8 308.57L313.05 308.8L313.3 309L313.55 309.2L313.8 309.38L314.05 309.54L314.3 309.7L314.55 309.84L314.8 309.97L315.05 310.1L315.3 310.21L315.55 310.32L315.8 310.42L316.05 310.51L316.3 310.6L316.55 310.68L316.8 310.76L317.05 310.82L317.3 310.89L317.55 310.95L317.8 311L318.05 311.05L318.3 311.1L318.55 311.15L318.8 311.19L319.05 311.22L319.3 311.26L319.55 311.29L319.8 311.32L320.05 311.35L320.3 311.38L320.55 311.4L320.8 311.42L321.05 311.44L321.3 311.46L321.55 311.48L321.8 311.49L322.05 311.51L322.3 311.52L322.55 311.54L322.8 311.55L323.05 311.56L323.3 311.57L323.55 311.58L323.8 311.58L324.05 311.59L324.3 311.6L324.55 311.61L324.8 311.61L325.05 311.62L325.3 311.62L325.55 311.63L325.8 311.63L326.05 311.63L326.3 311.64L326.55 311.64L326.8 311.64L327.05 311.64L327.3 311.65L327.55 311.65L327.8 311.65L328.05 311.65L328.3 311.65L328.55 311.65L328.8 311.65L329.05 311.66L329.3 311.66L329.55 311.66L329.8 311.66L330.05 311.66L330.3 311.66L330.55 311.66L330.8 311.66L331.05 311.66L331.3 311.66L331.55 311.66L331.8 311.66L332.05 311.66L332.3 311.66L332.55 311.66L332.8 311.66L333.05 311.66L333.3 311.66L333.55 311.65L333.8 311.65L334.05 311.65L334.3 311.65L334.55 311.65L334.8 311.65L335.05 311.65L335.3 311.65L335.55 311.65L335.8 311.65L336.05 311.65L336.3 311.65L336.55 311.65L336.8 311.65L337.05 311.65L337.3 311.65L337.55 311.64L337.8 311.64L338.05 311.64L338.3 311.64L338.55 311.64L338.8 311.64L339.05 311.64L339.3 311.64L339.55 311.64L339.8 311.64L340.05 311.64L340.3 311.64L340.55 311.64L340.8 311.64L341.05 311.64L341.3 311.64L341.55 311.63L341.8 311.63L342.05 311.63L342.3 311.63L342.55 311.63L342.8 311.63L343.05 311.63L343.3 311.63L343.55 311.63L343.8 311.63L344.05 311.63L344.3 311.63L344.55 311.63L344.8 311.63L345.05 311.63L345.3 311.63L345.55 311.63L345.8 311.63L345.8 311.63L346.1 310.9L346.4 310.35L346.7 309.91L347 309.57L347.3 309.29L347.6 309.06L347.9 308.87L348.2 308.71L348.5 308.57L348.8 308.45L349.1 308.35L349.4 308.26L349.7 308.18L350 308.11L350.3 308.04L350.6 307.99L350.9 307.94L351.2 307.89L351.5 307.85L351.8 307.82L352.1 307.78L352.4 307.75L352.7 307.73L353 307.71L353.3 307.68L353.6 307.67L353.9 307.65L354.2 307.63L354.5 307.62L354.8 307.61L355.1 307.6L355.4 307.59L355.7 307.58L356 307.57L356.3 307.56L356.6 307.56L356.9 307.55L357.2 307.55L357.5 307.54L357.8 307.54L358.1 307.53L358.4 307.53L358.7 307.53L359 307.52L359.3 307.52L359.6 307.52L359.9 307.52L360.2 307.52L360.5 307.51L360.8 307.51L361.8 307.51L362.8 307.51L363.8 307.5L364.8 307.5L365.8 307.5L366.8 307.5L367.8 307.5L368.8 307.5L369.8 307.5L370.8 307.5L371.8 307.5L372.8 307.5L373.8 307.5L374.8 307.5L375.8 307.5L376.8 307.5L377.8 307.5L378.8 307.5L379.8 307.5L380.8 307.5L381.8 307.5L382.8 307.5L383.8 307.5L384.8 307.5L385.8 307.5L386.8 307.5L387.8 307.5L388.8 307.5L389.8 307.5L390.8 307.5L391.8 307.5L392.8 307.5L393.8 307.5L394.8 307.5L395.8 307.5L396.8 307.5L397.8 307.5L398.8 307.5L399.8 307.5" fill="none" stroke="#000" stroke-width="0.75" stroke-linejoin="round"/><path d="M288.8 307.5L311.8 307.5L312.05 307.44L312.3 307.39L312.55 307.34L312.8 307.3L313.05 307.27L313.3 307.24L313.55 307.21L313.8 307.18L314.05 307.16L314.3 307.14L314.55 307.13L314.8 307.11L315.05 307.1L315.3 307.09L315.55 307.08L315.8 307.07L316.05 307.06L316.3 307.05L316.55 307.05L316.8 307.04L317.05 307.04L317.3 307.03L317.55 307.03L317.8 307.02L318.05 307.02L318.3 307.02L318.55 307.02L318.8 307.02L319.05 307.01L319.3 307.01L319.55 307.01L319.8 307.01L320.05 307.01L320.3 307.01L320.55 307.01L320.8 307.01L321.05 307L321.3 307L321.55 307L321.8 307L322.05 307L322.3 307L322.55 307L322.8 307L323.05 307L323.3 307L323.55 307L323.8 307L324.05 307L324.3 307L324.55 307L324.8 307L325.05 307L325.3 307L325.55 307L325.8 307L326.05 307L326.3 307L326.55 307L326.8 307L327.05 307L327.3 307L327.55 307L327.8 307L328.05 307L328.3 307L328.55 307L328.8 307L329.05 307L329.3 307L329.55 307L329.8 307L330.05 307L330.3 307L330.55 307L330.8 307L331.05 307L331.3 307L331.55 307L331.8 307L332.05 307L332.3 307L332.55 307L332.8 307L333.05 307L333.3 307L333.55 307L333.8 307L334.05 307L334.3 307L334.55 307L334.8 307L335.05 307L335.3 307L335.55 307L335.8 307L336.05 307L336.3 307L336.55 307L336.8 307L337.05 307L337.3 307L337.55 307L337.8 307L338.05 307L338.3 307L338.55 307L338.8 307L339.05 307L339.3 307L339.55 307L339.8 307L340.05 307L340.3 307L340.55 307L340.8 307L341.05 307L341.3 307L341.55 307L341.8 307L342.05 307L342.3 307L342.55 307L342.8 307L343.05 307L343.3 307L343.55 307L343.8 307L344.05 307L344.3 307L344.55 307L344.8 307L345.05 307L345.3 307L345.55 307L345.8 307L345.8 307L346.1 307.12L346.4 307.21L346.7 307.28L347 307.34L347.3 307.39L347.6 307.44L347.9 307.47L348.2 307.5L348.5 307.53L348.8 307.55L349.1 307.57L349.4 307.59L349.7 307.6L350 307.61L350.3 307.62L350.6 307.63L350.9 307.64L351.2 307.65L351.5 307.65L351.8 307.66L352.1 307.66L352.4 307.67L352.7 307.67L353 307.67L353.3 307.67L353.6 307.67L353.9 307.68L354.2 307.68L354.5 307.68L354.8 307.68L355.1 307.68L355.4 307.68L355.7 307.67L356 307.67L356.3 307.67L356.6 307.67L356.9 307.67L357.2 307.67L357.5 307.67L357.8 307.67L358.1 307.66L358.4 307.66L358.7 307.66L359 307.66L359.3 307.66L359.6 307.66L359.9 307.65L360.2 307.65L360.5 307.65L360.8 307.65L361.8 307.64L362.8 307.64L363.8 307.63L364.8 307.63L365.8 307.62L366.8 307.62L367.8 307.61L368.8 307.61L369.8 307.6L370.8 307.6L371.8 307.59L372.8 307.59L373.8 307.58L374.8 307.58L375.8 307.58L376.8 307.57L377.8 307.57L378.8 307.57L379.8 307.56L380.8 307.56L381.8 307.56L382.8 307.56L383.8 307.55L384.8 307.55L385.8 307.55L386.8 307.55L387.8 307.54L388.8 307.54L389.8 307.54L390.8 307.54L391.8 307.54L392.8 307.54L393.8 307.53L394.8 307.53L395.8 307.53L396.8 307.53L397.8 307.53L398.8 307.53L399.8 307.53" fill="none" stroke="#000" stroke-width="0.75" stroke-linejoin="round"/><path d="M288.8 307.5L311.8 307.5L312.05 307.06L312.3 306.66L312.55 306.28L312.8 305.94L313.05 305.63L313.3 305.34L313.55 305.07L313.8 304.82L314.05 304.6L314.3 304.39L314.55 304.2L314.8 304.02L315.05 303.86L315.3 303.71L315.55 303.58L315.8 303.45L316.05 303.33L316.3 303.23L316.55 303.13L316.8 303.04L317.05 302.96L317.3 302.88L317.55 302.81L317.8 302.74L318.05 302.68L318.3 302.63L318.55 302.58L318.8 302.53L319.05 302.49L319.3 302.45L319.55 302.42L319.8 302.38L320.05 302.35L320.3 302.32L320.55 302.3L320.8 302.27L321.05 302.25L321.3 302.23L321.55 302.21L321.8 302.2L322.05 302.18L322.3 302.17L322.55 302.15L322.8 302.14L323.05 302.13L323.3 302.12L323.55 302.11L323.8 302.1L324.05 302.09L324.3 302.09L324.55 302.08L324.8 302.07L325.05 302.07L325.3 302.06L325.55 302.06L325.8 302.05L326.05 302.05L326.3 302.04L326.55 302.04L326.8 302.04L327.05 302.03L327.3 302.03L327.55 302.03L327.8 302.03L328.05 302.02L328.3 302.02L328.55 302.02L328.8 302.02L329.05 302.02L329.3 302.02L329.55 302.01L329.8 302.01L330.05 302.01L330.3 302.01L330.55 302.01L330.8 302.01L331.05 302.01L331.3 302.01L331.55 302.01L331.8 302.01L332.05 302.01L332.3 302.01L332.55 302.01L332.8 302.01L333.05 302L333.3 302L333.55 302L333.8 302L334.05 302L334.3 302L334.55 302L334.8 302L335.05 302L335.3 302L335.55 302L335.8 302L336.05 302L336.3 302L336.55 302L336.8 302L337.05 302L337.3 302L337.55 302L337.8 302L338.05 302L338.3 302L338.55 302L338.8 302L339.05 302L339.3 302L339.55 302L339.8 302L340.05 302L340.3 302L340.55 302L340.8 302L341.05 302L341.3 302L341.55 302L341.8 302L342.05 302L342.3 302L342.55 302L342.8 302L343.05 302L343.3 302L343.55 302L343.8 302L344.05 302L344.3 302L344.55 302L344.8 302L345.05 302L345.3 302L345.55 302L345.8 302L345.8 302L346.1 303.02L346.4 303.81L346.7 304.43L347 304.93L347.3 305.33L347.6 305.67L347.9 305.95L348.2 306.18L348.5 306.39L348.8 306.56L349.1 306.71L349.4 306.85L349.7 306.96L350 307.07L350.3 307.16L350.6 307.24L350.9 307.31L351.2 307.37L351.5 307.43L351.8 307.47L352.1 307.52L352.4 307.56L352.7 307.59L353 307.62L353.3 307.65L353.6 307.67L353.9 307.69L354.2 307.71L354.5 307.72L354.8 307.74L355.1 307.75L355.4 307.76L355.7 307.76L356 307.77L356.3 307.78L356.6 307.78L356.9 307.79L357.2 307.79L357.5 307.79L357.8 307.79L358.1 307.79L358.4 307.79L358.7 307.79L359 307.79L359.3 307.79L359.6 307.79L359.9 307.79L360.2 307.79L360.5 307.79L360.8 307.78L361.8 307.78L362.8 307.77L363.8 307.76L364.8 307.75L365.8 307.74L366.8 307.73L367.8 307.72L368.8 307.71L369.8 307.7L370.8 307.69L371.8 307.68L372.8 307.68L373.8 307.67L374.8 307.66L375.8 307.65L376.8 307.65L377.8 307.64L378.8 307.63L379.8 307.63L380.8 307.62L381.8 307.62L382.8 307.61L383.8 307.61L384.8 307.6L385.8 307.6L386.8 307.59L387.8 307.59L388.8 307.58L389.8 307.58L390.8 307.58L391.8 307.57L392.8 307.57L393.8 307.57L394.8 307.56L395.8 307.56L396.8 307.56L397.8 307.56L398.8 307.55L399.8 307.55" fill="none" stroke="#000" stroke-width="0.75" stroke-linejoin="round"/><path d="M288.8 307.5L311.8 307.5L312.05 306.82L312.3 306.2L312.55 305.62L312.8 305.09L313.05 304.6L313.3 304.16L313.55 303.74L313.8 303.36L314.05 303.02L314.3 302.69L314.55 302.4L314.8 302.13L315.05 301.88L315.3 301.65L315.55 301.44L315.8 301.24L316.05 301.06L316.3 300.9L316.55 300.74L316.8 300.61L317.05 300.48L317.3 300.36L317.55 300.25L317.8 300.15L318.05 300.06L318.3 299.97L318.55 299.9L318.8 299.82L319.05 299.76L319.3 299.7L319.55 299.64L319.8 299.59L320.05 299.54L320.3 299.5L320.55 299.46L320.8 299.42L321.05 299.39L321.3 299.36L321.55 299.33L321.8 299.3L322.05 299.28L322.3 299.26L322.55 299.24L322.8 299.22L323.05 299.2L323.3 299.18L323.55 299.17L323.8 299.16L324.05 299.14L324.3 299.13L324.55 299.12L324.8 299.11L325.05 299.1L325.3 299.09L325.55 299.09L325.8 299.08L326.05 299.07L326.3 299.07L326.55 299.06L326.8 299.06L327.05 299.05L327.3 299.05L327.55 299.04L327.8 299.04L328.05 299.04L328.3 299.03L328.55 299.03L328.8 299.03L329.05 299.03L329.3 299.02L329.55 299.02L329.8 299.02L330.05 299.02L330.3 299.02L330.55 299.02L330.8 299.02L331.05 299.01L331.3 299.01L331.55 299.01L331.8 299.01L332.05 299.01L332.3 299.01L332.55 299.01L332.8 299.01L333.05 299.01L333.3 299.01L333.55 299.01L333.8 299.01L334.05 299.01L334.3 299L334.55 299L334.8 299L335.05 299L335.3 299L335.55 299L335.8 299L336.05 299L336.3 299L336.55 299L336.8 299L337.05 299L337.3 299L337.55 299L337.8 299L338.05 299L338.3 299L338.55 299L338.8 299L339.05 299L339.3 299L339.55 299L339.8 299L340.05 299L340.3 299L340.55 299L340.8 299L341.05 299L341.3 299L341.55 299L341.8 299L342.05 299L342.3 299L342.55 299L342.8 299L343.05 299L343.3 299L343.55 299L343.8 299L344.05 299L344.3 299L344.55 299L344.8 299L345.05 299L345.3 299L345.55 299L345.8 299L345.8 299L346.1 300.58L346.4 301.79L346.7 302.75L347 303.52L347.3 304.14L347.6 304.66L347.9 305.09L348.2 305.45L348.5 305.76L348.8 306.03L349.1 306.27L349.4 306.47L349.7 306.65L350 306.81L350.3 306.95L350.6 307.08L350.9 307.18L351.2 307.28L351.5 307.37L351.8 307.44L352.1 307.51L352.4 307.57L352.7 307.62L353 307.67L353.3 307.71L353.6 307.74L353.9 307.77L354.2 307.8L354.5 307.83L354.8 307.85L355.1 307.86L355.4 307.88L355.7 307.89L356 307.9L356.3 307.91L356.6 307.92L356.9 307.93L357.2 307.93L357.5 307.93L357.8 307.94L358.1 307.94L358.4 307.94L358.7 307.94L359 307.94L359.3 307.94L359.6 307.94L359.9 307.93L360.2 307.93L360.5 307.93L360.8 307.93L361.8 307.91L362.8 307.9L363.8 307.89L364.8 307.87L365.8 307.86L366.8 307.84L367.8 307.83L368.8 307.81L369.8 307.8L370.8 307.79L371.8 307.78L372.8 307.76L373.8 307.75L374.8 307.74L375.8 307.73L376.8 307.72L377.8 307.71L378.8 307.7L379.8 307.69L380.8 307.68L381.8 307.68L382.8 307.67L383.8 307.66L384.8 307.65L385.8 307.65L386.8 307.64L387.8 307.63L388.8 307.63L389.8 307.62L390.8 307.62L391.8 307.61L392.8 307.61L393.8 307.6L394.8 307.6L395.8 307.59L396.8 307.59L397.8 307.58L398.8 307.58L399.8 307.58" fill="none" stroke="#000" stroke-width="0.75" stroke-linejoin="round"/><path d="M288.8 307.5L311.8 307.5L312.05 306.26L312.3 305.14L312.55 304.13L312.8 303.21L313.05 302.38L313.3 301.63L313.55 300.96L313.8 300.34L314.05 299.79L314.3 299.28L314.55 298.83L314.8 298.42L315.05 298.04L315.3 297.71L315.55 297.4L315.8 297.12L316.05 296.87L316.3 296.65L316.55 296.44L316.8 296.26L317.05 296.09L317.3 295.94L317.55 295.8L317.8 295.68L318.05 295.57L318.3 295.47L318.55 295.37L318.8 295.29L319 294.5L319.31 296.98L319.9 299L320.15 298.9L320.4 298.81L320.65 298.72L320.9 298.64L321.15 298.56L321.4 298.48L321.65 298.41L321.9 298.34L322.15 298.28L322.4 298.21L322.65 298.15L322.9 298.1L323.15 298.04L323.4 297.99L323.65 297.94L323.9 297.9L324.15 297.85L324.4 297.81L324.65 297.77L324.9 297.74L325.15 297.7L325.4 297.67L325.65 297.63L325.9 297.6L326.15 297.57L326.4 297.55L326.65 297.52L326.9 297.49L327.15 297.47L327.4 297.45L327.65 297.42L327.9 297.4L328.15 297.38L328.4 297.37L328.65 297.35L328.9 297.33L329.15 297.31L329.4 297.3L329.65 297.28L329.9 297.27L330.15 297.26L330.4 297.24L330.65 297.23L330.9 297.22L331.15 297.21L331.4 297.2L331.65 297.19L331.9 297.18L332.15 297.17L332.4 297.16L332.65 297.16L332.9 297.15L333.15 297.14L333.4 297.13L333.65 297.13L333.9 297.12L334.15 297.12L334.4 297.11L334.65 297.1L334.9 297.1L335.15 297.09L335.4 297.09L335.65 297.09L335.9 297.08L336.15 297.08L336.4 297.07L336.65 297.07L336.9 297.07L337.15 297.06L337.4 297.06L337.65 297.06L337.9 297.05L338.15 297.05L338.4 297.05L338.65 297.05L338.9 297.04L339.15 297.04L339.4 297.04L339.65 297.04L339.9 297.04L340.15 297.03L340.4 297.03L340.65 297.03L340.9 297.03L341.15 297.03L341.4 297.03L341.65 297.03L341.9 297.02L342.15 297.02L342.4 297.02L342.65 297.02L342.9 297.02L343.15 297.02L343.4 297.02L343.65 297.02L343.9 297.02L344.15 297.02L344.4 297.01L344.65 297.01L344.9 297.01L345.15 297.01L345.4 297.01L345.65 297.01L345.9 297.01L345.8 297.01L346.1 298.96L346.4 300.47L346.7 301.66L347 302.61L347.3 303.39L347.6 304.03L347.9 304.56L348.2 305.02L348.5 305.4L348.8 305.74L349.1 306.03L349.4 306.29L349.7 306.51L350 306.71L350.3 306.88L350.6 307.03L350.9 307.17L351.2 307.29L351.5 307.39L351.8 307.49L352.1 307.57L352.4 307.64L352.7 307.71L353 307.77L353.3 307.81L353.6 307.86L353.9 307.9L354.2 307.93L354.5 307.96L354.8 307.98L355.1 308L355.4 308.02L355.7 308.04L356 308.05L356.3 308.06L356.6 308.07L356.9 308.08L357.2 308.08L357.5 308.09L357.8 308.09L358.1 308.09L358.4 308.09L358.7 308.09L359 308.09L359.3 308.09L359.6 308.09L359.9 308.08L360.2 308.08L360.5 308.07L360.8 308.07L361.8 308.05L362.8 308.04L363.8 308.02L364.8 308L365.8 307.98L366.8 307.96L367.8 307.94L368.8 307.92L369.8 307.9L370.8 307.88L371.8 307.87L372.8 307.85L373.8 307.84L374.8 307.82L375.8 307.81L376.8 307.79L377.8 307.78L378.8 307.77L379.8 307.76L380.8 307.74L381.8 307.73L382.8 307.72L383.8 307.71L384.8 307.7L385.8 307.69L386.8 307.69L387.8 307.68L388.8 307.67L389.8 307.66L390.8 307.66L391.8 307.65L392.8 307.64L393.8 307.64L394.8 307.63L395.8 307.62L396.8 307.62L397.8 307.61L398.8 307.61L399.8 307.6" fill="none" stroke="#000" stroke-width="0.75" stroke-linejoin="round"/><path d="M288.8 307.5L311.8 307.5L312.05 305.27L312.3 303.39L312.55 301.79L312.8 300.44L313.05 299.3L313.3 298.33L313.55 297.52L313.8 296.82L313.9 293L314.21 295.48L314.8 297.5L315.05 297.33L315.3 297.17L315.55 297.01L315.8 296.87L316.05 296.73L316.3 296.59L316.55 296.47L316.8 296.35L317.05 296.23L317.3 296.12L317.55 296.02L317.8 295.92L318.05 295.83L318.3 295.74L318.55 295.65L318.8 295.57L319.05 295.5L319.3 295.42L319.55 295.35L319.8 295.29L320.05 295.22L320.3 295.17L320.55 295.11L320.8 295.05L321.05 295L321.3 294.95L321.55 294.91L321.8 294.86L322.05 294.82L322.3 294.78L322.55 294.74L322.8 294.71L323.05 294.67L323.3 294.64L323.55 294.61L323.8 294.58L324.05 294.55L324.3 294.52L324.55 294.5L324.8 294.47L325.05 294.45L325.3 294.43L325.55 294.41L325.8 294.39L326.05 294.37L326.3 294.35L326.55 294.33L326.8 294.32L327.05 294.3L327.3 294.29L327.55 294.27L327.8 294.26L328.05 294.25L328.3 294.24L328.55 294.22L328.8 294.21L329.05 294.2L329.3 294.19L329.55 294.18L329.8 294.17L330.05 294.17L330.3 294.16L330.55 294.15L330.8 294.14L331.05 294.14L331.3 294.13L331.55 294.12L331.8 294.12L332.05 294.11L332.3 294.11L332.55 294.1L332.8 294.1L333.05 294.09L333.3 294.09L333.55 294.08L333.8 294.08L334.05 294.07L334.3 294.07L334.55 294.07L334.8 294.06L335.05 294.06L335.3 294.06L335.55 294.06L335.8 294.05L336.05 294.05L336.3 294.05L336.55 294.05L336.8 294.04L337.05 294.04L337.3 294.04L337.55 294.04L337.8 294.04L338.05 294.03L338.3 294.03L338.55 294.03L338.8 294.03L339.05 294.03L339.3 294.03L339.55 294.02L339.8 294.02L340.05 294.02L340.3 294.02L340.55 294.02L340.8 294.02L341.05 294.02L341.3 294.02L341.55 294.02L341.8 294.02L342.05 294.02L342.3 294.01L342.55 294.01L342.8 294.01L343.05 294.01L343.3 294.01L343.55 294.01L343.8 294.01L344.05 294.01L344.3 294.01L344.55 294.01L344.8 294.01L345.05 294.01L345.3 294.01L345.55 294.01L345.8 294.01L346.05 294.01L345.8 294.01L346.1 296.52L346.4 298.47L346.7 300.01L347 301.23L347.3 302.23L347.6 303.06L347.9 303.75L348.2 304.33L348.5 304.83L348.8 305.27L349.1 305.64L349.4 305.97L349.7 306.26L350 306.51L350.3 306.74L350.6 306.94L350.9 307.11L351.2 307.26L351.5 307.4L351.8 307.52L352.1 307.63L352.4 307.72L352.7 307.81L353 307.88L353.3 307.94L353.6 308L353.9 308.05L354.2 308.09L354.5 308.13L354.8 308.16L355.1 308.18L355.4 308.21L355.7 308.23L356 308.24L356.3 308.26L356.6 308.27L356.9 308.28L357.2 308.28L357.5 308.29L357.8 308.29L358.1 308.29L358.4 308.29L358.7 308.29L359 308.29L359.3 308.29L359.6 308.28L359.9 308.28L360.2 308.27L360.5 308.27L360.8 308.26L361.8 308.24L362.8 308.22L363.8 308.19L364.8 308.16L365.8 308.14L366.8 308.11L367.8 308.08L368.8 308.06L369.8 308.04L370.8 308.01L371.8 307.99L372.8 307.97L373.8 307.95L374.8 307.93L375.8 307.91L376.8 307.89L377.8 307.87L378.8 307.86L379.8 307.84L380.8 307.83L381.8 307.81L382.8 307.8L383.8 307.78L384.8 307.77L385.8 307.76L386.8 307.75L387.8 307.74L388.8 307.73L389.8 307.72L390.8 307.71L391.8 307.7L392.8 307.69L393.8 307.68L394.8 307.67L395.8 307.66L396.8 307.66L397.8 307.65L398.8 307.64L399.8 307.64" fill="none" stroke="#000" stroke-width="0.75" stroke-linejoin="round"/><path d="M288.8 307.5L311.8 307.5L312.05 304.59L312.3 302.22L312.55 300.3L312.8 298.74L313.05 297.47L313.2 292L313.51 294.48L314.1 296.5L314.35 296.28L314.6 296.07L314.85 295.87L315.1 295.68L315.35 295.5L315.6 295.33L315.85 295.17L316.1 295.02L316.35 294.87L316.6 294.73L316.85 294.6L317.1 294.47L317.35 294.35L317.6 294.23L317.85 294.13L318.1 294.02L318.35 293.92L318.6 293.83L318.85 293.74L319.1 293.66L319.35 293.57L319.6 293.5L319.85 293.42L320.1 293.36L320.35 293.29L320.6 293.23L320.85 293.17L321.1 293.11L321.35 293.06L321.6 293L321.85 292.96L322.1 292.91L322.35 292.86L322.6 292.82L322.85 292.78L323.1 292.74L323.35 292.71L323.6 292.67L323.85 292.64L324.1 292.61L324.35 292.58L324.6 292.55L324.85 292.52L325.1 292.5L325.35 292.47L325.6 292.45L325.85 292.43L326.1 292.41L326.35 292.39L326.6 292.37L326.85 292.35L327.1 292.33L327.35 292.32L327.6 292.3L327.85 292.29L328.1 292.27L328.35 292.26L328.6 292.25L328.85 292.24L329.1 292.22L329.35 292.21L329.6 292.2L329.85 292.19L330.1 292.18L330.35 292.17L330.6 292.17L330.85 292.16L331.1 292.15L331.35 292.14L331.6 292.14L331.85 292.13L332.1 292.12L332.35 292.12L332.6 292.11L332.85 292.11L333.1 292.1L333.35 292.1L333.6 292.09L333.85 292.09L334.1 292.08L334.35 292.08L334.6 292.07L334.85 292.07L335.1 292.07L335.35 292.06L335.6 292.06L335.85 292.06L336.1 292.06L336.35 292.05L336.6 292.05L336.85 292.05L337.1 292.05L337.35 292.04L337.6 292.04L337.85 292.04L338.1 292.04L338.35 292.04L338.6 292.03L338.85 292.03L339.1 292.03L339.35 292.03L339.6 292.03L339.85 292.03L340.1 292.02L340.35 292.02L340.6 292.02L340.85 292.02L341.1 292.02L341.35 292.02L341.6 292.02L341.85 292.02L342.1 292.02L342.35 292.02L342.6 292.02L342.85 292.01L343.1 292.01L343.35 292.01L343.6 292.01L343.85 292.01L344.1 292.01L344.35 292.01L344.6 292.01L344.85 292.01L345.1 292.01L345.35 292.01L345.6 292.01L345.85 292.01L345.8 292.01L346.1 294.91L346.4 297.16L346.7 298.94L347 300.35L347.3 301.51L347.6 302.47L347.9 303.27L348.2 303.94L348.5 304.53L348.8 305.03L349.1 305.46L349.4 305.84L349.7 306.18L350 306.47L350.3 306.73L350.6 306.96L350.9 307.16L351.2 307.34L351.5 307.49L351.8 307.63L352.1 307.75L352.4 307.86L352.7 307.96L353 308.04L353.3 308.11L353.6 308.18L353.9 308.23L354.2 308.28L354.5 308.32L354.8 308.36L355.1 308.39L355.4 308.41L355.7 308.43L356 308.45L356.3 308.47L356.6 308.48L356.9 308.49L357.2 308.49L357.5 308.5L357.8 308.5L358.1 308.5L358.4 308.5L358.7 308.5L359 308.49L359.3 308.49L359.6 308.48L359.9 308.48L360.2 308.47L360.5 308.46L360.8 308.46L361.8 308.43L362.8 308.4L363.8 308.36L364.8 308.33L365.8 308.3L366.8 308.26L367.8 308.23L368.8 308.2L369.8 308.17L370.8 308.14L371.8 308.11L372.8 308.09L373.8 308.06L374.8 308.03L375.8 308.01L376.8 307.99L377.8 307.97L378.8 307.95L379.8 307.93L380.8 307.91L381.8 307.89L382.8 307.87L383.8 307.86L384.8 307.84L385.8 307.82L386.8 307.81L387.8 307.8L388.8 307.78L389.8 307.77L390.8 307.76L391.8 307.75L392.8 307.74L393.8 307.73L394.8 307.72L395.8 307.71L396.8 307.7L397.8 307.69L398.8 307.68L399.8 307.67" fill="none" stroke="#000" stroke-width="0.75" stroke-linejoin="round"/><path d="M319 294.5L319.08 276L319.18 296.5M313.9 293L313.98 258.5L314.08 295M313.2 292L313.28 258L313.38 294" fill="none" stroke="#333" stroke-width="0.45" stroke-linejoin="round"/><line x1="288.8" y1="307.5" x2="311.8" y2="307.5" stroke="#000" stroke-width="0.5"/></g>
<g><rect x="439.2" y="146.6" width="33.0" height="3.2" fill="#8a8a8a"/><rect x="438.75" y="146.45" width="3.5" height="3.5" fill="#000"/><rect x="446.95" y="146.45" width="3.5" height="3.5" fill="#000"/><rect x="455.15" y="146.45" width="3.5" height="3.5" fill="#000"/><rect x="463.35" y="146.45" width="3.5" height="3.5" fill="#000"/><line x1="508.9" y1="97.4" x2="508.9" y2="102.4" stroke="#989898" stroke-width="0.7"/><line x1="517.1" y1="93.2" x2="517.1" y2="98.2" stroke="#989898" stroke-width="0.7"/><line x1="525.3" y1="96.9" x2="525.3" y2="102.9" stroke="#989898" stroke-width="0.7"/><line x1="533.5" y1="97.4" x2="533.5" y2="102.4" stroke="#989898" stroke-width="0.7"/><circle cx="508.9" cy="99.9" r="1.75" fill="#989898"/><circle cx="517.1" cy="95.7" r="1.75" fill="#989898"/><circle cx="525.3" cy="99.9" r="1.75" fill="#989898"/><circle cx="533.5" cy="99.9" r="1.75" fill="#989898"/><line x1="475.7" y1="141.6" x2="475.7" y2="145.6" stroke="#bdbdbd" stroke-width="1.7"/><line x1="483.9" y1="116" x2="483.9" y2="130" stroke="#bdbdbd" stroke-width="1.7"/><line x1="492.1" y1="99.2" x2="492.1" y2="115.2" stroke="#bdbdbd" stroke-width="1.7"/><line x1="500.3" y1="91.3" x2="500.3" y2="105.3" stroke="#bdbdbd" stroke-width="1.7"/><line x1="508.5" y1="77" x2="508.5" y2="89" stroke="#bdbdbd" stroke-width="1.7"/><line x1="516.7" y1="82.7" x2="516.7" y2="94.7" stroke="#bdbdbd" stroke-width="1.7"/><line x1="524.9" y1="73" x2="524.9" y2="85" stroke="#bdbdbd" stroke-width="1.7"/><line x1="533.1" y1="80.8" x2="533.1" y2="92.8" stroke="#bdbdbd" stroke-width="1.7"/><path d="M473.2 141.1L478.45 143.6L473.2 146.1Z" fill="#ababab"/><path d="M481.4 120.5L486.65 123L481.4 125.5Z" fill="#ababab"/><path d="M489.6 104.7L494.85 107.2L489.6 109.7Z" fill="#ababab"/><path d="M497.8 95.8L503.05 98.3L497.8 100.8Z" fill="#ababab"/><path d="M506 80.5L511.25 83L506 85.5Z" fill="#ababab"/><path d="M514.2 86.2L519.45 88.7L514.2 91.2Z" fill="#ababab"/><path d="M522.4 76.5L527.65 79L522.4 81.5Z" fill="#ababab"/><path d="M530.6 84.3L535.85 86.8L530.6 89.3Z" fill="#ababab"/><line x1="485.8" y1="134.3" x2="485.8" y2="138.3" stroke="#858585" stroke-width="0.7"/><line x1="494" y1="123.2" x2="494" y2="127.2" stroke="#858585" stroke-width="0.7"/><line x1="502.2" y1="118.3" x2="502.2" y2="122.3" stroke="#858585" stroke-width="0.7"/><line x1="510.4" y1="111.2" x2="510.4" y2="116.2" stroke="#858585" stroke-width="0.7"/><line x1="518.6" y1="111.2" x2="518.6" y2="116.2" stroke="#858585" stroke-width="0.7"/><line x1="526.8" y1="111.2" x2="526.8" y2="116.2" stroke="#858585" stroke-width="0.7"/><line x1="535" y1="111.2" x2="535" y2="116.2" stroke="#858585" stroke-width="0.7"/><path d="M485.8 134.2L487.59 136.3L485.8 138.4L484.01 136.3Z" fill="#858585"/><path d="M494 123.1L495.79 125.2L494 127.3L492.21 125.2Z" fill="#858585"/><path d="M502.2 118.2L503.99 120.3L502.2 122.4L500.41 120.3Z" fill="#858585"/><path d="M510.4 111.6L512.19 113.7L510.4 115.8L508.62 113.7Z" fill="#858585"/><path d="M518.6 111.6L520.38 113.7L518.6 115.8L516.81 113.7Z" fill="#858585"/><path d="M526.8 111.6L528.58 113.7L526.8 115.8L525.01 113.7Z" fill="#858585"/><path d="M535 111.6L536.78 113.7L535 115.8L533.22 113.7Z" fill="#858585"/><line x1="487.2" y1="136.9" x2="487.2" y2="140.9" stroke="#000" stroke-width="0.7"/><line x1="495.4" y1="130.4" x2="495.4" y2="133.4" stroke="#000" stroke-width="0.7"/><line x1="503.6" y1="126.2" x2="503.6" y2="129.2" stroke="#000" stroke-width="0.7"/><line x1="511.8" y1="126.2" x2="511.8" y2="129.2" stroke="#000" stroke-width="0.7"/><line x1="520" y1="123.2" x2="520" y2="127.2" stroke="#000" stroke-width="0.7"/><line x1="528.2" y1="120.5" x2="528.2" y2="125.5" stroke="#000" stroke-width="0.7"/><line x1="536.4" y1="123.6" x2="536.4" y2="127.6" stroke="#000" stroke-width="0.7"/><circle cx="487.2" cy="138.9" r="1.75" fill="#000"/><circle cx="495.4" cy="131.9" r="1.75" fill="#000"/><circle cx="503.6" cy="127.7" r="1.75" fill="#000"/><circle cx="511.8" cy="127.7" r="1.75" fill="#000"/><circle cx="520" cy="125.2" r="1.75" fill="#000"/><circle cx="528.2" cy="123" r="1.75" fill="#000"/><circle cx="536.4" cy="125.6" r="1.75" fill="#000"/><line x1="473.3" y1="133.9" x2="473.3" y2="143.9" stroke="#111" stroke-width="0.7"/><line x1="481.5" y1="116" x2="481.5" y2="130" stroke="#111" stroke-width="0.7"/><line x1="489.7" y1="96.9" x2="489.7" y2="116.9" stroke="#111" stroke-width="0.7"/><line x1="497.9" y1="85.7" x2="497.9" y2="105.7" stroke="#111" stroke-width="0.7"/><line x1="506.1" y1="77.4" x2="506.1" y2="95.4" stroke="#111" stroke-width="0.7"/><line x1="514.3" y1="77.3" x2="514.3" y2="91.3" stroke="#111" stroke-width="0.7"/><line x1="522.5" y1="74.2" x2="522.5" y2="89.2" stroke="#111" stroke-width="0.7"/><line x1="530.7" y1="73.7" x2="530.7" y2="89.7" stroke="#111" stroke-width="0.7"/><rect x="471.55" y="137.15" width="3.5" height="3.5" fill="#000"/><rect x="479.75" y="121.25" width="3.5" height="3.5" fill="#000"/><rect x="487.95" y="105.15" width="3.5" height="3.5" fill="#000"/><rect x="496.15" y="93.95" width="3.5" height="3.5" fill="#000"/><rect x="504.35" y="84.65" width="3.5" height="3.5" fill="#000"/><rect x="512.55" y="82.55" width="3.5" height="3.5" fill="#000"/><rect x="520.75" y="79.95" width="3.5" height="3.5" fill="#000"/><rect x="528.95" y="79.95" width="3.5" height="3.5" fill="#000"/><rect x="439.2" y="329.5" width="41.2" height="3.2" fill="#8a8a8a"/><rect x="438.75" y="329.35" width="3.5" height="3.5" fill="#000"/><rect x="446.95" y="329.35" width="3.5" height="3.5" fill="#000"/><rect x="455.15" y="329.35" width="3.5" height="3.5" fill="#000"/><rect x="463.35" y="329.35" width="3.5" height="3.5" fill="#000"/><rect x="471.55" y="329.35" width="3.5" height="3.5" fill="#000"/><circle cx="479.8" cy="331.1" r="1.75" fill="#333"/><circle cx="485.6" cy="331.1" r="1.75" fill="#999"/><circle cx="487.8" cy="331.1" r="1.75" fill="#000"/><circle cx="490.3" cy="322.3" r="1.75" fill="#bdbdbd"/><circle cx="492.3" cy="325.5" r="1.75" fill="#9a9a9a"/><circle cx="493.9" cy="327.2" r="1.75" fill="#777"/><circle cx="495.6" cy="327.7" r="1.75" fill="#000"/><line x1="489.7" y1="311.2" x2="489.7" y2="318.7" stroke="#000" stroke-width="0.7"/><rect x="487.95" y="314.45" width="3.5" height="3.5" fill="#000"/><circle cx="498.5" cy="313" r="1.75" fill="#bdbdbd"/><circle cx="500.5" cy="320.7" r="1.75" fill="#9a9a9a"/><circle cx="502.1" cy="323.8" r="1.75" fill="#777"/><circle cx="503.8" cy="327.7" r="1.75" fill="#000"/><line x1="497.9" y1="311" x2="497.9" y2="318.5" stroke="#000" stroke-width="0.7"/><rect x="496.15" y="314.25" width="3.5" height="3.5" fill="#000"/><circle cx="506.7" cy="313" r="1.75" fill="#bdbdbd"/><circle cx="508.7" cy="317.7" r="1.75" fill="#9a9a9a"/><circle cx="510.3" cy="320.7" r="1.75" fill="#777"/><circle cx="512" cy="322.9" r="1.75" fill="#000"/><line x1="506.1" y1="304.5" x2="506.1" y2="312" stroke="#000" stroke-width="0.7"/><rect x="504.35" y="307.75" width="3.5" height="3.5" fill="#000"/><circle cx="514.9" cy="309.4" r="1.75" fill="#bdbdbd"/><circle cx="516.9" cy="317.5" r="1.75" fill="#9a9a9a"/><circle cx="518.5" cy="319.5" r="1.75" fill="#777"/><circle cx="520.2" cy="321.1" r="1.75" fill="#000"/><line x1="514.3" y1="301.1" x2="514.3" y2="308.6" stroke="#000" stroke-width="0.7"/><rect x="512.55" y="304.35" width="3.5" height="3.5" fill="#000"/><circle cx="523.1" cy="309.4" r="1.75" fill="#bdbdbd"/><circle cx="525.1" cy="314.2" r="1.75" fill="#9a9a9a"/><circle cx="526.7" cy="318.8" r="1.75" fill="#777"/><circle cx="528.4" cy="319.5" r="1.75" fill="#000"/><line x1="522.5" y1="301.1" x2="522.5" y2="308.6" stroke="#000" stroke-width="0.7"/><rect x="520.75" y="304.35" width="3.5" height="3.5" fill="#000"/><circle cx="531.3" cy="308" r="1.75" fill="#bdbdbd"/><circle cx="533.3" cy="310.6" r="1.75" fill="#9a9a9a"/><circle cx="534.9" cy="313" r="1.75" fill="#777"/><circle cx="536.6" cy="319.5" r="1.75" fill="#000"/><line x1="530.7" y1="299.5" x2="530.7" y2="307" stroke="#000" stroke-width="0.7"/><rect x="528.95" y="302.75" width="3.5" height="3.5" fill="#000"/><line x1="481.5" y1="322.9" x2="481.5" y2="327.9" stroke="#000" stroke-width="0.7"/><rect x="479.75" y="324.15" width="3.5" height="3.5" fill="#000"/></g>
</svg>
</body></html>
